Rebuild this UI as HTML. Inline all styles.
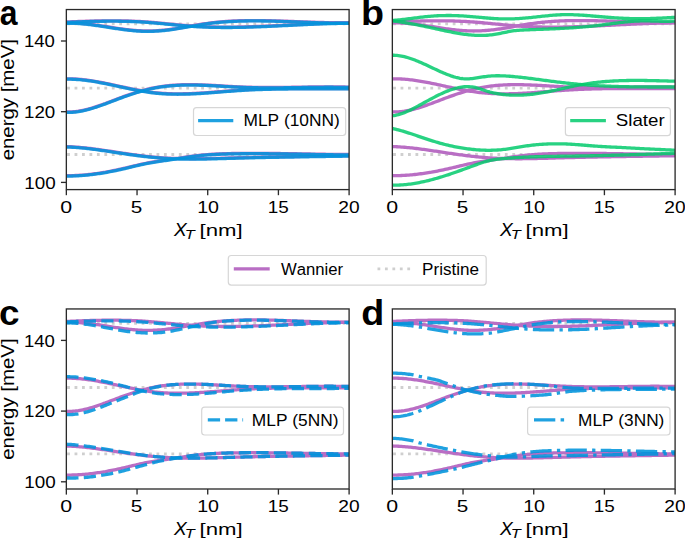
<!DOCTYPE html>
<html><head><meta charset="utf-8"><style>
html,body{margin:0;padding:0;background:#fff;}
svg{display:block;}
text{font-family:"Liberation Sans",sans-serif;fill:#000;font-kerning:none;}
.ax{stroke:#2a2a2a;stroke-width:1.33;fill:none;}
.tk{font-size:17px;}
.xl{font-size:17px;}
.lg{font-size:17px;}
.pl{font-size:35px;font-weight:bold;}
</style></head><body>
<svg width="685" height="539" viewBox="0 0 685 539">
<rect width="685" height="539" fill="#fff"/>

<defs>
<clipPath id="clipa"><rect x="66.35" y="9.55" width="282.75" height="180.05"/></clipPath>
<clipPath id="clipb"><rect x="392.35" y="9.55" width="282.75" height="180.05"/></clipPath>
<clipPath id="clipc"><rect x="66.35" y="308.95" width="282.75" height="180.05"/></clipPath>
<clipPath id="clipd"><rect x="392.35" y="308.95" width="282.75" height="180.05"/></clipPath>
</defs>
<g clip-path="url(#clipa)">
<line x1="66.35" y1="23.90" x2="349.10" y2="23.90" stroke="#cfcfcf" stroke-width="2.8" stroke-dasharray="2.8 4.65" stroke-dashoffset="-0.75"/>
<line x1="66.35" y1="88.10" x2="349.10" y2="88.10" stroke="#cfcfcf" stroke-width="2.8" stroke-dasharray="2.8 4.65" stroke-dashoffset="-0.75"/>
<line x1="66.35" y1="154.50" x2="349.10" y2="154.50" stroke="#cfcfcf" stroke-width="2.8" stroke-dasharray="2.8 4.65" stroke-dashoffset="-0.75"/>
<path d="M66.3,22.01 L67.9,21.94 L69.4,21.88 L70.9,21.82 L72.4,21.75 L73.9,21.69 L75.4,21.63 L76.9,21.58 L78.4,21.52 L79.9,21.46 L81.4,21.41 L82.9,21.36 L84.4,21.30 L85.9,21.26 L87.4,21.21 L88.9,21.16 L90.4,21.12 L91.9,21.08 L93.4,21.04 L94.9,21.01 L96.4,20.97 L97.9,20.94 L99.4,20.91 L100.9,20.89 L102.4,20.86 L103.9,20.84 L105.5,20.83 L107.0,20.81 L108.5,20.80 L110.0,20.80 L111.5,20.79 L113.0,20.80 L114.5,20.80 L116.0,20.81 L117.5,20.82 L119.0,20.83 L120.5,20.85 L122.0,20.88 L123.5,20.91 L125.0,20.94 L126.5,20.97 L128.0,21.02 L129.5,21.06 L131.0,21.11 L132.5,21.17 L134.0,21.23 L135.5,21.30 L137.0,21.37 L138.5,21.44 L140.0,21.52 L141.5,21.61 L143.1,21.70 L144.6,21.80 L146.1,21.90 L147.6,22.01 L149.1,22.13 L150.6,22.25 L152.1,22.37 L153.6,22.50 L155.1,22.63 L156.6,22.76 L158.1,22.90 L159.6,23.04 L161.1,23.18 L162.6,23.33 L164.1,23.47 L165.6,23.62 L167.1,23.77 L168.6,23.92 L170.1,24.06 L171.6,24.21 L173.1,24.36 L174.6,24.51 L176.1,24.65 L177.6,24.79 L179.1,24.93 L180.7,25.07 L182.2,25.21 L183.7,25.34 L185.2,25.47 L186.7,25.59 L188.2,25.71 L189.7,25.83 L191.2,25.94 L192.7,26.05 L194.2,26.15 L195.7,26.24 L197.2,26.33 L198.7,26.41 L200.2,26.49 L201.7,26.56 L203.2,26.63 L204.7,26.69 L206.2,26.75 L207.7,26.81 L209.2,26.85 L210.7,26.90 L212.2,26.94 L213.7,26.97 L215.2,27.00 L216.7,27.03 L218.3,27.05 L219.8,27.07 L221.3,27.09 L222.8,27.10 L224.3,27.10 L225.8,27.11 L227.3,27.11 L228.8,27.10 L230.3,27.09 L231.8,27.08 L233.3,27.07 L234.8,27.05 L236.3,27.03 L237.8,27.01 L239.3,26.98 L240.8,26.95 L242.3,26.92 L243.8,26.88 L245.3,26.84 L246.8,26.80 L248.3,26.76 L249.8,26.72 L251.3,26.67 L252.8,26.62 L254.3,26.57 L255.9,26.51 L257.4,26.46 L258.9,26.40 L260.4,26.34 L261.9,26.28 L263.4,26.22 L264.9,26.16 L266.4,26.09 L267.9,26.03 L269.4,25.96 L270.9,25.89 L272.4,25.82 L273.9,25.75 L275.4,25.68 L276.9,25.60 L278.4,25.53 L279.9,25.46 L281.4,25.38 L282.9,25.31 L284.4,25.23 L285.9,25.16 L287.4,25.08 L288.9,25.01 L290.4,24.93 L291.9,24.86 L293.5,24.78 L295.0,24.71 L296.5,24.63 L298.0,24.56 L299.5,24.48 L301.0,24.41 L302.5,24.34 L304.0,24.27 L305.5,24.20 L307.0,24.13 L308.5,24.06 L310.0,23.99 L311.5,23.92 L313.0,23.86 L314.5,23.80 L316.0,23.73 L317.5,23.67 L319.0,23.61 L320.5,23.56 L322.0,23.50 L323.5,23.45 L325.0,23.40 L326.5,23.35 L328.0,23.30 L329.5,23.26 L331.1,23.21 L332.6,23.17 L334.1,23.14 L335.6,23.10 L337.1,23.07 L338.6,23.04 L340.1,23.01 L341.6,22.99 L343.1,22.97 L344.6,22.95 L346.1,22.94 L347.6,22.93 L349.1,22.92" stroke="#b96ec4" stroke-width="3.3" fill="none" />
<path d="M66.3,22.94 L67.9,22.90 L69.4,22.89 L70.9,22.89 L72.4,22.91 L73.9,22.95 L75.4,23.00 L76.9,23.07 L78.4,23.16 L79.9,23.26 L81.4,23.37 L82.9,23.50 L84.4,23.64 L85.9,23.79 L87.4,23.96 L88.9,24.13 L90.4,24.31 L91.9,24.50 L93.4,24.70 L94.9,24.90 L96.4,25.12 L97.9,25.33 L99.4,25.55 L100.9,25.78 L102.4,26.01 L103.9,26.24 L105.5,26.48 L107.0,26.71 L108.5,26.95 L110.0,27.19 L111.5,27.42 L113.0,27.66 L114.5,27.89 L116.0,28.12 L117.5,28.34 L119.0,28.56 L120.5,28.77 L122.0,28.98 L123.5,29.18 L125.0,29.37 L126.5,29.56 L128.0,29.74 L129.5,29.91 L131.0,30.06 L132.5,30.21 L134.0,30.35 L135.5,30.47 L137.0,30.58 L138.5,30.68 L140.0,30.77 L141.5,30.84 L143.1,30.90 L144.6,30.94 L146.1,30.97 L147.6,30.98 L149.1,30.97 L150.6,30.95 L152.1,30.91 L153.6,30.86 L155.1,30.80 L156.6,30.72 L158.1,30.62 L159.6,30.52 L161.1,30.40 L162.6,30.26 L164.1,30.12 L165.6,29.96 L167.1,29.79 L168.6,29.61 L170.1,29.42 L171.6,29.21 L173.1,29.00 L174.6,28.78 L176.1,28.55 L177.6,28.31 L179.1,28.06 L180.7,27.81 L182.2,27.55 L183.7,27.29 L185.2,27.03 L186.7,26.77 L188.2,26.50 L189.7,26.23 L191.2,25.97 L192.7,25.70 L194.2,25.44 L195.7,25.18 L197.2,24.92 L198.7,24.67 L200.2,24.42 L201.7,24.18 L203.2,23.95 L204.7,23.72 L206.2,23.51 L207.7,23.30 L209.2,23.10 L210.7,22.91 L212.2,22.73 L213.7,22.56 L215.2,22.39 L216.7,22.24 L218.3,22.09 L219.8,21.95 L221.3,21.82 L222.8,21.69 L224.3,21.57 L225.8,21.46 L227.3,21.36 L228.8,21.26 L230.3,21.17 L231.8,21.09 L233.3,21.01 L234.8,20.94 L236.3,20.88 L237.8,20.82 L239.3,20.77 L240.8,20.72 L242.3,20.68 L243.8,20.65 L245.3,20.61 L246.8,20.59 L248.3,20.57 L249.8,20.55 L251.3,20.54 L252.8,20.53 L254.3,20.53 L255.9,20.53 L257.4,20.54 L258.9,20.55 L260.4,20.56 L261.9,20.58 L263.4,20.60 L264.9,20.62 L266.4,20.65 L267.9,20.68 L269.4,20.71 L270.9,20.74 L272.4,20.78 L273.9,20.82 L275.4,20.86 L276.9,20.91 L278.4,20.95 L279.9,21.00 L281.4,21.05 L282.9,21.10 L284.4,21.15 L285.9,21.21 L287.4,21.26 L288.9,21.32 L290.4,21.37 L291.9,21.43 L293.5,21.49 L295.0,21.54 L296.5,21.60 L298.0,21.66 L299.5,21.72 L301.0,21.78 L302.5,21.83 L304.0,21.89 L305.5,21.95 L307.0,22.00 L308.5,22.06 L310.0,22.11 L311.5,22.16 L313.0,22.21 L314.5,22.26 L316.0,22.31 L317.5,22.35 L319.0,22.40 L320.5,22.44 L322.0,22.48 L323.5,22.51 L325.0,22.55 L326.5,22.58 L328.0,22.61 L329.5,22.63 L331.1,22.66 L332.6,22.68 L334.1,22.69 L335.6,22.70 L337.1,22.71 L338.6,22.72 L340.1,22.72 L341.6,22.71 L343.1,22.71 L344.6,22.69 L346.1,22.68 L347.6,22.65 L349.1,22.63" stroke="#b96ec4" stroke-width="3.3" fill="none" />
<path d="M66.3,78.81 L67.9,78.79 L69.4,78.80 L70.9,78.82 L72.4,78.86 L73.9,78.92 L75.4,79.00 L76.9,79.09 L78.4,79.20 L79.9,79.33 L81.4,79.47 L82.9,79.62 L84.4,79.79 L85.9,79.97 L87.4,80.17 L88.9,80.37 L90.4,80.59 L91.9,80.82 L93.4,81.06 L94.9,81.31 L96.4,81.57 L97.9,81.84 L99.4,82.11 L100.9,82.40 L102.4,82.69 L103.9,82.98 L105.5,83.28 L107.0,83.59 L108.5,83.90 L110.0,84.22 L111.5,84.54 L113.0,84.86 L114.5,85.18 L116.0,85.51 L117.5,85.84 L119.0,86.16 L120.5,86.49 L122.0,86.82 L123.5,87.14 L125.0,87.47 L126.5,87.79 L128.0,88.11 L129.5,88.42 L131.0,88.74 L132.5,89.04 L134.0,89.34 L135.5,89.64 L137.0,89.93 L138.5,90.21 L140.0,90.48 L141.5,90.75 L143.1,91.01 L144.6,91.26 L146.1,91.49 L147.6,91.72 L149.1,91.94 L150.6,92.14 L152.1,92.34 L153.6,92.52 L155.1,92.68 L156.6,92.84 L158.1,92.98 L159.6,93.11 L161.1,93.23 L162.6,93.33 L164.1,93.43 L165.6,93.51 L167.1,93.59 L168.6,93.65 L170.1,93.70 L171.6,93.75 L173.1,93.78 L174.6,93.80 L176.1,93.82 L177.6,93.83 L179.1,93.82 L180.7,93.81 L182.2,93.80 L183.7,93.77 L185.2,93.74 L186.7,93.70 L188.2,93.65 L189.7,93.60 L191.2,93.54 L192.7,93.48 L194.2,93.41 L195.7,93.33 L197.2,93.25 L198.7,93.17 L200.2,93.08 L201.7,92.98 L203.2,92.89 L204.7,92.79 L206.2,92.68 L207.7,92.58 L209.2,92.47 L210.7,92.36 L212.2,92.24 L213.7,92.13 L215.2,92.01 L216.7,91.89 L218.3,91.77 L219.8,91.65 L221.3,91.53 L222.8,91.42 L224.3,91.30 L225.8,91.18 L227.3,91.06 L228.8,90.94 L230.3,90.83 L231.8,90.71 L233.3,90.60 L234.8,90.49 L236.3,90.38 L237.8,90.28 L239.3,90.18 L240.8,90.08 L242.3,89.99 L243.8,89.90 L245.3,89.81 L246.8,89.73 L248.3,89.65 L249.8,89.57 L251.3,89.50 L252.8,89.43 L254.3,89.37 L255.9,89.30 L257.4,89.24 L258.9,89.19 L260.4,89.13 L261.9,89.08 L263.4,89.03 L264.9,88.99 L266.4,88.95 L267.9,88.91 L269.4,88.87 L270.9,88.83 L272.4,88.80 L273.9,88.77 L275.4,88.74 L276.9,88.71 L278.4,88.69 L279.9,88.67 L281.4,88.65 L282.9,88.63 L284.4,88.61 L285.9,88.59 L287.4,88.58 L288.9,88.57 L290.4,88.56 L291.9,88.55 L293.5,88.54 L295.0,88.53 L296.5,88.53 L298.0,88.52 L299.5,88.52 L301.0,88.52 L302.5,88.52 L304.0,88.52 L305.5,88.52 L307.0,88.52 L308.5,88.52 L310.0,88.52 L311.5,88.52 L313.0,88.53 L314.5,88.53 L316.0,88.53 L317.5,88.54 L319.0,88.54 L320.5,88.54 L322.0,88.55 L323.5,88.55 L325.0,88.55 L326.5,88.56 L328.0,88.56 L329.5,88.56 L331.1,88.56 L332.6,88.56 L334.1,88.56 L335.6,88.56 L337.1,88.56 L338.6,88.56 L340.1,88.56 L341.6,88.56 L343.1,88.55 L344.6,88.55 L346.1,88.54 L347.6,88.53 L349.1,88.52" stroke="#b96ec4" stroke-width="3.3" fill="none" />
<path d="M66.3,111.88 L67.9,111.93 L69.4,111.94 L70.9,111.91 L72.4,111.85 L73.9,111.74 L75.4,111.60 L76.9,111.42 L78.4,111.22 L79.9,110.98 L81.4,110.71 L82.9,110.41 L84.4,110.08 L85.9,109.73 L87.4,109.35 L88.9,108.95 L90.4,108.53 L91.9,108.09 L93.4,107.63 L94.9,107.15 L96.4,106.66 L97.9,106.15 L99.4,105.63 L100.9,105.10 L102.4,104.56 L103.9,104.01 L105.5,103.45 L107.0,102.88 L108.5,102.31 L110.0,101.74 L111.5,101.17 L113.0,100.59 L114.5,100.02 L116.0,99.45 L117.5,98.88 L119.0,98.32 L120.5,97.76 L122.0,97.21 L123.5,96.66 L125.0,96.13 L126.5,95.59 L128.0,95.07 L129.5,94.56 L131.0,94.05 L132.5,93.55 L134.0,93.06 L135.5,92.59 L137.0,92.12 L138.5,91.67 L140.0,91.22 L141.5,90.79 L143.1,90.38 L144.6,89.97 L146.1,89.58 L147.6,89.21 L149.1,88.85 L150.6,88.51 L152.1,88.18 L153.6,87.87 L155.1,87.57 L156.6,87.30 L158.1,87.04 L159.6,86.79 L161.1,86.56 L162.6,86.35 L164.1,86.15 L165.6,85.96 L167.1,85.79 L168.6,85.63 L170.1,85.49 L171.6,85.36 L173.1,85.24 L174.6,85.13 L176.1,85.04 L177.6,84.95 L179.1,84.88 L180.7,84.82 L182.2,84.77 L183.7,84.73 L185.2,84.69 L186.7,84.67 L188.2,84.66 L189.7,84.65 L191.2,84.66 L192.7,84.67 L194.2,84.69 L195.7,84.71 L197.2,84.74 L198.7,84.78 L200.2,84.83 L201.7,84.87 L203.2,84.93 L204.7,84.99 L206.2,85.05 L207.7,85.12 L209.2,85.19 L210.7,85.27 L212.2,85.35 L213.7,85.43 L215.2,85.51 L216.7,85.60 L218.3,85.68 L219.8,85.77 L221.3,85.86 L222.8,85.95 L224.3,86.04 L225.8,86.13 L227.3,86.22 L228.8,86.30 L230.3,86.39 L231.8,86.47 L233.3,86.55 L234.8,86.63 L236.3,86.71 L237.8,86.78 L239.3,86.85 L240.8,86.92 L242.3,86.98 L243.8,87.04 L245.3,87.09 L246.8,87.14 L248.3,87.18 L249.8,87.22 L251.3,87.26 L252.8,87.29 L254.3,87.32 L255.9,87.35 L257.4,87.37 L258.9,87.39 L260.4,87.41 L261.9,87.42 L263.4,87.44 L264.9,87.44 L266.4,87.45 L267.9,87.45 L269.4,87.45 L270.9,87.45 L272.4,87.45 L273.9,87.44 L275.4,87.44 L276.9,87.43 L278.4,87.42 L279.9,87.41 L281.4,87.39 L282.9,87.38 L284.4,87.36 L285.9,87.34 L287.4,87.32 L288.9,87.30 L290.4,87.28 L291.9,87.26 L293.5,87.24 L295.0,87.22 L296.5,87.20 L298.0,87.18 L299.5,87.15 L301.0,87.13 L302.5,87.11 L304.0,87.09 L305.5,87.07 L307.0,87.04 L308.5,87.02 L310.0,87.00 L311.5,86.99 L313.0,86.97 L314.5,86.95 L316.0,86.93 L317.5,86.92 L319.0,86.91 L320.5,86.89 L322.0,86.88 L323.5,86.88 L325.0,86.87 L326.5,86.87 L328.0,86.86 L329.5,86.86 L331.1,86.86 L332.6,86.87 L334.1,86.88 L335.6,86.89 L337.1,86.90 L338.6,86.91 L340.1,86.93 L341.6,86.95 L343.1,86.98 L344.6,87.01 L346.1,87.04 L347.6,87.07 L349.1,87.11" stroke="#b96ec4" stroke-width="3.3" fill="none" />
<path d="M66.3,146.61 L67.9,146.65 L69.4,146.70 L70.9,146.77 L72.4,146.84 L73.9,146.93 L75.4,147.03 L76.9,147.14 L78.4,147.25 L79.9,147.38 L81.4,147.52 L82.9,147.66 L84.4,147.81 L85.9,147.97 L87.4,148.14 L88.9,148.31 L90.4,148.49 L91.9,148.68 L93.4,148.87 L94.9,149.07 L96.4,149.27 L97.9,149.47 L99.4,149.68 L100.9,149.90 L102.4,150.12 L103.9,150.34 L105.5,150.56 L107.0,150.78 L108.5,151.01 L110.0,151.23 L111.5,151.46 L113.0,151.69 L114.5,151.92 L116.0,152.15 L117.5,152.38 L119.0,152.60 L120.5,152.83 L122.0,153.05 L123.5,153.27 L125.0,153.49 L126.5,153.71 L128.0,153.93 L129.5,154.14 L131.0,154.35 L132.5,154.56 L134.0,154.77 L135.5,154.97 L137.0,155.17 L138.5,155.36 L140.0,155.55 L141.5,155.74 L143.1,155.92 L144.6,156.10 L146.1,156.27 L147.6,156.44 L149.1,156.60 L150.6,156.76 L152.1,156.91 L153.6,157.06 L155.1,157.20 L156.6,157.33 L158.1,157.46 L159.6,157.58 L161.1,157.70 L162.6,157.81 L164.1,157.91 L165.6,158.00 L167.1,158.09 L168.6,158.17 L170.1,158.25 L171.6,158.32 L173.1,158.38 L174.6,158.44 L176.1,158.49 L177.6,158.53 L179.1,158.58 L180.7,158.61 L182.2,158.64 L183.7,158.67 L185.2,158.69 L186.7,158.71 L188.2,158.72 L189.7,158.73 L191.2,158.74 L192.7,158.74 L194.2,158.74 L195.7,158.73 L197.2,158.72 L198.7,158.71 L200.2,158.69 L201.7,158.67 L203.2,158.65 L204.7,158.63 L206.2,158.60 L207.7,158.57 L209.2,158.54 L210.7,158.51 L212.2,158.47 L213.7,158.44 L215.2,158.40 L216.7,158.36 L218.3,158.32 L219.8,158.28 L221.3,158.24 L222.8,158.19 L224.3,158.15 L225.8,158.11 L227.3,158.06 L228.8,158.02 L230.3,157.97 L231.8,157.93 L233.3,157.88 L234.8,157.84 L236.3,157.80 L237.8,157.76 L239.3,157.71 L240.8,157.67 L242.3,157.63 L243.8,157.59 L245.3,157.56 L246.8,157.52 L248.3,157.48 L249.8,157.44 L251.3,157.41 L252.8,157.37 L254.3,157.34 L255.9,157.30 L257.4,157.27 L258.9,157.23 L260.4,157.20 L261.9,157.17 L263.4,157.14 L264.9,157.10 L266.4,157.07 L267.9,157.04 L269.4,157.01 L270.9,156.98 L272.4,156.95 L273.9,156.92 L275.4,156.90 L276.9,156.87 L278.4,156.84 L279.9,156.81 L281.4,156.78 L282.9,156.76 L284.4,156.73 L285.9,156.71 L287.4,156.68 L288.9,156.65 L290.4,156.63 L291.9,156.60 L293.5,156.58 L295.0,156.55 L296.5,156.53 L298.0,156.50 L299.5,156.48 L301.0,156.46 L302.5,156.43 L304.0,156.41 L305.5,156.39 L307.0,156.36 L308.5,156.34 L310.0,156.32 L311.5,156.29 L313.0,156.27 L314.5,156.25 L316.0,156.23 L317.5,156.20 L319.0,156.18 L320.5,156.16 L322.0,156.14 L323.5,156.12 L325.0,156.09 L326.5,156.07 L328.0,156.05 L329.5,156.03 L331.1,156.00 L332.6,155.98 L334.1,155.96 L335.6,155.94 L337.1,155.91 L338.6,155.89 L340.1,155.87 L341.6,155.84 L343.1,155.82 L344.6,155.80 L346.1,155.77 L347.6,155.75 L349.1,155.73" stroke="#b96ec4" stroke-width="3.3" fill="none" />
<path d="M66.3,175.65 L67.9,175.66 L69.4,175.66 L70.9,175.64 L72.4,175.61 L73.9,175.56 L75.4,175.51 L76.9,175.44 L78.4,175.36 L79.9,175.27 L81.4,175.17 L82.9,175.05 L84.4,174.93 L85.9,174.79 L87.4,174.65 L88.9,174.49 L90.4,174.32 L91.9,174.15 L93.4,173.96 L94.9,173.76 L96.4,173.56 L97.9,173.34 L99.4,173.12 L100.9,172.88 L102.4,172.64 L103.9,172.39 L105.5,172.14 L107.0,171.87 L108.5,171.59 L110.0,171.31 L111.5,171.02 L113.0,170.73 L114.5,170.42 L116.0,170.11 L117.5,169.80 L119.0,169.47 L120.5,169.14 L122.0,168.81 L123.5,168.46 L125.0,168.12 L126.5,167.76 L128.0,167.41 L129.5,167.04 L131.0,166.68 L132.5,166.31 L134.0,165.95 L135.5,165.59 L137.0,165.23 L138.5,164.88 L140.0,164.54 L141.5,164.20 L143.1,163.88 L144.6,163.56 L146.1,163.26 L147.6,162.96 L149.1,162.68 L150.6,162.41 L152.1,162.15 L153.6,161.90 L155.1,161.66 L156.6,161.43 L158.1,161.20 L159.6,160.97 L161.1,160.75 L162.6,160.54 L164.1,160.32 L165.6,160.10 L167.1,159.89 L168.6,159.67 L170.1,159.45 L171.6,159.22 L173.1,158.99 L174.6,158.76 L176.1,158.53 L177.6,158.30 L179.1,158.07 L180.7,157.84 L182.2,157.61 L183.7,157.38 L185.2,157.15 L186.7,156.93 L188.2,156.71 L189.7,156.49 L191.2,156.29 L192.7,156.08 L194.2,155.89 L195.7,155.71 L197.2,155.53 L198.7,155.37 L200.2,155.21 L201.7,155.06 L203.2,154.92 L204.7,154.79 L206.2,154.67 L207.7,154.55 L209.2,154.44 L210.7,154.34 L212.2,154.25 L213.7,154.16 L215.2,154.08 L216.7,154.00 L218.3,153.93 L219.8,153.87 L221.3,153.81 L222.8,153.75 L224.3,153.70 L225.8,153.65 L227.3,153.61 L228.8,153.57 L230.3,153.54 L231.8,153.51 L233.3,153.48 L234.8,153.45 L236.3,153.43 L237.8,153.40 L239.3,153.38 L240.8,153.37 L242.3,153.35 L243.8,153.34 L245.3,153.33 L246.8,153.32 L248.3,153.31 L249.8,153.30 L251.3,153.30 L252.8,153.30 L254.3,153.30 L255.9,153.30 L257.4,153.30 L258.9,153.31 L260.4,153.31 L261.9,153.32 L263.4,153.33 L264.9,153.34 L266.4,153.35 L267.9,153.36 L269.4,153.38 L270.9,153.39 L272.4,153.41 L273.9,153.43 L275.4,153.44 L276.9,153.46 L278.4,153.48 L279.9,153.50 L281.4,153.53 L282.9,153.55 L284.4,153.57 L285.9,153.59 L287.4,153.62 L288.9,153.64 L290.4,153.67 L291.9,153.70 L293.5,153.72 L295.0,153.75 L296.5,153.77 L298.0,153.80 L299.5,153.83 L301.0,153.86 L302.5,153.88 L304.0,153.91 L305.5,153.94 L307.0,153.97 L308.5,153.99 L310.0,154.02 L311.5,154.05 L313.0,154.07 L314.5,154.10 L316.0,154.13 L317.5,154.15 L319.0,154.18 L320.5,154.20 L322.0,154.22 L323.5,154.25 L325.0,154.27 L326.5,154.29 L328.0,154.31 L329.5,154.33 L331.1,154.35 L332.6,154.37 L334.1,154.39 L335.6,154.40 L337.1,154.42 L338.6,154.43 L340.1,154.45 L341.6,154.46 L343.1,154.47 L344.6,154.48 L346.1,154.49 L347.6,154.49 L349.1,154.50" stroke="#b96ec4" stroke-width="3.3" fill="none" />
<path d="M66.3,22.41 L67.9,22.34 L69.4,22.28 L70.9,22.22 L72.4,22.15 L73.9,22.09 L75.4,22.03 L76.9,21.98 L78.4,21.92 L79.9,21.86 L81.4,21.81 L82.9,21.76 L84.4,21.70 L85.9,21.66 L87.4,21.61 L88.9,21.56 L90.4,21.52 L91.9,21.48 L93.4,21.44 L94.9,21.41 L96.4,21.37 L97.9,21.34 L99.4,21.31 L100.9,21.29 L102.4,21.26 L103.9,21.24 L105.5,21.23 L107.0,21.21 L108.5,21.20 L110.0,21.20 L111.5,21.19 L113.0,21.20 L114.5,21.20 L116.0,21.21 L117.5,21.22 L119.0,21.23 L120.5,21.25 L122.0,21.28 L123.5,21.31 L125.0,21.34 L126.5,21.37 L128.0,21.42 L129.5,21.46 L131.0,21.51 L132.5,21.57 L134.0,21.63 L135.5,21.70 L137.0,21.77 L138.5,21.84 L140.0,21.92 L141.5,22.01 L143.1,22.10 L144.6,22.20 L146.1,22.30 L147.6,22.41 L149.1,22.53 L150.6,22.65 L152.1,22.77 L153.6,22.90 L155.1,23.03 L156.6,23.16 L158.1,23.30 L159.6,23.44 L161.1,23.58 L162.6,23.73 L164.1,23.87 L165.6,24.02 L167.1,24.17 L168.6,24.32 L170.1,24.46 L171.6,24.61 L173.1,24.76 L174.6,24.91 L176.1,25.05 L177.6,25.19 L179.1,25.33 L180.7,25.47 L182.2,25.61 L183.7,25.74 L185.2,25.87 L186.7,25.99 L188.2,26.11 L189.7,26.23 L191.2,26.34 L192.7,26.45 L194.2,26.55 L195.7,26.64 L197.2,26.73 L198.7,26.81 L200.2,26.89 L201.7,26.96 L203.2,27.03 L204.7,27.09 L206.2,27.15 L207.7,27.21 L209.2,27.25 L210.7,27.30 L212.2,27.34 L213.7,27.37 L215.2,27.40 L216.7,27.43 L218.3,27.45 L219.8,27.47 L221.3,27.49 L222.8,27.50 L224.3,27.50 L225.8,27.51 L227.3,27.51 L228.8,27.50 L230.3,27.49 L231.8,27.48 L233.3,27.47 L234.8,27.45 L236.3,27.43 L237.8,27.41 L239.3,27.38 L240.8,27.35 L242.3,27.32 L243.8,27.28 L245.3,27.24 L246.8,27.20 L248.3,27.16 L249.8,27.12 L251.3,27.07 L252.8,27.02 L254.3,26.97 L255.9,26.91 L257.4,26.86 L258.9,26.80 L260.4,26.74 L261.9,26.68 L263.4,26.62 L264.9,26.56 L266.4,26.49 L267.9,26.43 L269.4,26.36 L270.9,26.29 L272.4,26.22 L273.9,26.15 L275.4,26.08 L276.9,26.00 L278.4,25.93 L279.9,25.86 L281.4,25.78 L282.9,25.71 L284.4,25.63 L285.9,25.56 L287.4,25.48 L288.9,25.41 L290.4,25.33 L291.9,25.26 L293.5,25.18 L295.0,25.11 L296.5,25.03 L298.0,24.96 L299.5,24.88 L301.0,24.81 L302.5,24.74 L304.0,24.67 L305.5,24.60 L307.0,24.53 L308.5,24.46 L310.0,24.39 L311.5,24.32 L313.0,24.26 L314.5,24.20 L316.0,24.13 L317.5,24.07 L319.0,24.01 L320.5,23.96 L322.0,23.90 L323.5,23.85 L325.0,23.80 L326.5,23.75 L328.0,23.70 L329.5,23.66 L331.1,23.61 L332.6,23.57 L334.1,23.54 L335.6,23.50 L337.1,23.47 L338.6,23.44 L340.1,23.41 L341.6,23.39 L343.1,23.37 L344.6,23.35 L346.1,23.34 L347.6,23.33 L349.1,23.32" stroke="rgb(0,148,220)" stroke-width="3.3" fill="none" stroke-opacity="0.88"/>
<path d="M66.3,23.34 L67.9,23.30 L69.4,23.29 L70.9,23.29 L72.4,23.31 L73.9,23.35 L75.4,23.40 L76.9,23.47 L78.4,23.56 L79.9,23.66 L81.4,23.77 L82.9,23.90 L84.4,24.04 L85.9,24.19 L87.4,24.36 L88.9,24.53 L90.4,24.71 L91.9,24.90 L93.4,25.10 L94.9,25.30 L96.4,25.52 L97.9,25.73 L99.4,25.95 L100.9,26.18 L102.4,26.41 L103.9,26.64 L105.5,26.88 L107.0,27.11 L108.5,27.35 L110.0,27.59 L111.5,27.82 L113.0,28.06 L114.5,28.29 L116.0,28.52 L117.5,28.74 L119.0,28.96 L120.5,29.17 L122.0,29.38 L123.5,29.58 L125.0,29.77 L126.5,29.96 L128.0,30.14 L129.5,30.31 L131.0,30.46 L132.5,30.61 L134.0,30.75 L135.5,30.87 L137.0,30.98 L138.5,31.08 L140.0,31.17 L141.5,31.24 L143.1,31.30 L144.6,31.34 L146.1,31.37 L147.6,31.38 L149.1,31.37 L150.6,31.35 L152.1,31.31 L153.6,31.26 L155.1,31.20 L156.6,31.12 L158.1,31.02 L159.6,30.92 L161.1,30.80 L162.6,30.66 L164.1,30.52 L165.6,30.36 L167.1,30.19 L168.6,30.01 L170.1,29.82 L171.6,29.61 L173.1,29.40 L174.6,29.18 L176.1,28.95 L177.6,28.71 L179.1,28.46 L180.7,28.21 L182.2,27.95 L183.7,27.69 L185.2,27.43 L186.7,27.17 L188.2,26.90 L189.7,26.63 L191.2,26.37 L192.7,26.10 L194.2,25.84 L195.7,25.58 L197.2,25.32 L198.7,25.07 L200.2,24.82 L201.7,24.58 L203.2,24.35 L204.7,24.12 L206.2,23.91 L207.7,23.70 L209.2,23.50 L210.7,23.31 L212.2,23.13 L213.7,22.96 L215.2,22.79 L216.7,22.64 L218.3,22.49 L219.8,22.35 L221.3,22.22 L222.8,22.09 L224.3,21.97 L225.8,21.86 L227.3,21.76 L228.8,21.66 L230.3,21.57 L231.8,21.49 L233.3,21.41 L234.8,21.34 L236.3,21.28 L237.8,21.22 L239.3,21.17 L240.8,21.12 L242.3,21.08 L243.8,21.05 L245.3,21.01 L246.8,20.99 L248.3,20.97 L249.8,20.95 L251.3,20.94 L252.8,20.93 L254.3,20.93 L255.9,20.93 L257.4,20.94 L258.9,20.95 L260.4,20.96 L261.9,20.98 L263.4,21.00 L264.9,21.02 L266.4,21.05 L267.9,21.08 L269.4,21.11 L270.9,21.14 L272.4,21.18 L273.9,21.22 L275.4,21.26 L276.9,21.31 L278.4,21.35 L279.9,21.40 L281.4,21.45 L282.9,21.50 L284.4,21.55 L285.9,21.61 L287.4,21.66 L288.9,21.72 L290.4,21.77 L291.9,21.83 L293.5,21.89 L295.0,21.94 L296.5,22.00 L298.0,22.06 L299.5,22.12 L301.0,22.18 L302.5,22.23 L304.0,22.29 L305.5,22.35 L307.0,22.40 L308.5,22.46 L310.0,22.51 L311.5,22.56 L313.0,22.61 L314.5,22.66 L316.0,22.71 L317.5,22.75 L319.0,22.80 L320.5,22.84 L322.0,22.88 L323.5,22.91 L325.0,22.95 L326.5,22.98 L328.0,23.01 L329.5,23.03 L331.1,23.06 L332.6,23.08 L334.1,23.09 L335.6,23.10 L337.1,23.11 L338.6,23.12 L340.1,23.12 L341.6,23.11 L343.1,23.11 L344.6,23.09 L346.1,23.08 L347.6,23.05 L349.1,23.03" stroke="rgb(0,148,220)" stroke-width="3.3" fill="none" stroke-opacity="0.88"/>
<path d="M66.3,79.21 L67.9,79.19 L69.4,79.20 L70.9,79.22 L72.4,79.26 L73.9,79.32 L75.4,79.40 L76.9,79.49 L78.4,79.60 L79.9,79.73 L81.4,79.87 L82.9,80.02 L84.4,80.19 L85.9,80.37 L87.4,80.57 L88.9,80.77 L90.4,80.99 L91.9,81.22 L93.4,81.46 L94.9,81.71 L96.4,81.97 L97.9,82.24 L99.4,82.51 L100.9,82.80 L102.4,83.09 L103.9,83.38 L105.5,83.68 L107.0,83.99 L108.5,84.30 L110.0,84.62 L111.5,84.94 L113.0,85.26 L114.5,85.58 L116.0,85.91 L117.5,86.24 L119.0,86.56 L120.5,86.89 L122.0,87.22 L123.5,87.54 L125.0,87.87 L126.5,88.19 L128.0,88.51 L129.5,88.82 L131.0,89.14 L132.5,89.44 L134.0,89.74 L135.5,90.04 L137.0,90.33 L138.5,90.61 L140.0,90.88 L141.5,91.15 L143.1,91.41 L144.6,91.66 L146.1,91.89 L147.6,92.12 L149.1,92.34 L150.6,92.54 L152.1,92.74 L153.6,92.92 L155.1,93.08 L156.6,93.24 L158.1,93.38 L159.6,93.51 L161.1,93.63 L162.6,93.73 L164.1,93.83 L165.6,93.91 L167.1,93.99 L168.6,94.05 L170.1,94.10 L171.6,94.15 L173.1,94.18 L174.6,94.20 L176.1,94.22 L177.6,94.23 L179.1,94.22 L180.7,94.21 L182.2,94.20 L183.7,94.17 L185.2,94.14 L186.7,94.10 L188.2,94.05 L189.7,94.00 L191.2,93.94 L192.7,93.88 L194.2,93.81 L195.7,93.73 L197.2,93.65 L198.7,93.57 L200.2,93.48 L201.7,93.38 L203.2,93.29 L204.7,93.19 L206.2,93.08 L207.7,92.98 L209.2,92.87 L210.7,92.76 L212.2,92.64 L213.7,92.53 L215.2,92.41 L216.7,92.29 L218.3,92.17 L219.8,92.05 L221.3,91.93 L222.8,91.82 L224.3,91.70 L225.8,91.58 L227.3,91.46 L228.8,91.34 L230.3,91.23 L231.8,91.11 L233.3,91.00 L234.8,90.89 L236.3,90.78 L237.8,90.68 L239.3,90.58 L240.8,90.48 L242.3,90.39 L243.8,90.30 L245.3,90.21 L246.8,90.13 L248.3,90.05 L249.8,89.97 L251.3,89.90 L252.8,89.83 L254.3,89.77 L255.9,89.70 L257.4,89.64 L258.9,89.59 L260.4,89.53 L261.9,89.48 L263.4,89.43 L264.9,89.39 L266.4,89.35 L267.9,89.31 L269.4,89.27 L270.9,89.23 L272.4,89.20 L273.9,89.17 L275.4,89.14 L276.9,89.11 L278.4,89.09 L279.9,89.07 L281.4,89.05 L282.9,89.03 L284.4,89.01 L285.9,88.99 L287.4,88.98 L288.9,88.97 L290.4,88.96 L291.9,88.95 L293.5,88.94 L295.0,88.93 L296.5,88.93 L298.0,88.92 L299.5,88.92 L301.0,88.92 L302.5,88.92 L304.0,88.92 L305.5,88.92 L307.0,88.92 L308.5,88.92 L310.0,88.92 L311.5,88.92 L313.0,88.93 L314.5,88.93 L316.0,88.93 L317.5,88.94 L319.0,88.94 L320.5,88.94 L322.0,88.95 L323.5,88.95 L325.0,88.95 L326.5,88.96 L328.0,88.96 L329.5,88.96 L331.1,88.96 L332.6,88.96 L334.1,88.96 L335.6,88.96 L337.1,88.96 L338.6,88.96 L340.1,88.96 L341.6,88.96 L343.1,88.95 L344.6,88.95 L346.1,88.94 L347.6,88.93 L349.1,88.92" stroke="rgb(0,148,220)" stroke-width="3.3" fill="none" stroke-opacity="0.88"/>
<path d="M66.3,112.28 L67.9,112.33 L69.4,112.34 L70.9,112.31 L72.4,112.25 L73.9,112.14 L75.4,112.00 L76.9,111.82 L78.4,111.62 L79.9,111.38 L81.4,111.11 L82.9,110.81 L84.4,110.48 L85.9,110.13 L87.4,109.75 L88.9,109.35 L90.4,108.93 L91.9,108.49 L93.4,108.03 L94.9,107.55 L96.4,107.06 L97.9,106.55 L99.4,106.03 L100.9,105.50 L102.4,104.96 L103.9,104.41 L105.5,103.85 L107.0,103.28 L108.5,102.71 L110.0,102.14 L111.5,101.57 L113.0,100.99 L114.5,100.42 L116.0,99.85 L117.5,99.28 L119.0,98.72 L120.5,98.16 L122.0,97.61 L123.5,97.06 L125.0,96.53 L126.5,95.99 L128.0,95.47 L129.5,94.96 L131.0,94.45 L132.5,93.95 L134.0,93.46 L135.5,92.99 L137.0,92.52 L138.5,92.07 L140.0,91.62 L141.5,91.19 L143.1,90.78 L144.6,90.37 L146.1,89.98 L147.6,89.61 L149.1,89.25 L150.6,88.91 L152.1,88.58 L153.6,88.27 L155.1,87.97 L156.6,87.70 L158.1,87.44 L159.6,87.19 L161.1,86.96 L162.6,86.75 L164.1,86.55 L165.6,86.36 L167.1,86.19 L168.6,86.03 L170.1,85.89 L171.6,85.76 L173.1,85.64 L174.6,85.53 L176.1,85.44 L177.6,85.35 L179.1,85.28 L180.7,85.22 L182.2,85.17 L183.7,85.13 L185.2,85.09 L186.7,85.07 L188.2,85.06 L189.7,85.05 L191.2,85.06 L192.7,85.07 L194.2,85.09 L195.7,85.11 L197.2,85.14 L198.7,85.18 L200.2,85.23 L201.7,85.27 L203.2,85.33 L204.7,85.39 L206.2,85.45 L207.7,85.52 L209.2,85.59 L210.7,85.67 L212.2,85.75 L213.7,85.83 L215.2,85.91 L216.7,86.00 L218.3,86.08 L219.8,86.17 L221.3,86.26 L222.8,86.35 L224.3,86.44 L225.8,86.53 L227.3,86.62 L228.8,86.70 L230.3,86.79 L231.8,86.87 L233.3,86.95 L234.8,87.03 L236.3,87.11 L237.8,87.18 L239.3,87.25 L240.8,87.32 L242.3,87.38 L243.8,87.44 L245.3,87.49 L246.8,87.54 L248.3,87.58 L249.8,87.62 L251.3,87.66 L252.8,87.69 L254.3,87.72 L255.9,87.75 L257.4,87.77 L258.9,87.79 L260.4,87.81 L261.9,87.82 L263.4,87.84 L264.9,87.84 L266.4,87.85 L267.9,87.85 L269.4,87.85 L270.9,87.85 L272.4,87.85 L273.9,87.84 L275.4,87.84 L276.9,87.83 L278.4,87.82 L279.9,87.81 L281.4,87.79 L282.9,87.78 L284.4,87.76 L285.9,87.74 L287.4,87.72 L288.9,87.70 L290.4,87.68 L291.9,87.66 L293.5,87.64 L295.0,87.62 L296.5,87.60 L298.0,87.58 L299.5,87.55 L301.0,87.53 L302.5,87.51 L304.0,87.49 L305.5,87.47 L307.0,87.44 L308.5,87.42 L310.0,87.40 L311.5,87.39 L313.0,87.37 L314.5,87.35 L316.0,87.33 L317.5,87.32 L319.0,87.31 L320.5,87.29 L322.0,87.28 L323.5,87.28 L325.0,87.27 L326.5,87.27 L328.0,87.26 L329.5,87.26 L331.1,87.26 L332.6,87.27 L334.1,87.28 L335.6,87.29 L337.1,87.30 L338.6,87.31 L340.1,87.33 L341.6,87.35 L343.1,87.38 L344.6,87.41 L346.1,87.44 L347.6,87.47 L349.1,87.51" stroke="rgb(0,148,220)" stroke-width="3.3" fill="none" stroke-opacity="0.88"/>
<path d="M66.3,147.01 L67.9,147.05 L69.4,147.10 L70.9,147.17 L72.4,147.24 L73.9,147.33 L75.4,147.43 L76.9,147.54 L78.4,147.65 L79.9,147.78 L81.4,147.92 L82.9,148.06 L84.4,148.21 L85.9,148.37 L87.4,148.54 L88.9,148.71 L90.4,148.89 L91.9,149.08 L93.4,149.27 L94.9,149.47 L96.4,149.67 L97.9,149.87 L99.4,150.08 L100.9,150.30 L102.4,150.52 L103.9,150.74 L105.5,150.96 L107.0,151.18 L108.5,151.41 L110.0,151.63 L111.5,151.86 L113.0,152.09 L114.5,152.32 L116.0,152.55 L117.5,152.78 L119.0,153.00 L120.5,153.23 L122.0,153.45 L123.5,153.67 L125.0,153.89 L126.5,154.11 L128.0,154.33 L129.5,154.54 L131.0,154.75 L132.5,154.96 L134.0,155.17 L135.5,155.37 L137.0,155.57 L138.5,155.76 L140.0,155.95 L141.5,156.14 L143.1,156.32 L144.6,156.50 L146.1,156.67 L147.6,156.84 L149.1,157.00 L150.6,157.16 L152.1,157.31 L153.6,157.46 L155.1,157.60 L156.6,157.73 L158.1,157.86 L159.6,157.98 L161.1,158.10 L162.6,158.21 L164.1,158.31 L165.6,158.40 L167.1,158.49 L168.6,158.57 L170.1,158.65 L171.6,158.72 L173.1,158.78 L174.6,158.84 L176.1,158.89 L177.6,158.93 L179.1,158.98 L180.7,159.01 L182.2,159.04 L183.7,159.07 L185.2,159.09 L186.7,159.11 L188.2,159.12 L189.7,159.13 L191.2,159.14 L192.7,159.14 L194.2,159.14 L195.7,159.13 L197.2,159.12 L198.7,159.11 L200.2,159.09 L201.7,159.07 L203.2,159.05 L204.7,159.03 L206.2,159.00 L207.7,158.97 L209.2,158.94 L210.7,158.91 L212.2,158.87 L213.7,158.84 L215.2,158.80 L216.7,158.76 L218.3,158.72 L219.8,158.68 L221.3,158.64 L222.8,158.59 L224.3,158.55 L225.8,158.51 L227.3,158.46 L228.8,158.42 L230.3,158.37 L231.8,158.33 L233.3,158.28 L234.8,158.24 L236.3,158.20 L237.8,158.16 L239.3,158.11 L240.8,158.07 L242.3,158.03 L243.8,157.99 L245.3,157.96 L246.8,157.92 L248.3,157.88 L249.8,157.84 L251.3,157.81 L252.8,157.77 L254.3,157.74 L255.9,157.70 L257.4,157.67 L258.9,157.63 L260.4,157.60 L261.9,157.57 L263.4,157.54 L264.9,157.50 L266.4,157.47 L267.9,157.44 L269.4,157.41 L270.9,157.38 L272.4,157.35 L273.9,157.32 L275.4,157.30 L276.9,157.27 L278.4,157.24 L279.9,157.21 L281.4,157.18 L282.9,157.16 L284.4,157.13 L285.9,157.11 L287.4,157.08 L288.9,157.05 L290.4,157.03 L291.9,157.00 L293.5,156.98 L295.0,156.95 L296.5,156.93 L298.0,156.90 L299.5,156.88 L301.0,156.86 L302.5,156.83 L304.0,156.81 L305.5,156.79 L307.0,156.76 L308.5,156.74 L310.0,156.72 L311.5,156.69 L313.0,156.67 L314.5,156.65 L316.0,156.63 L317.5,156.60 L319.0,156.58 L320.5,156.56 L322.0,156.54 L323.5,156.52 L325.0,156.49 L326.5,156.47 L328.0,156.45 L329.5,156.43 L331.1,156.40 L332.6,156.38 L334.1,156.36 L335.6,156.34 L337.1,156.31 L338.6,156.29 L340.1,156.27 L341.6,156.24 L343.1,156.22 L344.6,156.20 L346.1,156.17 L347.6,156.15 L349.1,156.13" stroke="rgb(0,148,220)" stroke-width="3.3" fill="none" stroke-opacity="0.88"/>
<path d="M66.3,176.05 L67.9,176.06 L69.4,176.06 L70.9,176.04 L72.4,176.01 L73.9,175.96 L75.4,175.91 L76.9,175.84 L78.4,175.76 L79.9,175.67 L81.4,175.57 L82.9,175.45 L84.4,175.33 L85.9,175.19 L87.4,175.05 L88.9,174.89 L90.4,174.72 L91.9,174.55 L93.4,174.36 L94.9,174.16 L96.4,173.96 L97.9,173.74 L99.4,173.52 L100.9,173.28 L102.4,173.04 L103.9,172.79 L105.5,172.54 L107.0,172.27 L108.5,171.99 L110.0,171.71 L111.5,171.42 L113.0,171.13 L114.5,170.82 L116.0,170.51 L117.5,170.20 L119.0,169.87 L120.5,169.54 L122.0,169.21 L123.5,168.86 L125.0,168.52 L126.5,168.16 L128.0,167.81 L129.5,167.44 L131.0,167.08 L132.5,166.71 L134.0,166.35 L135.5,165.99 L137.0,165.63 L138.5,165.28 L140.0,164.94 L141.5,164.60 L143.1,164.28 L144.6,163.96 L146.1,163.66 L147.6,163.36 L149.1,163.08 L150.6,162.81 L152.1,162.55 L153.6,162.30 L155.1,162.06 L156.6,161.83 L158.1,161.60 L159.6,161.37 L161.1,161.15 L162.6,160.94 L164.1,160.72 L165.6,160.50 L167.1,160.29 L168.6,160.07 L170.1,159.85 L171.6,159.62 L173.1,159.39 L174.6,159.16 L176.1,158.93 L177.6,158.70 L179.1,158.47 L180.7,158.24 L182.2,158.01 L183.7,157.78 L185.2,157.55 L186.7,157.33 L188.2,157.11 L189.7,156.89 L191.2,156.69 L192.7,156.48 L194.2,156.29 L195.7,156.11 L197.2,155.93 L198.7,155.77 L200.2,155.61 L201.7,155.46 L203.2,155.32 L204.7,155.19 L206.2,155.07 L207.7,154.95 L209.2,154.84 L210.7,154.74 L212.2,154.65 L213.7,154.56 L215.2,154.48 L216.7,154.40 L218.3,154.33 L219.8,154.27 L221.3,154.21 L222.8,154.15 L224.3,154.10 L225.8,154.05 L227.3,154.01 L228.8,153.97 L230.3,153.94 L231.8,153.91 L233.3,153.88 L234.8,153.85 L236.3,153.83 L237.8,153.80 L239.3,153.78 L240.8,153.77 L242.3,153.75 L243.8,153.74 L245.3,153.73 L246.8,153.72 L248.3,153.71 L249.8,153.70 L251.3,153.70 L252.8,153.70 L254.3,153.70 L255.9,153.70 L257.4,153.70 L258.9,153.71 L260.4,153.71 L261.9,153.72 L263.4,153.73 L264.9,153.74 L266.4,153.75 L267.9,153.76 L269.4,153.78 L270.9,153.79 L272.4,153.81 L273.9,153.83 L275.4,153.84 L276.9,153.86 L278.4,153.88 L279.9,153.90 L281.4,153.93 L282.9,153.95 L284.4,153.97 L285.9,153.99 L287.4,154.02 L288.9,154.04 L290.4,154.07 L291.9,154.10 L293.5,154.12 L295.0,154.15 L296.5,154.17 L298.0,154.20 L299.5,154.23 L301.0,154.26 L302.5,154.28 L304.0,154.31 L305.5,154.34 L307.0,154.37 L308.5,154.39 L310.0,154.42 L311.5,154.45 L313.0,154.47 L314.5,154.50 L316.0,154.53 L317.5,154.55 L319.0,154.58 L320.5,154.60 L322.0,154.62 L323.5,154.65 L325.0,154.67 L326.5,154.69 L328.0,154.71 L329.5,154.73 L331.1,154.75 L332.6,154.77 L334.1,154.79 L335.6,154.80 L337.1,154.82 L338.6,154.83 L340.1,154.85 L341.6,154.86 L343.1,154.87 L344.6,154.88 L346.1,154.89 L347.6,154.89 L349.1,154.90" stroke="rgb(0,148,220)" stroke-width="3.3" fill="none" stroke-opacity="0.88"/>
</g>
<g clip-path="url(#clipb)">
<line x1="392.35" y1="23.90" x2="675.10" y2="23.90" stroke="#cfcfcf" stroke-width="2.8" stroke-dasharray="2.8 4.65" stroke-dashoffset="-0.75"/>
<line x1="392.35" y1="88.10" x2="675.10" y2="88.10" stroke="#cfcfcf" stroke-width="2.8" stroke-dasharray="2.8 4.65" stroke-dashoffset="-0.75"/>
<line x1="392.35" y1="154.50" x2="675.10" y2="154.50" stroke="#cfcfcf" stroke-width="2.8" stroke-dasharray="2.8 4.65" stroke-dashoffset="-0.75"/>
<path d="M392.4,22.01 L393.9,21.94 L395.4,21.88 L396.9,21.82 L398.4,21.75 L399.9,21.69 L401.4,21.63 L402.9,21.58 L404.4,21.52 L405.9,21.46 L407.4,21.41 L408.9,21.36 L410.4,21.30 L411.9,21.26 L413.4,21.21 L414.9,21.16 L416.4,21.12 L417.9,21.08 L419.4,21.04 L420.9,21.01 L422.4,20.97 L423.9,20.94 L425.4,20.91 L426.9,20.89 L428.4,20.86 L429.9,20.84 L431.5,20.83 L433.0,20.81 L434.5,20.80 L436.0,20.80 L437.5,20.79 L439.0,20.80 L440.5,20.80 L442.0,20.81 L443.5,20.82 L445.0,20.83 L446.5,20.85 L448.0,20.88 L449.5,20.91 L451.0,20.94 L452.5,20.97 L454.0,21.02 L455.5,21.06 L457.0,21.11 L458.5,21.17 L460.0,21.23 L461.5,21.30 L463.0,21.37 L464.5,21.44 L466.0,21.52 L467.5,21.61 L469.1,21.70 L470.6,21.80 L472.1,21.90 L473.6,22.01 L475.1,22.13 L476.6,22.25 L478.1,22.37 L479.6,22.50 L481.1,22.63 L482.6,22.76 L484.1,22.90 L485.6,23.04 L487.1,23.18 L488.6,23.33 L490.1,23.47 L491.6,23.62 L493.1,23.77 L494.6,23.92 L496.1,24.06 L497.6,24.21 L499.1,24.36 L500.6,24.51 L502.1,24.65 L503.6,24.79 L505.1,24.93 L506.7,25.07 L508.2,25.21 L509.7,25.34 L511.2,25.47 L512.7,25.59 L514.2,25.71 L515.7,25.83 L517.2,25.94 L518.7,26.05 L520.2,26.15 L521.7,26.24 L523.2,26.33 L524.7,26.41 L526.2,26.49 L527.7,26.56 L529.2,26.63 L530.7,26.69 L532.2,26.75 L533.7,26.81 L535.2,26.85 L536.7,26.90 L538.2,26.94 L539.7,26.97 L541.2,27.00 L542.7,27.03 L544.3,27.05 L545.8,27.07 L547.3,27.09 L548.8,27.10 L550.3,27.10 L551.8,27.11 L553.3,27.11 L554.8,27.10 L556.3,27.09 L557.8,27.08 L559.3,27.07 L560.8,27.05 L562.3,27.03 L563.8,27.01 L565.3,26.98 L566.8,26.95 L568.3,26.92 L569.8,26.88 L571.3,26.84 L572.8,26.80 L574.3,26.76 L575.8,26.72 L577.3,26.67 L578.8,26.62 L580.3,26.57 L581.9,26.51 L583.4,26.46 L584.9,26.40 L586.4,26.34 L587.9,26.28 L589.4,26.22 L590.9,26.16 L592.4,26.09 L593.9,26.03 L595.4,25.96 L596.9,25.89 L598.4,25.82 L599.9,25.75 L601.4,25.68 L602.9,25.60 L604.4,25.53 L605.9,25.46 L607.4,25.38 L608.9,25.31 L610.4,25.23 L611.9,25.16 L613.4,25.08 L614.9,25.01 L616.4,24.93 L617.9,24.86 L619.5,24.78 L621.0,24.71 L622.5,24.63 L624.0,24.56 L625.5,24.48 L627.0,24.41 L628.5,24.34 L630.0,24.27 L631.5,24.20 L633.0,24.13 L634.5,24.06 L636.0,23.99 L637.5,23.92 L639.0,23.86 L640.5,23.80 L642.0,23.73 L643.5,23.67 L645.0,23.61 L646.5,23.56 L648.0,23.50 L649.5,23.45 L651.0,23.40 L652.5,23.35 L654.0,23.30 L655.5,23.26 L657.1,23.21 L658.6,23.17 L660.1,23.14 L661.6,23.10 L663.1,23.07 L664.6,23.04 L666.1,23.01 L667.6,22.99 L669.1,22.97 L670.6,22.95 L672.1,22.94 L673.6,22.93 L675.1,22.92" stroke="#b96ec4" stroke-width="3.3" fill="none" />
<path d="M392.4,22.94 L393.9,22.90 L395.4,22.89 L396.9,22.89 L398.4,22.91 L399.9,22.95 L401.4,23.00 L402.9,23.07 L404.4,23.16 L405.9,23.26 L407.4,23.37 L408.9,23.50 L410.4,23.64 L411.9,23.79 L413.4,23.96 L414.9,24.13 L416.4,24.31 L417.9,24.50 L419.4,24.70 L420.9,24.90 L422.4,25.12 L423.9,25.33 L425.4,25.55 L426.9,25.78 L428.4,26.01 L429.9,26.24 L431.5,26.48 L433.0,26.71 L434.5,26.95 L436.0,27.19 L437.5,27.42 L439.0,27.66 L440.5,27.89 L442.0,28.12 L443.5,28.34 L445.0,28.56 L446.5,28.77 L448.0,28.98 L449.5,29.18 L451.0,29.37 L452.5,29.56 L454.0,29.74 L455.5,29.91 L457.0,30.06 L458.5,30.21 L460.0,30.35 L461.5,30.47 L463.0,30.58 L464.5,30.68 L466.0,30.77 L467.5,30.84 L469.1,30.90 L470.6,30.94 L472.1,30.97 L473.6,30.98 L475.1,30.97 L476.6,30.95 L478.1,30.91 L479.6,30.86 L481.1,30.80 L482.6,30.72 L484.1,30.62 L485.6,30.52 L487.1,30.40 L488.6,30.26 L490.1,30.12 L491.6,29.96 L493.1,29.79 L494.6,29.61 L496.1,29.42 L497.6,29.21 L499.1,29.00 L500.6,28.78 L502.1,28.55 L503.6,28.31 L505.1,28.06 L506.7,27.81 L508.2,27.55 L509.7,27.29 L511.2,27.03 L512.7,26.77 L514.2,26.50 L515.7,26.23 L517.2,25.97 L518.7,25.70 L520.2,25.44 L521.7,25.18 L523.2,24.92 L524.7,24.67 L526.2,24.42 L527.7,24.18 L529.2,23.95 L530.7,23.72 L532.2,23.51 L533.7,23.30 L535.2,23.10 L536.7,22.91 L538.2,22.73 L539.7,22.56 L541.2,22.39 L542.7,22.24 L544.3,22.09 L545.8,21.95 L547.3,21.82 L548.8,21.69 L550.3,21.57 L551.8,21.46 L553.3,21.36 L554.8,21.26 L556.3,21.17 L557.8,21.09 L559.3,21.01 L560.8,20.94 L562.3,20.88 L563.8,20.82 L565.3,20.77 L566.8,20.72 L568.3,20.68 L569.8,20.65 L571.3,20.61 L572.8,20.59 L574.3,20.57 L575.8,20.55 L577.3,20.54 L578.8,20.53 L580.3,20.53 L581.9,20.53 L583.4,20.54 L584.9,20.55 L586.4,20.56 L587.9,20.58 L589.4,20.60 L590.9,20.62 L592.4,20.65 L593.9,20.68 L595.4,20.71 L596.9,20.74 L598.4,20.78 L599.9,20.82 L601.4,20.86 L602.9,20.91 L604.4,20.95 L605.9,21.00 L607.4,21.05 L608.9,21.10 L610.4,21.15 L611.9,21.21 L613.4,21.26 L614.9,21.32 L616.4,21.37 L617.9,21.43 L619.5,21.49 L621.0,21.54 L622.5,21.60 L624.0,21.66 L625.5,21.72 L627.0,21.78 L628.5,21.83 L630.0,21.89 L631.5,21.95 L633.0,22.00 L634.5,22.06 L636.0,22.11 L637.5,22.16 L639.0,22.21 L640.5,22.26 L642.0,22.31 L643.5,22.35 L645.0,22.40 L646.5,22.44 L648.0,22.48 L649.5,22.51 L651.0,22.55 L652.5,22.58 L654.0,22.61 L655.5,22.63 L657.1,22.66 L658.6,22.68 L660.1,22.69 L661.6,22.70 L663.1,22.71 L664.6,22.72 L666.1,22.72 L667.6,22.71 L669.1,22.71 L670.6,22.69 L672.1,22.68 L673.6,22.65 L675.1,22.63" stroke="#b96ec4" stroke-width="3.3" fill="none" />
<path d="M392.4,78.81 L393.9,78.79 L395.4,78.80 L396.9,78.82 L398.4,78.86 L399.9,78.92 L401.4,79.00 L402.9,79.09 L404.4,79.20 L405.9,79.33 L407.4,79.47 L408.9,79.62 L410.4,79.79 L411.9,79.97 L413.4,80.17 L414.9,80.37 L416.4,80.59 L417.9,80.82 L419.4,81.06 L420.9,81.31 L422.4,81.57 L423.9,81.84 L425.4,82.11 L426.9,82.40 L428.4,82.69 L429.9,82.98 L431.5,83.28 L433.0,83.59 L434.5,83.90 L436.0,84.22 L437.5,84.54 L439.0,84.86 L440.5,85.18 L442.0,85.51 L443.5,85.84 L445.0,86.16 L446.5,86.49 L448.0,86.82 L449.5,87.14 L451.0,87.47 L452.5,87.79 L454.0,88.11 L455.5,88.42 L457.0,88.74 L458.5,89.04 L460.0,89.34 L461.5,89.64 L463.0,89.93 L464.5,90.21 L466.0,90.48 L467.5,90.75 L469.1,91.01 L470.6,91.26 L472.1,91.49 L473.6,91.72 L475.1,91.94 L476.6,92.14 L478.1,92.34 L479.6,92.52 L481.1,92.68 L482.6,92.84 L484.1,92.98 L485.6,93.11 L487.1,93.23 L488.6,93.33 L490.1,93.43 L491.6,93.51 L493.1,93.59 L494.6,93.65 L496.1,93.70 L497.6,93.75 L499.1,93.78 L500.6,93.80 L502.1,93.82 L503.6,93.83 L505.1,93.82 L506.7,93.81 L508.2,93.80 L509.7,93.77 L511.2,93.74 L512.7,93.70 L514.2,93.65 L515.7,93.60 L517.2,93.54 L518.7,93.48 L520.2,93.41 L521.7,93.33 L523.2,93.25 L524.7,93.17 L526.2,93.08 L527.7,92.98 L529.2,92.89 L530.7,92.79 L532.2,92.68 L533.7,92.58 L535.2,92.47 L536.7,92.36 L538.2,92.24 L539.7,92.13 L541.2,92.01 L542.7,91.89 L544.3,91.77 L545.8,91.65 L547.3,91.53 L548.8,91.42 L550.3,91.30 L551.8,91.18 L553.3,91.06 L554.8,90.94 L556.3,90.83 L557.8,90.71 L559.3,90.60 L560.8,90.49 L562.3,90.38 L563.8,90.28 L565.3,90.18 L566.8,90.08 L568.3,89.99 L569.8,89.90 L571.3,89.81 L572.8,89.73 L574.3,89.65 L575.8,89.57 L577.3,89.50 L578.8,89.43 L580.3,89.37 L581.9,89.30 L583.4,89.24 L584.9,89.19 L586.4,89.13 L587.9,89.08 L589.4,89.03 L590.9,88.99 L592.4,88.95 L593.9,88.91 L595.4,88.87 L596.9,88.83 L598.4,88.80 L599.9,88.77 L601.4,88.74 L602.9,88.71 L604.4,88.69 L605.9,88.67 L607.4,88.65 L608.9,88.63 L610.4,88.61 L611.9,88.59 L613.4,88.58 L614.9,88.57 L616.4,88.56 L617.9,88.55 L619.5,88.54 L621.0,88.53 L622.5,88.53 L624.0,88.52 L625.5,88.52 L627.0,88.52 L628.5,88.52 L630.0,88.52 L631.5,88.52 L633.0,88.52 L634.5,88.52 L636.0,88.52 L637.5,88.52 L639.0,88.53 L640.5,88.53 L642.0,88.53 L643.5,88.54 L645.0,88.54 L646.5,88.54 L648.0,88.55 L649.5,88.55 L651.0,88.55 L652.5,88.56 L654.0,88.56 L655.5,88.56 L657.1,88.56 L658.6,88.56 L660.1,88.56 L661.6,88.56 L663.1,88.56 L664.6,88.56 L666.1,88.56 L667.6,88.56 L669.1,88.55 L670.6,88.55 L672.1,88.54 L673.6,88.53 L675.1,88.52" stroke="#b96ec4" stroke-width="3.3" fill="none" />
<path d="M392.4,111.88 L393.9,111.93 L395.4,111.94 L396.9,111.91 L398.4,111.85 L399.9,111.74 L401.4,111.60 L402.9,111.42 L404.4,111.22 L405.9,110.98 L407.4,110.71 L408.9,110.41 L410.4,110.08 L411.9,109.73 L413.4,109.35 L414.9,108.95 L416.4,108.53 L417.9,108.09 L419.4,107.63 L420.9,107.15 L422.4,106.66 L423.9,106.15 L425.4,105.63 L426.9,105.10 L428.4,104.56 L429.9,104.01 L431.5,103.45 L433.0,102.88 L434.5,102.31 L436.0,101.74 L437.5,101.17 L439.0,100.59 L440.5,100.02 L442.0,99.45 L443.5,98.88 L445.0,98.32 L446.5,97.76 L448.0,97.21 L449.5,96.66 L451.0,96.13 L452.5,95.59 L454.0,95.07 L455.5,94.56 L457.0,94.05 L458.5,93.55 L460.0,93.06 L461.5,92.59 L463.0,92.12 L464.5,91.67 L466.0,91.22 L467.5,90.79 L469.1,90.38 L470.6,89.97 L472.1,89.58 L473.6,89.21 L475.1,88.85 L476.6,88.51 L478.1,88.18 L479.6,87.87 L481.1,87.57 L482.6,87.30 L484.1,87.04 L485.6,86.79 L487.1,86.56 L488.6,86.35 L490.1,86.15 L491.6,85.96 L493.1,85.79 L494.6,85.63 L496.1,85.49 L497.6,85.36 L499.1,85.24 L500.6,85.13 L502.1,85.04 L503.6,84.95 L505.1,84.88 L506.7,84.82 L508.2,84.77 L509.7,84.73 L511.2,84.69 L512.7,84.67 L514.2,84.66 L515.7,84.65 L517.2,84.66 L518.7,84.67 L520.2,84.69 L521.7,84.71 L523.2,84.74 L524.7,84.78 L526.2,84.83 L527.7,84.87 L529.2,84.93 L530.7,84.99 L532.2,85.05 L533.7,85.12 L535.2,85.19 L536.7,85.27 L538.2,85.35 L539.7,85.43 L541.2,85.51 L542.7,85.60 L544.3,85.68 L545.8,85.77 L547.3,85.86 L548.8,85.95 L550.3,86.04 L551.8,86.13 L553.3,86.22 L554.8,86.30 L556.3,86.39 L557.8,86.47 L559.3,86.55 L560.8,86.63 L562.3,86.71 L563.8,86.78 L565.3,86.85 L566.8,86.92 L568.3,86.98 L569.8,87.04 L571.3,87.09 L572.8,87.14 L574.3,87.18 L575.8,87.22 L577.3,87.26 L578.8,87.29 L580.3,87.32 L581.9,87.35 L583.4,87.37 L584.9,87.39 L586.4,87.41 L587.9,87.42 L589.4,87.44 L590.9,87.44 L592.4,87.45 L593.9,87.45 L595.4,87.45 L596.9,87.45 L598.4,87.45 L599.9,87.44 L601.4,87.44 L602.9,87.43 L604.4,87.42 L605.9,87.41 L607.4,87.39 L608.9,87.38 L610.4,87.36 L611.9,87.34 L613.4,87.32 L614.9,87.30 L616.4,87.28 L617.9,87.26 L619.5,87.24 L621.0,87.22 L622.5,87.20 L624.0,87.18 L625.5,87.15 L627.0,87.13 L628.5,87.11 L630.0,87.09 L631.5,87.07 L633.0,87.04 L634.5,87.02 L636.0,87.00 L637.5,86.99 L639.0,86.97 L640.5,86.95 L642.0,86.93 L643.5,86.92 L645.0,86.91 L646.5,86.89 L648.0,86.88 L649.5,86.88 L651.0,86.87 L652.5,86.87 L654.0,86.86 L655.5,86.86 L657.1,86.86 L658.6,86.87 L660.1,86.88 L661.6,86.89 L663.1,86.90 L664.6,86.91 L666.1,86.93 L667.6,86.95 L669.1,86.98 L670.6,87.01 L672.1,87.04 L673.6,87.07 L675.1,87.11" stroke="#b96ec4" stroke-width="3.3" fill="none" />
<path d="M392.4,146.61 L393.9,146.65 L395.4,146.70 L396.9,146.77 L398.4,146.84 L399.9,146.93 L401.4,147.03 L402.9,147.14 L404.4,147.25 L405.9,147.38 L407.4,147.52 L408.9,147.66 L410.4,147.81 L411.9,147.97 L413.4,148.14 L414.9,148.31 L416.4,148.49 L417.9,148.68 L419.4,148.87 L420.9,149.07 L422.4,149.27 L423.9,149.47 L425.4,149.68 L426.9,149.90 L428.4,150.12 L429.9,150.34 L431.5,150.56 L433.0,150.78 L434.5,151.01 L436.0,151.23 L437.5,151.46 L439.0,151.69 L440.5,151.92 L442.0,152.15 L443.5,152.38 L445.0,152.60 L446.5,152.83 L448.0,153.05 L449.5,153.27 L451.0,153.49 L452.5,153.71 L454.0,153.93 L455.5,154.14 L457.0,154.35 L458.5,154.56 L460.0,154.77 L461.5,154.97 L463.0,155.17 L464.5,155.36 L466.0,155.55 L467.5,155.74 L469.1,155.92 L470.6,156.10 L472.1,156.27 L473.6,156.44 L475.1,156.60 L476.6,156.76 L478.1,156.91 L479.6,157.06 L481.1,157.20 L482.6,157.33 L484.1,157.46 L485.6,157.58 L487.1,157.70 L488.6,157.81 L490.1,157.91 L491.6,158.00 L493.1,158.09 L494.6,158.17 L496.1,158.25 L497.6,158.32 L499.1,158.38 L500.6,158.44 L502.1,158.49 L503.6,158.53 L505.1,158.58 L506.7,158.61 L508.2,158.64 L509.7,158.67 L511.2,158.69 L512.7,158.71 L514.2,158.72 L515.7,158.73 L517.2,158.74 L518.7,158.74 L520.2,158.74 L521.7,158.73 L523.2,158.72 L524.7,158.71 L526.2,158.69 L527.7,158.67 L529.2,158.65 L530.7,158.63 L532.2,158.60 L533.7,158.57 L535.2,158.54 L536.7,158.51 L538.2,158.47 L539.7,158.44 L541.2,158.40 L542.7,158.36 L544.3,158.32 L545.8,158.28 L547.3,158.24 L548.8,158.19 L550.3,158.15 L551.8,158.11 L553.3,158.06 L554.8,158.02 L556.3,157.97 L557.8,157.93 L559.3,157.88 L560.8,157.84 L562.3,157.80 L563.8,157.76 L565.3,157.71 L566.8,157.67 L568.3,157.63 L569.8,157.59 L571.3,157.56 L572.8,157.52 L574.3,157.48 L575.8,157.44 L577.3,157.41 L578.8,157.37 L580.3,157.34 L581.9,157.30 L583.4,157.27 L584.9,157.23 L586.4,157.20 L587.9,157.17 L589.4,157.14 L590.9,157.10 L592.4,157.07 L593.9,157.04 L595.4,157.01 L596.9,156.98 L598.4,156.95 L599.9,156.92 L601.4,156.90 L602.9,156.87 L604.4,156.84 L605.9,156.81 L607.4,156.78 L608.9,156.76 L610.4,156.73 L611.9,156.71 L613.4,156.68 L614.9,156.65 L616.4,156.63 L617.9,156.60 L619.5,156.58 L621.0,156.55 L622.5,156.53 L624.0,156.50 L625.5,156.48 L627.0,156.46 L628.5,156.43 L630.0,156.41 L631.5,156.39 L633.0,156.36 L634.5,156.34 L636.0,156.32 L637.5,156.29 L639.0,156.27 L640.5,156.25 L642.0,156.23 L643.5,156.20 L645.0,156.18 L646.5,156.16 L648.0,156.14 L649.5,156.12 L651.0,156.09 L652.5,156.07 L654.0,156.05 L655.5,156.03 L657.1,156.00 L658.6,155.98 L660.1,155.96 L661.6,155.94 L663.1,155.91 L664.6,155.89 L666.1,155.87 L667.6,155.84 L669.1,155.82 L670.6,155.80 L672.1,155.77 L673.6,155.75 L675.1,155.73" stroke="#b96ec4" stroke-width="3.3" fill="none" />
<path d="M392.4,175.65 L393.9,175.66 L395.4,175.66 L396.9,175.64 L398.4,175.61 L399.9,175.56 L401.4,175.51 L402.9,175.44 L404.4,175.36 L405.9,175.27 L407.4,175.17 L408.9,175.05 L410.4,174.93 L411.9,174.79 L413.4,174.65 L414.9,174.49 L416.4,174.32 L417.9,174.15 L419.4,173.96 L420.9,173.76 L422.4,173.56 L423.9,173.34 L425.4,173.12 L426.9,172.88 L428.4,172.64 L429.9,172.39 L431.5,172.14 L433.0,171.87 L434.5,171.59 L436.0,171.31 L437.5,171.02 L439.0,170.73 L440.5,170.42 L442.0,170.11 L443.5,169.80 L445.0,169.47 L446.5,169.14 L448.0,168.81 L449.5,168.46 L451.0,168.12 L452.5,167.76 L454.0,167.41 L455.5,167.04 L457.0,166.68 L458.5,166.31 L460.0,165.95 L461.5,165.59 L463.0,165.23 L464.5,164.88 L466.0,164.54 L467.5,164.20 L469.1,163.88 L470.6,163.56 L472.1,163.26 L473.6,162.96 L475.1,162.68 L476.6,162.41 L478.1,162.15 L479.6,161.90 L481.1,161.66 L482.6,161.43 L484.1,161.20 L485.6,160.97 L487.1,160.75 L488.6,160.54 L490.1,160.32 L491.6,160.10 L493.1,159.89 L494.6,159.67 L496.1,159.45 L497.6,159.22 L499.1,158.99 L500.6,158.76 L502.1,158.53 L503.6,158.30 L505.1,158.07 L506.7,157.84 L508.2,157.61 L509.7,157.38 L511.2,157.15 L512.7,156.93 L514.2,156.71 L515.7,156.49 L517.2,156.29 L518.7,156.08 L520.2,155.89 L521.7,155.71 L523.2,155.53 L524.7,155.37 L526.2,155.21 L527.7,155.06 L529.2,154.92 L530.7,154.79 L532.2,154.67 L533.7,154.55 L535.2,154.44 L536.7,154.34 L538.2,154.25 L539.7,154.16 L541.2,154.08 L542.7,154.00 L544.3,153.93 L545.8,153.87 L547.3,153.81 L548.8,153.75 L550.3,153.70 L551.8,153.65 L553.3,153.61 L554.8,153.57 L556.3,153.54 L557.8,153.51 L559.3,153.48 L560.8,153.45 L562.3,153.43 L563.8,153.40 L565.3,153.38 L566.8,153.37 L568.3,153.35 L569.8,153.34 L571.3,153.33 L572.8,153.32 L574.3,153.31 L575.8,153.30 L577.3,153.30 L578.8,153.30 L580.3,153.30 L581.9,153.30 L583.4,153.30 L584.9,153.31 L586.4,153.31 L587.9,153.32 L589.4,153.33 L590.9,153.34 L592.4,153.35 L593.9,153.36 L595.4,153.38 L596.9,153.39 L598.4,153.41 L599.9,153.43 L601.4,153.44 L602.9,153.46 L604.4,153.48 L605.9,153.50 L607.4,153.53 L608.9,153.55 L610.4,153.57 L611.9,153.59 L613.4,153.62 L614.9,153.64 L616.4,153.67 L617.9,153.70 L619.5,153.72 L621.0,153.75 L622.5,153.77 L624.0,153.80 L625.5,153.83 L627.0,153.86 L628.5,153.88 L630.0,153.91 L631.5,153.94 L633.0,153.97 L634.5,153.99 L636.0,154.02 L637.5,154.05 L639.0,154.07 L640.5,154.10 L642.0,154.13 L643.5,154.15 L645.0,154.18 L646.5,154.20 L648.0,154.22 L649.5,154.25 L651.0,154.27 L652.5,154.29 L654.0,154.31 L655.5,154.33 L657.1,154.35 L658.6,154.37 L660.1,154.39 L661.6,154.40 L663.1,154.42 L664.6,154.43 L666.1,154.45 L667.6,154.46 L669.1,154.47 L670.6,154.48 L672.1,154.49 L673.6,154.49 L675.1,154.50" stroke="#b96ec4" stroke-width="3.3" fill="none" />
<path d="M392.4,20.40 L393.9,20.30 L395.4,20.18 L396.9,20.06 L398.4,19.92 L399.9,19.78 L401.4,19.62 L402.9,19.46 L404.4,19.29 L405.9,19.11 L407.4,18.93 L408.9,18.74 L410.4,18.55 L411.9,18.36 L413.4,18.17 L414.9,17.98 L416.4,17.79 L417.9,17.60 L419.4,17.41 L420.9,17.23 L422.4,17.05 L423.9,16.88 L425.4,16.72 L426.9,16.56 L428.4,16.41 L429.9,16.28 L431.5,16.15 L433.0,16.04 L434.5,15.93 L436.0,15.84 L437.5,15.76 L439.0,15.69 L440.5,15.64 L442.0,15.59 L443.5,15.55 L445.0,15.53 L446.5,15.51 L448.0,15.50 L449.5,15.51 L451.0,15.52 L452.5,15.55 L454.0,15.58 L455.5,15.62 L457.0,15.67 L458.5,15.73 L460.0,15.80 L461.5,15.88 L463.0,15.97 L464.5,16.06 L466.0,16.17 L467.5,16.28 L469.1,16.39 L470.6,16.52 L472.1,16.65 L473.6,16.78 L475.1,16.92 L476.6,17.05 L478.1,17.19 L479.6,17.33 L481.1,17.47 L482.6,17.61 L484.1,17.75 L485.6,17.88 L487.1,18.01 L488.6,18.14 L490.1,18.26 L491.6,18.37 L493.1,18.48 L494.6,18.58 L496.1,18.67 L497.6,18.75 L499.1,18.82 L500.6,18.87 L502.1,18.92 L503.6,18.95 L505.1,18.97 L506.7,18.97 L508.2,18.96 L509.7,18.94 L511.2,18.90 L512.7,18.85 L514.2,18.79 L515.7,18.72 L517.2,18.64 L518.7,18.55 L520.2,18.45 L521.7,18.34 L523.2,18.22 L524.7,18.09 L526.2,17.96 L527.7,17.82 L529.2,17.67 L530.7,17.52 L532.2,17.36 L533.7,17.20 L535.2,17.04 L536.7,16.88 L538.2,16.72 L539.7,16.55 L541.2,16.39 L542.7,16.23 L544.3,16.07 L545.8,15.92 L547.3,15.77 L548.8,15.62 L550.3,15.48 L551.8,15.35 L553.3,15.23 L554.8,15.12 L556.3,15.01 L557.8,14.92 L559.3,14.84 L560.8,14.77 L562.3,14.72 L563.8,14.68 L565.3,14.65 L566.8,14.64 L568.3,14.64 L569.8,14.66 L571.3,14.68 L572.8,14.72 L574.3,14.78 L575.8,14.84 L577.3,14.91 L578.8,14.99 L580.3,15.08 L581.9,15.17 L583.4,15.27 L584.9,15.38 L586.4,15.49 L587.9,15.61 L589.4,15.73 L590.9,15.86 L592.4,15.99 L593.9,16.11 L595.4,16.24 L596.9,16.37 L598.4,16.50 L599.9,16.63 L601.4,16.76 L602.9,16.89 L604.4,17.01 L605.9,17.13 L607.4,17.25 L608.9,17.37 L610.4,17.48 L611.9,17.59 L613.4,17.70 L614.9,17.80 L616.4,17.90 L617.9,18.00 L619.5,18.09 L621.0,18.17 L622.5,18.25 L624.0,18.33 L625.5,18.40 L627.0,18.46 L628.5,18.52 L630.0,18.57 L631.5,18.61 L633.0,18.65 L634.5,18.68 L636.0,18.70 L637.5,18.72 L639.0,18.72 L640.5,18.72 L642.0,18.71 L643.5,18.69 L645.0,18.67 L646.5,18.64 L648.0,18.60 L649.5,18.55 L651.0,18.50 L652.5,18.45 L654.0,18.39 L655.5,18.32 L657.1,18.26 L658.6,18.19 L660.1,18.11 L661.6,18.04 L663.1,17.96 L664.6,17.88 L666.1,17.80 L667.6,17.72 L669.1,17.64 L670.6,17.55 L672.1,17.47 L673.6,17.40 L675.1,17.32" stroke="rgb(2,202,108)" stroke-width="3.3" fill="none" stroke-opacity="0.85"/>
<path d="M392.4,20.92 L393.9,21.10 L395.4,21.28 L396.9,21.47 L398.4,21.67 L399.9,21.88 L401.4,22.10 L402.9,22.33 L404.4,22.57 L405.9,22.81 L407.4,23.06 L408.9,23.32 L410.4,23.58 L411.9,23.85 L413.4,24.13 L414.9,24.41 L416.4,24.70 L417.9,25.00 L419.4,25.29 L420.9,25.60 L422.4,25.90 L423.9,26.22 L425.4,26.53 L426.9,26.85 L428.4,27.17 L429.9,27.50 L431.5,27.82 L433.0,28.15 L434.5,28.48 L436.0,28.81 L437.5,29.14 L439.0,29.47 L440.5,29.80 L442.0,30.12 L443.5,30.45 L445.0,30.77 L446.5,31.08 L448.0,31.39 L449.5,31.69 L451.0,31.99 L452.5,32.28 L454.0,32.56 L455.5,32.84 L457.0,33.10 L458.5,33.36 L460.0,33.60 L461.5,33.83 L463.0,34.05 L464.5,34.26 L466.0,34.45 L467.5,34.63 L469.1,34.79 L470.6,34.94 L472.1,35.07 L473.6,35.19 L475.1,35.28 L476.6,35.35 L478.1,35.41 L479.6,35.44 L481.1,35.45 L482.6,35.43 L484.1,35.39 L485.6,35.33 L487.1,35.24 L488.6,35.12 L490.1,34.98 L491.6,34.81 L493.1,34.60 L494.6,34.38 L496.1,34.13 L497.6,33.86 L499.1,33.57 L500.6,33.28 L502.1,32.97 L503.6,32.65 L505.1,32.33 L506.7,32.01 L508.2,31.69 L509.7,31.40 L511.2,31.13 L512.7,30.90 L514.2,30.70 L515.7,30.53 L517.2,30.39 L518.7,30.27 L520.2,30.18 L521.7,30.09 L523.2,30.02 L524.7,29.95 L526.2,29.89 L527.7,29.83 L529.2,29.77 L530.7,29.71 L532.2,29.65 L533.7,29.59 L535.2,29.53 L536.7,29.47 L538.2,29.41 L539.7,29.35 L541.2,29.29 L542.7,29.24 L544.3,29.18 L545.8,29.12 L547.3,29.06 L548.8,28.99 L550.3,28.93 L551.8,28.87 L553.3,28.80 L554.8,28.73 L556.3,28.67 L557.8,28.60 L559.3,28.52 L560.8,28.45 L562.3,28.37 L563.8,28.29 L565.3,28.21 L566.8,28.12 L568.3,28.04 L569.8,27.95 L571.3,27.85 L572.8,27.75 L574.3,27.65 L575.8,27.55 L577.3,27.44 L578.8,27.33 L580.3,27.21 L581.9,27.09 L583.4,26.96 L584.9,26.83 L586.4,26.70 L587.9,26.56 L589.4,26.41 L590.9,26.26 L592.4,26.11 L593.9,25.94 L595.4,25.78 L596.9,25.60 L598.4,25.42 L599.9,25.24 L601.4,25.05 L602.9,24.86 L604.4,24.66 L605.9,24.46 L607.4,24.25 L608.9,24.05 L610.4,23.85 L611.9,23.64 L613.4,23.44 L614.9,23.24 L616.4,23.04 L617.9,22.85 L619.5,22.66 L621.0,22.48 L622.5,22.30 L624.0,22.13 L625.5,21.97 L627.0,21.81 L628.5,21.67 L630.0,21.53 L631.5,21.41 L633.0,21.30 L634.5,21.20 L636.0,21.11 L637.5,21.04 L639.0,20.98 L640.5,20.94 L642.0,20.91 L643.5,20.90 L645.0,20.90 L646.5,20.91 L648.0,20.93 L649.5,20.96 L651.0,21.00 L652.5,21.04 L654.0,21.08 L655.5,21.12 L657.1,21.16 L658.6,21.20 L660.1,21.24 L661.6,21.27 L663.1,21.30 L664.6,21.32 L666.1,21.32 L667.6,21.32 L669.1,21.30 L670.6,21.27 L672.1,21.22 L673.6,21.15 L675.1,21.07" stroke="rgb(2,202,108)" stroke-width="3.3" fill="none" stroke-opacity="0.85"/>
<path d="M392.4,55.26 L393.9,55.27 L395.4,55.32 L396.9,55.44 L398.4,55.60 L399.9,55.81 L401.4,56.07 L402.9,56.37 L404.4,56.71 L405.9,57.09 L407.4,57.51 L408.9,57.96 L410.4,58.45 L411.9,58.96 L413.4,59.51 L414.9,60.08 L416.4,60.67 L417.9,61.29 L419.4,61.93 L420.9,62.58 L422.4,63.25 L423.9,63.93 L425.4,64.62 L426.9,65.32 L428.4,66.02 L429.9,66.73 L431.5,67.45 L433.0,68.16 L434.5,68.87 L436.0,69.57 L437.5,70.27 L439.0,70.95 L440.5,71.63 L442.0,72.29 L443.5,72.94 L445.0,73.56 L446.5,74.17 L448.0,74.75 L449.5,75.31 L451.0,75.85 L452.5,76.35 L454.0,76.82 L455.5,77.25 L457.0,77.63 L458.5,77.98 L460.0,78.27 L461.5,78.51 L463.0,78.69 L464.5,78.81 L466.0,78.86 L467.5,78.85 L469.1,78.79 L470.6,78.68 L472.1,78.54 L473.6,78.36 L475.1,78.15 L476.6,77.93 L478.1,77.70 L479.6,77.46 L481.1,77.21 L482.6,76.98 L484.1,76.75 L485.6,76.54 L487.1,76.35 L488.6,76.19 L490.1,76.06 L491.6,75.95 L493.1,75.87 L494.6,75.81 L496.1,75.77 L497.6,75.75 L499.1,75.76 L500.6,75.78 L502.1,75.82 L503.6,75.88 L505.1,75.95 L506.7,76.04 L508.2,76.14 L509.7,76.24 L511.2,76.36 L512.7,76.49 L514.2,76.63 L515.7,76.77 L517.2,76.92 L518.7,77.08 L520.2,77.24 L521.7,77.40 L523.2,77.57 L524.7,77.75 L526.2,77.93 L527.7,78.11 L529.2,78.30 L530.7,78.49 L532.2,78.69 L533.7,78.88 L535.2,79.08 L536.7,79.28 L538.2,79.48 L539.7,79.68 L541.2,79.89 L542.7,80.09 L544.3,80.29 L545.8,80.49 L547.3,80.69 L548.8,80.89 L550.3,81.09 L551.8,81.29 L553.3,81.48 L554.8,81.67 L556.3,81.86 L557.8,82.04 L559.3,82.23 L560.8,82.40 L562.3,82.58 L563.8,82.75 L565.3,82.92 L566.8,83.09 L568.3,83.25 L569.8,83.41 L571.3,83.57 L572.8,83.72 L574.3,83.87 L575.8,84.01 L577.3,84.16 L578.8,84.29 L580.3,84.43 L581.9,84.55 L583.4,84.68 L584.9,84.80 L586.4,84.91 L587.9,85.03 L589.4,85.13 L590.9,85.24 L592.4,85.34 L593.9,85.43 L595.4,85.53 L596.9,85.62 L598.4,85.70 L599.9,85.78 L601.4,85.86 L602.9,85.94 L604.4,86.01 L605.9,86.08 L607.4,86.14 L608.9,86.21 L610.4,86.26 L611.9,86.32 L613.4,86.37 L614.9,86.43 L616.4,86.47 L617.9,86.52 L619.5,86.56 L621.0,86.60 L622.5,86.64 L624.0,86.68 L625.5,86.71 L627.0,86.74 L628.5,86.77 L630.0,86.80 L631.5,86.82 L633.0,86.84 L634.5,86.86 L636.0,86.88 L637.5,86.90 L639.0,86.92 L640.5,86.93 L642.0,86.94 L643.5,86.96 L645.0,86.97 L646.5,86.97 L648.0,86.98 L649.5,86.99 L651.0,86.99 L652.5,87.00 L654.0,87.00 L655.5,87.00 L657.1,87.01 L658.6,87.01 L660.1,87.01 L661.6,87.01 L663.1,87.01 L664.6,87.01 L666.1,87.01 L667.6,87.00 L669.1,87.00 L670.6,87.00 L672.1,87.00 L673.6,87.00 L675.1,86.99" stroke="rgb(2,202,108)" stroke-width="3.3" fill="none" stroke-opacity="0.85"/>
<path d="M392.4,115.73 L393.9,115.54 L395.4,115.28 L396.9,114.97 L398.4,114.60 L399.9,114.17 L401.4,113.69 L402.9,113.17 L404.4,112.60 L405.9,112.00 L407.4,111.35 L408.9,110.68 L410.4,109.97 L411.9,109.24 L413.4,108.48 L414.9,107.70 L416.4,106.91 L417.9,106.11 L419.4,105.29 L420.9,104.47 L422.4,103.64 L423.9,102.81 L425.4,101.98 L426.9,101.15 L428.4,100.32 L429.9,99.51 L431.5,98.70 L433.0,97.90 L434.5,97.11 L436.0,96.34 L437.5,95.58 L439.0,94.85 L440.5,94.13 L442.0,93.43 L443.5,92.76 L445.0,92.11 L446.5,91.49 L448.0,90.89 L449.5,90.32 L451.0,89.78 L452.5,89.28 L454.0,88.81 L455.5,88.39 L457.0,88.00 L458.5,87.66 L460.0,87.36 L461.5,87.11 L463.0,86.92 L464.5,86.77 L466.0,86.68 L467.5,86.65 L469.1,86.68 L470.6,86.77 L472.1,86.93 L473.6,87.15 L475.1,87.45 L476.6,87.81 L478.1,88.23 L479.6,88.70 L481.1,89.19 L482.6,89.71 L484.1,90.22 L485.6,90.73 L487.1,91.22 L488.6,91.67 L490.1,92.09 L491.6,92.47 L493.1,92.81 L494.6,93.13 L496.1,93.42 L497.6,93.68 L499.1,93.91 L500.6,94.13 L502.1,94.32 L503.6,94.49 L505.1,94.64 L506.7,94.78 L508.2,94.89 L509.7,94.98 L511.2,95.06 L512.7,95.11 L514.2,95.15 L515.7,95.17 L517.2,95.17 L518.7,95.15 L520.2,95.11 L521.7,95.06 L523.2,94.99 L524.7,94.91 L526.2,94.81 L527.7,94.69 L529.2,94.56 L530.7,94.41 L532.2,94.25 L533.7,94.07 L535.2,93.88 L536.7,93.68 L538.2,93.46 L539.7,93.22 L541.2,92.98 L542.7,92.72 L544.3,92.45 L545.8,92.17 L547.3,91.88 L548.8,91.59 L550.3,91.28 L551.8,90.97 L553.3,90.65 L554.8,90.32 L556.3,90.00 L557.8,89.66 L559.3,89.33 L560.8,88.99 L562.3,88.65 L563.8,88.31 L565.3,87.98 L566.8,87.64 L568.3,87.31 L569.8,86.98 L571.3,86.65 L572.8,86.33 L574.3,86.01 L575.8,85.70 L577.3,85.40 L578.8,85.11 L580.3,84.82 L581.9,84.55 L583.4,84.28 L584.9,84.03 L586.4,83.79 L587.9,83.56 L589.4,83.33 L590.9,83.12 L592.4,82.92 L593.9,82.72 L595.4,82.54 L596.9,82.37 L598.4,82.20 L599.9,82.04 L601.4,81.90 L602.9,81.76 L604.4,81.62 L605.9,81.50 L607.4,81.39 L608.9,81.28 L610.4,81.18 L611.9,81.08 L613.4,81.00 L614.9,80.92 L616.4,80.85 L617.9,80.78 L619.5,80.72 L621.0,80.67 L622.5,80.62 L624.0,80.58 L625.5,80.54 L627.0,80.51 L628.5,80.49 L630.0,80.46 L631.5,80.45 L633.0,80.44 L634.5,80.43 L636.0,80.43 L637.5,80.43 L639.0,80.43 L640.5,80.44 L642.0,80.45 L643.5,80.47 L645.0,80.49 L646.5,80.51 L648.0,80.53 L649.5,80.56 L651.0,80.59 L652.5,80.62 L654.0,80.65 L655.5,80.69 L657.1,80.73 L658.6,80.76 L660.1,80.80 L661.6,80.84 L663.1,80.88 L664.6,80.92 L666.1,80.96 L667.6,81.01 L669.1,81.05 L670.6,81.09 L672.1,81.13 L673.6,81.17 L675.1,81.21" stroke="rgb(2,202,108)" stroke-width="3.3" fill="none" stroke-opacity="0.85"/>
<path d="M392.4,128.46 L393.9,128.80 L395.4,129.15 L396.9,129.53 L398.4,129.93 L399.9,130.34 L401.4,130.76 L402.9,131.20 L404.4,131.65 L405.9,132.11 L407.4,132.58 L408.9,133.06 L410.4,133.55 L411.9,134.04 L413.4,134.55 L414.9,135.05 L416.4,135.56 L417.9,136.07 L419.4,136.59 L420.9,137.10 L422.4,137.61 L423.9,138.12 L425.4,138.63 L426.9,139.13 L428.4,139.63 L429.9,140.12 L431.5,140.61 L433.0,141.08 L434.5,141.55 L436.0,142.00 L437.5,142.45 L439.0,142.88 L440.5,143.30 L442.0,143.70 L443.5,144.10 L445.0,144.48 L446.5,144.85 L448.0,145.20 L449.5,145.55 L451.0,145.88 L452.5,146.21 L454.0,146.52 L455.5,146.81 L457.0,147.10 L458.5,147.38 L460.0,147.64 L461.5,147.90 L463.0,148.14 L464.5,148.37 L466.0,148.59 L467.5,148.80 L469.1,149.00 L470.6,149.18 L472.1,149.36 L473.6,149.51 L475.1,149.66 L476.6,149.79 L478.1,149.91 L479.6,150.01 L481.1,150.10 L482.6,150.17 L484.1,150.22 L485.6,150.27 L487.1,150.29 L488.6,150.30 L490.1,150.29 L491.6,150.27 L493.1,150.22 L494.6,150.17 L496.1,150.09 L497.6,150.00 L499.1,149.89 L500.6,149.77 L502.1,149.63 L503.6,149.47 L505.1,149.30 L506.7,149.10 L508.2,148.90 L509.7,148.68 L511.2,148.45 L512.7,148.20 L514.2,147.96 L515.7,147.70 L517.2,147.45 L518.7,147.19 L520.2,146.93 L521.7,146.68 L523.2,146.44 L524.7,146.20 L526.2,145.97 L527.7,145.75 L529.2,145.55 L530.7,145.36 L532.2,145.17 L533.7,145.00 L535.2,144.85 L536.7,144.70 L538.2,144.56 L539.7,144.44 L541.2,144.33 L542.7,144.23 L544.3,144.13 L545.8,144.05 L547.3,143.99 L548.8,143.93 L550.3,143.88 L551.8,143.84 L553.3,143.81 L554.8,143.80 L556.3,143.79 L557.8,143.79 L559.3,143.81 L560.8,143.83 L562.3,143.86 L563.8,143.90 L565.3,143.96 L566.8,144.02 L568.3,144.09 L569.8,144.17 L571.3,144.25 L572.8,144.35 L574.3,144.45 L575.8,144.55 L577.3,144.66 L578.8,144.77 L580.3,144.89 L581.9,145.01 L583.4,145.13 L584.9,145.25 L586.4,145.38 L587.9,145.50 L589.4,145.62 L590.9,145.75 L592.4,145.87 L593.9,145.99 L595.4,146.10 L596.9,146.21 L598.4,146.32 L599.9,146.42 L601.4,146.52 L602.9,146.60 L604.4,146.69 L605.9,146.77 L607.4,146.84 L608.9,146.92 L610.4,146.99 L611.9,147.05 L613.4,147.12 L614.9,147.19 L616.4,147.25 L617.9,147.32 L619.5,147.39 L621.0,147.46 L622.5,147.54 L624.0,147.62 L625.5,147.70 L627.0,147.78 L628.5,147.86 L630.0,147.95 L631.5,148.04 L633.0,148.12 L634.5,148.21 L636.0,148.29 L637.5,148.38 L639.0,148.46 L640.5,148.54 L642.0,148.62 L643.5,148.70 L645.0,148.78 L646.5,148.85 L648.0,148.92 L649.5,149.00 L651.0,149.07 L652.5,149.14 L654.0,149.21 L655.5,149.28 L657.1,149.35 L658.6,149.42 L660.1,149.49 L661.6,149.56 L663.1,149.64 L664.6,149.71 L666.1,149.79 L667.6,149.86 L669.1,149.94 L670.6,150.02 L672.1,150.11 L673.6,150.19 L675.1,150.28" stroke="rgb(2,202,108)" stroke-width="3.3" fill="none" stroke-opacity="0.85"/>
<path d="M392.4,185.20 L393.9,185.20 L395.4,185.19 L396.9,185.15 L398.4,185.10 L399.9,185.02 L401.4,184.93 L402.9,184.82 L404.4,184.70 L405.9,184.55 L407.4,184.39 L408.9,184.21 L410.4,184.02 L411.9,183.81 L413.4,183.58 L414.9,183.34 L416.4,183.08 L417.9,182.81 L419.4,182.52 L420.9,182.22 L422.4,181.91 L423.9,181.58 L425.4,181.24 L426.9,180.89 L428.4,180.53 L429.9,180.15 L431.5,179.76 L433.0,179.36 L434.5,178.95 L436.0,178.53 L437.5,178.10 L439.0,177.65 L440.5,177.20 L442.0,176.74 L443.5,176.27 L445.0,175.79 L446.5,175.30 L448.0,174.81 L449.5,174.31 L451.0,173.80 L452.5,173.28 L454.0,172.76 L455.5,172.23 L457.0,171.70 L458.5,171.16 L460.0,170.62 L461.5,170.08 L463.0,169.53 L464.5,168.98 L466.0,168.43 L467.5,167.88 L469.1,167.33 L470.6,166.78 L472.1,166.23 L473.6,165.68 L475.1,165.13 L476.6,164.59 L478.1,164.04 L479.6,163.51 L481.1,163.00 L482.6,162.50 L484.1,162.02 L485.6,161.58 L487.1,161.17 L488.6,160.79 L490.1,160.45 L491.6,160.15 L493.1,159.87 L494.6,159.62 L496.1,159.40 L497.6,159.20 L499.1,159.02 L500.6,158.85 L502.1,158.70 L503.6,158.57 L505.1,158.44 L506.7,158.31 L508.2,158.20 L509.7,158.08 L511.2,157.98 L512.7,157.87 L514.2,157.77 L515.7,157.68 L517.2,157.59 L518.7,157.50 L520.2,157.42 L521.7,157.34 L523.2,157.26 L524.7,157.19 L526.2,157.12 L527.7,157.06 L529.2,156.99 L530.7,156.93 L532.2,156.88 L533.7,156.82 L535.2,156.77 L536.7,156.73 L538.2,156.68 L539.7,156.64 L541.2,156.60 L542.7,156.56 L544.3,156.52 L545.8,156.49 L547.3,156.45 L548.8,156.42 L550.3,156.39 L551.8,156.37 L553.3,156.34 L554.8,156.31 L556.3,156.29 L557.8,156.27 L559.3,156.24 L560.8,156.22 L562.3,156.20 L563.8,156.18 L565.3,156.16 L566.8,156.14 L568.3,156.12 L569.8,156.10 L571.3,156.08 L572.8,156.06 L574.3,156.04 L575.8,156.02 L577.3,156.00 L578.8,155.98 L580.3,155.95 L581.9,155.93 L583.4,155.90 L584.9,155.88 L586.4,155.85 L587.9,155.82 L589.4,155.80 L590.9,155.77 L592.4,155.74 L593.9,155.71 L595.4,155.67 L596.9,155.64 L598.4,155.61 L599.9,155.57 L601.4,155.54 L602.9,155.50 L604.4,155.46 L605.9,155.43 L607.4,155.39 L608.9,155.35 L610.4,155.31 L611.9,155.27 L613.4,155.23 L614.9,155.19 L616.4,155.15 L617.9,155.11 L619.5,155.06 L621.0,155.02 L622.5,154.98 L624.0,154.93 L625.5,154.89 L627.0,154.85 L628.5,154.80 L630.0,154.76 L631.5,154.71 L633.0,154.66 L634.5,154.62 L636.0,154.57 L637.5,154.52 L639.0,154.48 L640.5,154.43 L642.0,154.38 L643.5,154.34 L645.0,154.29 L646.5,154.24 L648.0,154.19 L649.5,154.15 L651.0,154.10 L652.5,154.05 L654.0,154.00 L655.5,153.95 L657.1,153.91 L658.6,153.86 L660.1,153.81 L661.6,153.76 L663.1,153.72 L664.6,153.67 L666.1,153.62 L667.6,153.58 L669.1,153.53 L670.6,153.48 L672.1,153.44 L673.6,153.39 L675.1,153.35" stroke="rgb(2,202,108)" stroke-width="3.3" fill="none" stroke-opacity="0.85"/>
</g>
<g clip-path="url(#clipc)">
<line x1="66.35" y1="323.30" x2="349.10" y2="323.30" stroke="#cfcfcf" stroke-width="2.8" stroke-dasharray="2.8 4.65" stroke-dashoffset="-0.75"/>
<line x1="66.35" y1="387.50" x2="349.10" y2="387.50" stroke="#cfcfcf" stroke-width="2.8" stroke-dasharray="2.8 4.65" stroke-dashoffset="-0.75"/>
<line x1="66.35" y1="453.90" x2="349.10" y2="453.90" stroke="#cfcfcf" stroke-width="2.8" stroke-dasharray="2.8 4.65" stroke-dashoffset="-0.75"/>
<path d="M66.3,321.41 L67.9,321.34 L69.4,321.28 L70.9,321.22 L72.4,321.15 L73.9,321.09 L75.4,321.03 L76.9,320.98 L78.4,320.92 L79.9,320.86 L81.4,320.81 L82.9,320.76 L84.4,320.70 L85.9,320.66 L87.4,320.61 L88.9,320.56 L90.4,320.52 L91.9,320.48 L93.4,320.44 L94.9,320.41 L96.4,320.37 L97.9,320.34 L99.4,320.31 L100.9,320.29 L102.4,320.26 L103.9,320.24 L105.5,320.23 L107.0,320.21 L108.5,320.20 L110.0,320.20 L111.5,320.19 L113.0,320.20 L114.5,320.20 L116.0,320.21 L117.5,320.22 L119.0,320.23 L120.5,320.25 L122.0,320.28 L123.5,320.31 L125.0,320.34 L126.5,320.37 L128.0,320.42 L129.5,320.46 L131.0,320.51 L132.5,320.57 L134.0,320.63 L135.5,320.70 L137.0,320.77 L138.5,320.84 L140.0,320.92 L141.5,321.01 L143.1,321.10 L144.6,321.20 L146.1,321.30 L147.6,321.41 L149.1,321.53 L150.6,321.65 L152.1,321.77 L153.6,321.90 L155.1,322.03 L156.6,322.16 L158.1,322.30 L159.6,322.44 L161.1,322.58 L162.6,322.73 L164.1,322.87 L165.6,323.02 L167.1,323.17 L168.6,323.32 L170.1,323.46 L171.6,323.61 L173.1,323.76 L174.6,323.91 L176.1,324.05 L177.6,324.19 L179.1,324.33 L180.7,324.47 L182.2,324.61 L183.7,324.74 L185.2,324.87 L186.7,324.99 L188.2,325.11 L189.7,325.23 L191.2,325.34 L192.7,325.45 L194.2,325.55 L195.7,325.64 L197.2,325.73 L198.7,325.81 L200.2,325.89 L201.7,325.96 L203.2,326.03 L204.7,326.09 L206.2,326.15 L207.7,326.21 L209.2,326.25 L210.7,326.30 L212.2,326.34 L213.7,326.37 L215.2,326.40 L216.7,326.43 L218.3,326.45 L219.8,326.47 L221.3,326.49 L222.8,326.50 L224.3,326.50 L225.8,326.51 L227.3,326.51 L228.8,326.50 L230.3,326.49 L231.8,326.48 L233.3,326.47 L234.8,326.45 L236.3,326.43 L237.8,326.41 L239.3,326.38 L240.8,326.35 L242.3,326.32 L243.8,326.28 L245.3,326.24 L246.8,326.20 L248.3,326.16 L249.8,326.12 L251.3,326.07 L252.8,326.02 L254.3,325.97 L255.9,325.91 L257.4,325.86 L258.9,325.80 L260.4,325.74 L261.9,325.68 L263.4,325.62 L264.9,325.56 L266.4,325.49 L267.9,325.43 L269.4,325.36 L270.9,325.29 L272.4,325.22 L273.9,325.15 L275.4,325.08 L276.9,325.00 L278.4,324.93 L279.9,324.86 L281.4,324.78 L282.9,324.71 L284.4,324.63 L285.9,324.56 L287.4,324.48 L288.9,324.41 L290.4,324.33 L291.9,324.26 L293.5,324.18 L295.0,324.11 L296.5,324.03 L298.0,323.96 L299.5,323.88 L301.0,323.81 L302.5,323.74 L304.0,323.67 L305.5,323.60 L307.0,323.53 L308.5,323.46 L310.0,323.39 L311.5,323.32 L313.0,323.26 L314.5,323.20 L316.0,323.13 L317.5,323.07 L319.0,323.01 L320.5,322.96 L322.0,322.90 L323.5,322.85 L325.0,322.80 L326.5,322.75 L328.0,322.70 L329.5,322.66 L331.1,322.61 L332.6,322.57 L334.1,322.54 L335.6,322.50 L337.1,322.47 L338.6,322.44 L340.1,322.41 L341.6,322.39 L343.1,322.37 L344.6,322.35 L346.1,322.34 L347.6,322.33 L349.1,322.32" stroke="#b96ec4" stroke-width="3.3" fill="none" />
<path d="M66.3,322.34 L67.9,322.30 L69.4,322.29 L70.9,322.29 L72.4,322.31 L73.9,322.35 L75.4,322.40 L76.9,322.47 L78.4,322.56 L79.9,322.66 L81.4,322.77 L82.9,322.90 L84.4,323.04 L85.9,323.19 L87.4,323.36 L88.9,323.53 L90.4,323.71 L91.9,323.90 L93.4,324.10 L94.9,324.30 L96.4,324.52 L97.9,324.73 L99.4,324.95 L100.9,325.18 L102.4,325.41 L103.9,325.64 L105.5,325.88 L107.0,326.11 L108.5,326.35 L110.0,326.59 L111.5,326.82 L113.0,327.06 L114.5,327.29 L116.0,327.52 L117.5,327.74 L119.0,327.96 L120.5,328.17 L122.0,328.38 L123.5,328.58 L125.0,328.77 L126.5,328.96 L128.0,329.14 L129.5,329.31 L131.0,329.46 L132.5,329.61 L134.0,329.75 L135.5,329.87 L137.0,329.98 L138.5,330.08 L140.0,330.17 L141.5,330.24 L143.1,330.30 L144.6,330.34 L146.1,330.37 L147.6,330.38 L149.1,330.37 L150.6,330.35 L152.1,330.31 L153.6,330.26 L155.1,330.20 L156.6,330.12 L158.1,330.02 L159.6,329.92 L161.1,329.80 L162.6,329.66 L164.1,329.52 L165.6,329.36 L167.1,329.19 L168.6,329.01 L170.1,328.82 L171.6,328.61 L173.1,328.40 L174.6,328.18 L176.1,327.95 L177.6,327.71 L179.1,327.46 L180.7,327.21 L182.2,326.95 L183.7,326.69 L185.2,326.43 L186.7,326.17 L188.2,325.90 L189.7,325.63 L191.2,325.37 L192.7,325.10 L194.2,324.84 L195.7,324.58 L197.2,324.32 L198.7,324.07 L200.2,323.82 L201.7,323.58 L203.2,323.35 L204.7,323.12 L206.2,322.91 L207.7,322.70 L209.2,322.50 L210.7,322.31 L212.2,322.13 L213.7,321.96 L215.2,321.79 L216.7,321.64 L218.3,321.49 L219.8,321.35 L221.3,321.22 L222.8,321.09 L224.3,320.97 L225.8,320.86 L227.3,320.76 L228.8,320.66 L230.3,320.57 L231.8,320.49 L233.3,320.41 L234.8,320.34 L236.3,320.28 L237.8,320.22 L239.3,320.17 L240.8,320.12 L242.3,320.08 L243.8,320.05 L245.3,320.01 L246.8,319.99 L248.3,319.97 L249.8,319.95 L251.3,319.94 L252.8,319.93 L254.3,319.93 L255.9,319.93 L257.4,319.94 L258.9,319.95 L260.4,319.96 L261.9,319.98 L263.4,320.00 L264.9,320.02 L266.4,320.05 L267.9,320.08 L269.4,320.11 L270.9,320.14 L272.4,320.18 L273.9,320.22 L275.4,320.26 L276.9,320.31 L278.4,320.35 L279.9,320.40 L281.4,320.45 L282.9,320.50 L284.4,320.55 L285.9,320.61 L287.4,320.66 L288.9,320.72 L290.4,320.77 L291.9,320.83 L293.5,320.89 L295.0,320.94 L296.5,321.00 L298.0,321.06 L299.5,321.12 L301.0,321.18 L302.5,321.23 L304.0,321.29 L305.5,321.35 L307.0,321.40 L308.5,321.46 L310.0,321.51 L311.5,321.56 L313.0,321.61 L314.5,321.66 L316.0,321.71 L317.5,321.75 L319.0,321.80 L320.5,321.84 L322.0,321.88 L323.5,321.91 L325.0,321.95 L326.5,321.98 L328.0,322.01 L329.5,322.03 L331.1,322.06 L332.6,322.08 L334.1,322.09 L335.6,322.10 L337.1,322.11 L338.6,322.12 L340.1,322.12 L341.6,322.11 L343.1,322.11 L344.6,322.09 L346.1,322.08 L347.6,322.05 L349.1,322.03" stroke="#b96ec4" stroke-width="3.3" fill="none" />
<path d="M66.3,378.21 L67.9,378.19 L69.4,378.20 L70.9,378.22 L72.4,378.26 L73.9,378.32 L75.4,378.40 L76.9,378.49 L78.4,378.60 L79.9,378.73 L81.4,378.87 L82.9,379.02 L84.4,379.19 L85.9,379.37 L87.4,379.57 L88.9,379.77 L90.4,379.99 L91.9,380.22 L93.4,380.46 L94.9,380.71 L96.4,380.97 L97.9,381.24 L99.4,381.51 L100.9,381.80 L102.4,382.09 L103.9,382.38 L105.5,382.68 L107.0,382.99 L108.5,383.30 L110.0,383.62 L111.5,383.94 L113.0,384.26 L114.5,384.58 L116.0,384.91 L117.5,385.24 L119.0,385.56 L120.5,385.89 L122.0,386.22 L123.5,386.54 L125.0,386.87 L126.5,387.19 L128.0,387.51 L129.5,387.82 L131.0,388.14 L132.5,388.44 L134.0,388.74 L135.5,389.04 L137.0,389.33 L138.5,389.61 L140.0,389.88 L141.5,390.15 L143.1,390.41 L144.6,390.66 L146.1,390.89 L147.6,391.12 L149.1,391.34 L150.6,391.54 L152.1,391.74 L153.6,391.92 L155.1,392.08 L156.6,392.24 L158.1,392.38 L159.6,392.51 L161.1,392.63 L162.6,392.73 L164.1,392.83 L165.6,392.91 L167.1,392.99 L168.6,393.05 L170.1,393.10 L171.6,393.15 L173.1,393.18 L174.6,393.20 L176.1,393.22 L177.6,393.23 L179.1,393.22 L180.7,393.21 L182.2,393.20 L183.7,393.17 L185.2,393.14 L186.7,393.10 L188.2,393.05 L189.7,393.00 L191.2,392.94 L192.7,392.88 L194.2,392.81 L195.7,392.73 L197.2,392.65 L198.7,392.57 L200.2,392.48 L201.7,392.38 L203.2,392.29 L204.7,392.19 L206.2,392.08 L207.7,391.98 L209.2,391.87 L210.7,391.76 L212.2,391.64 L213.7,391.53 L215.2,391.41 L216.7,391.29 L218.3,391.17 L219.8,391.05 L221.3,390.93 L222.8,390.82 L224.3,390.70 L225.8,390.58 L227.3,390.46 L228.8,390.34 L230.3,390.23 L231.8,390.11 L233.3,390.00 L234.8,389.89 L236.3,389.78 L237.8,389.68 L239.3,389.58 L240.8,389.48 L242.3,389.39 L243.8,389.30 L245.3,389.21 L246.8,389.13 L248.3,389.05 L249.8,388.97 L251.3,388.90 L252.8,388.83 L254.3,388.77 L255.9,388.70 L257.4,388.64 L258.9,388.59 L260.4,388.53 L261.9,388.48 L263.4,388.43 L264.9,388.39 L266.4,388.35 L267.9,388.31 L269.4,388.27 L270.9,388.23 L272.4,388.20 L273.9,388.17 L275.4,388.14 L276.9,388.11 L278.4,388.09 L279.9,388.07 L281.4,388.05 L282.9,388.03 L284.4,388.01 L285.9,387.99 L287.4,387.98 L288.9,387.97 L290.4,387.96 L291.9,387.95 L293.5,387.94 L295.0,387.93 L296.5,387.93 L298.0,387.92 L299.5,387.92 L301.0,387.92 L302.5,387.92 L304.0,387.92 L305.5,387.92 L307.0,387.92 L308.5,387.92 L310.0,387.92 L311.5,387.92 L313.0,387.93 L314.5,387.93 L316.0,387.93 L317.5,387.94 L319.0,387.94 L320.5,387.94 L322.0,387.95 L323.5,387.95 L325.0,387.95 L326.5,387.96 L328.0,387.96 L329.5,387.96 L331.1,387.96 L332.6,387.96 L334.1,387.96 L335.6,387.96 L337.1,387.96 L338.6,387.96 L340.1,387.96 L341.6,387.96 L343.1,387.95 L344.6,387.95 L346.1,387.94 L347.6,387.93 L349.1,387.92" stroke="#b96ec4" stroke-width="3.3" fill="none" />
<path d="M66.3,411.28 L67.9,411.33 L69.4,411.34 L70.9,411.31 L72.4,411.25 L73.9,411.14 L75.4,411.00 L76.9,410.82 L78.4,410.62 L79.9,410.38 L81.4,410.11 L82.9,409.81 L84.4,409.48 L85.9,409.13 L87.4,408.75 L88.9,408.35 L90.4,407.93 L91.9,407.49 L93.4,407.03 L94.9,406.55 L96.4,406.06 L97.9,405.55 L99.4,405.03 L100.9,404.50 L102.4,403.96 L103.9,403.41 L105.5,402.85 L107.0,402.28 L108.5,401.71 L110.0,401.14 L111.5,400.57 L113.0,399.99 L114.5,399.42 L116.0,398.85 L117.5,398.28 L119.0,397.72 L120.5,397.16 L122.0,396.61 L123.5,396.06 L125.0,395.53 L126.5,394.99 L128.0,394.47 L129.5,393.96 L131.0,393.45 L132.5,392.95 L134.0,392.46 L135.5,391.99 L137.0,391.52 L138.5,391.07 L140.0,390.62 L141.5,390.19 L143.1,389.78 L144.6,389.37 L146.1,388.98 L147.6,388.61 L149.1,388.25 L150.6,387.91 L152.1,387.58 L153.6,387.27 L155.1,386.97 L156.6,386.70 L158.1,386.44 L159.6,386.19 L161.1,385.96 L162.6,385.75 L164.1,385.55 L165.6,385.36 L167.1,385.19 L168.6,385.03 L170.1,384.89 L171.6,384.76 L173.1,384.64 L174.6,384.53 L176.1,384.44 L177.6,384.35 L179.1,384.28 L180.7,384.22 L182.2,384.17 L183.7,384.13 L185.2,384.09 L186.7,384.07 L188.2,384.06 L189.7,384.05 L191.2,384.06 L192.7,384.07 L194.2,384.09 L195.7,384.11 L197.2,384.14 L198.7,384.18 L200.2,384.23 L201.7,384.27 L203.2,384.33 L204.7,384.39 L206.2,384.45 L207.7,384.52 L209.2,384.59 L210.7,384.67 L212.2,384.75 L213.7,384.83 L215.2,384.91 L216.7,385.00 L218.3,385.08 L219.8,385.17 L221.3,385.26 L222.8,385.35 L224.3,385.44 L225.8,385.53 L227.3,385.62 L228.8,385.70 L230.3,385.79 L231.8,385.87 L233.3,385.95 L234.8,386.03 L236.3,386.11 L237.8,386.18 L239.3,386.25 L240.8,386.32 L242.3,386.38 L243.8,386.44 L245.3,386.49 L246.8,386.54 L248.3,386.58 L249.8,386.62 L251.3,386.66 L252.8,386.69 L254.3,386.72 L255.9,386.75 L257.4,386.77 L258.9,386.79 L260.4,386.81 L261.9,386.82 L263.4,386.84 L264.9,386.84 L266.4,386.85 L267.9,386.85 L269.4,386.85 L270.9,386.85 L272.4,386.85 L273.9,386.84 L275.4,386.84 L276.9,386.83 L278.4,386.82 L279.9,386.81 L281.4,386.79 L282.9,386.78 L284.4,386.76 L285.9,386.74 L287.4,386.72 L288.9,386.70 L290.4,386.68 L291.9,386.66 L293.5,386.64 L295.0,386.62 L296.5,386.60 L298.0,386.58 L299.5,386.55 L301.0,386.53 L302.5,386.51 L304.0,386.49 L305.5,386.47 L307.0,386.44 L308.5,386.42 L310.0,386.40 L311.5,386.39 L313.0,386.37 L314.5,386.35 L316.0,386.33 L317.5,386.32 L319.0,386.31 L320.5,386.29 L322.0,386.28 L323.5,386.28 L325.0,386.27 L326.5,386.27 L328.0,386.26 L329.5,386.26 L331.1,386.26 L332.6,386.27 L334.1,386.28 L335.6,386.29 L337.1,386.30 L338.6,386.31 L340.1,386.33 L341.6,386.35 L343.1,386.38 L344.6,386.41 L346.1,386.44 L347.6,386.47 L349.1,386.51" stroke="#b96ec4" stroke-width="3.3" fill="none" />
<path d="M66.3,446.01 L67.9,446.05 L69.4,446.10 L70.9,446.17 L72.4,446.24 L73.9,446.33 L75.4,446.43 L76.9,446.54 L78.4,446.65 L79.9,446.78 L81.4,446.92 L82.9,447.06 L84.4,447.21 L85.9,447.37 L87.4,447.54 L88.9,447.71 L90.4,447.89 L91.9,448.08 L93.4,448.27 L94.9,448.47 L96.4,448.67 L97.9,448.87 L99.4,449.08 L100.9,449.30 L102.4,449.52 L103.9,449.74 L105.5,449.96 L107.0,450.18 L108.5,450.41 L110.0,450.63 L111.5,450.86 L113.0,451.09 L114.5,451.32 L116.0,451.55 L117.5,451.78 L119.0,452.00 L120.5,452.23 L122.0,452.45 L123.5,452.67 L125.0,452.89 L126.5,453.11 L128.0,453.33 L129.5,453.54 L131.0,453.75 L132.5,453.96 L134.0,454.17 L135.5,454.37 L137.0,454.57 L138.5,454.76 L140.0,454.95 L141.5,455.14 L143.1,455.32 L144.6,455.50 L146.1,455.67 L147.6,455.84 L149.1,456.00 L150.6,456.16 L152.1,456.31 L153.6,456.46 L155.1,456.60 L156.6,456.73 L158.1,456.86 L159.6,456.98 L161.1,457.10 L162.6,457.21 L164.1,457.31 L165.6,457.40 L167.1,457.49 L168.6,457.57 L170.1,457.65 L171.6,457.72 L173.1,457.78 L174.6,457.84 L176.1,457.89 L177.6,457.93 L179.1,457.98 L180.7,458.01 L182.2,458.04 L183.7,458.07 L185.2,458.09 L186.7,458.11 L188.2,458.12 L189.7,458.13 L191.2,458.14 L192.7,458.14 L194.2,458.14 L195.7,458.13 L197.2,458.12 L198.7,458.11 L200.2,458.09 L201.7,458.07 L203.2,458.05 L204.7,458.03 L206.2,458.00 L207.7,457.97 L209.2,457.94 L210.7,457.91 L212.2,457.87 L213.7,457.84 L215.2,457.80 L216.7,457.76 L218.3,457.72 L219.8,457.68 L221.3,457.64 L222.8,457.59 L224.3,457.55 L225.8,457.51 L227.3,457.46 L228.8,457.42 L230.3,457.37 L231.8,457.33 L233.3,457.28 L234.8,457.24 L236.3,457.20 L237.8,457.16 L239.3,457.11 L240.8,457.07 L242.3,457.03 L243.8,456.99 L245.3,456.96 L246.8,456.92 L248.3,456.88 L249.8,456.84 L251.3,456.81 L252.8,456.77 L254.3,456.74 L255.9,456.70 L257.4,456.67 L258.9,456.63 L260.4,456.60 L261.9,456.57 L263.4,456.54 L264.9,456.50 L266.4,456.47 L267.9,456.44 L269.4,456.41 L270.9,456.38 L272.4,456.35 L273.9,456.32 L275.4,456.30 L276.9,456.27 L278.4,456.24 L279.9,456.21 L281.4,456.18 L282.9,456.16 L284.4,456.13 L285.9,456.11 L287.4,456.08 L288.9,456.05 L290.4,456.03 L291.9,456.00 L293.5,455.98 L295.0,455.95 L296.5,455.93 L298.0,455.90 L299.5,455.88 L301.0,455.86 L302.5,455.83 L304.0,455.81 L305.5,455.79 L307.0,455.76 L308.5,455.74 L310.0,455.72 L311.5,455.69 L313.0,455.67 L314.5,455.65 L316.0,455.63 L317.5,455.60 L319.0,455.58 L320.5,455.56 L322.0,455.54 L323.5,455.52 L325.0,455.49 L326.5,455.47 L328.0,455.45 L329.5,455.43 L331.1,455.40 L332.6,455.38 L334.1,455.36 L335.6,455.34 L337.1,455.31 L338.6,455.29 L340.1,455.27 L341.6,455.24 L343.1,455.22 L344.6,455.20 L346.1,455.17 L347.6,455.15 L349.1,455.13" stroke="#b96ec4" stroke-width="3.3" fill="none" />
<path d="M66.3,475.05 L67.9,475.06 L69.4,475.06 L70.9,475.04 L72.4,475.01 L73.9,474.96 L75.4,474.91 L76.9,474.84 L78.4,474.76 L79.9,474.67 L81.4,474.57 L82.9,474.45 L84.4,474.33 L85.9,474.19 L87.4,474.05 L88.9,473.89 L90.4,473.72 L91.9,473.55 L93.4,473.36 L94.9,473.16 L96.4,472.96 L97.9,472.74 L99.4,472.52 L100.9,472.28 L102.4,472.04 L103.9,471.79 L105.5,471.54 L107.0,471.27 L108.5,470.99 L110.0,470.71 L111.5,470.42 L113.0,470.13 L114.5,469.82 L116.0,469.51 L117.5,469.20 L119.0,468.87 L120.5,468.54 L122.0,468.21 L123.5,467.86 L125.0,467.52 L126.5,467.16 L128.0,466.81 L129.5,466.44 L131.0,466.08 L132.5,465.71 L134.0,465.35 L135.5,464.99 L137.0,464.63 L138.5,464.28 L140.0,463.94 L141.5,463.60 L143.1,463.28 L144.6,462.96 L146.1,462.66 L147.6,462.36 L149.1,462.08 L150.6,461.81 L152.1,461.55 L153.6,461.30 L155.1,461.06 L156.6,460.83 L158.1,460.60 L159.6,460.37 L161.1,460.15 L162.6,459.94 L164.1,459.72 L165.6,459.50 L167.1,459.29 L168.6,459.07 L170.1,458.85 L171.6,458.62 L173.1,458.39 L174.6,458.16 L176.1,457.93 L177.6,457.70 L179.1,457.47 L180.7,457.24 L182.2,457.01 L183.7,456.78 L185.2,456.55 L186.7,456.33 L188.2,456.11 L189.7,455.89 L191.2,455.69 L192.7,455.48 L194.2,455.29 L195.7,455.11 L197.2,454.93 L198.7,454.77 L200.2,454.61 L201.7,454.46 L203.2,454.32 L204.7,454.19 L206.2,454.07 L207.7,453.95 L209.2,453.84 L210.7,453.74 L212.2,453.65 L213.7,453.56 L215.2,453.48 L216.7,453.40 L218.3,453.33 L219.8,453.27 L221.3,453.21 L222.8,453.15 L224.3,453.10 L225.8,453.05 L227.3,453.01 L228.8,452.97 L230.3,452.94 L231.8,452.91 L233.3,452.88 L234.8,452.85 L236.3,452.83 L237.8,452.80 L239.3,452.78 L240.8,452.77 L242.3,452.75 L243.8,452.74 L245.3,452.73 L246.8,452.72 L248.3,452.71 L249.8,452.70 L251.3,452.70 L252.8,452.70 L254.3,452.70 L255.9,452.70 L257.4,452.70 L258.9,452.71 L260.4,452.71 L261.9,452.72 L263.4,452.73 L264.9,452.74 L266.4,452.75 L267.9,452.76 L269.4,452.78 L270.9,452.79 L272.4,452.81 L273.9,452.83 L275.4,452.84 L276.9,452.86 L278.4,452.88 L279.9,452.90 L281.4,452.93 L282.9,452.95 L284.4,452.97 L285.9,452.99 L287.4,453.02 L288.9,453.04 L290.4,453.07 L291.9,453.10 L293.5,453.12 L295.0,453.15 L296.5,453.17 L298.0,453.20 L299.5,453.23 L301.0,453.26 L302.5,453.28 L304.0,453.31 L305.5,453.34 L307.0,453.37 L308.5,453.39 L310.0,453.42 L311.5,453.45 L313.0,453.47 L314.5,453.50 L316.0,453.53 L317.5,453.55 L319.0,453.58 L320.5,453.60 L322.0,453.62 L323.5,453.65 L325.0,453.67 L326.5,453.69 L328.0,453.71 L329.5,453.73 L331.1,453.75 L332.6,453.77 L334.1,453.79 L335.6,453.80 L337.1,453.82 L338.6,453.83 L340.1,453.85 L341.6,453.86 L343.1,453.87 L344.6,453.88 L346.1,453.89 L347.6,453.89 L349.1,453.90" stroke="#b96ec4" stroke-width="3.3" fill="none" />
<path d="M66.3,321.91 L67.9,321.84 L69.4,321.78 L70.9,321.72 L72.4,321.66 L73.9,321.61 L75.4,321.55 L76.9,321.50 L78.4,321.44 L79.9,321.39 L81.4,321.34 L82.9,321.30 L84.4,321.25 L85.9,321.21 L87.4,321.17 L88.9,321.13 L90.4,321.09 L91.9,321.06 L93.4,321.02 L94.9,321.00 L96.4,320.97 L97.9,320.95 L99.4,320.93 L100.9,320.91 L102.4,320.89 L103.9,320.88 L105.5,320.87 L107.0,320.87 L108.5,320.87 L110.0,320.87 L111.5,320.88 L113.0,320.88 L114.5,320.90 L116.0,320.92 L117.5,320.94 L119.0,320.96 L120.5,320.99 L122.0,321.02 L123.5,321.06 L125.0,321.10 L126.5,321.15 L128.0,321.20 L129.5,321.26 L131.0,321.32 L132.5,321.39 L134.0,321.46 L135.5,321.55 L137.0,321.64 L138.5,321.73 L140.0,321.83 L141.5,321.94 L143.1,322.05 L144.6,322.17 L146.1,322.29 L147.6,322.42 L149.1,322.55 L150.6,322.69 L152.1,322.83 L153.6,322.97 L155.1,323.11 L156.6,323.26 L158.1,323.40 L159.6,323.54 L161.1,323.68 L162.6,323.83 L164.1,323.97 L165.6,324.12 L167.1,324.26 L168.6,324.41 L170.1,324.55 L171.6,324.70 L173.1,324.84 L174.6,324.98 L176.1,325.12 L177.6,325.26 L179.1,325.39 L180.7,325.53 L182.2,325.66 L183.7,325.78 L185.2,325.90 L186.7,326.02 L188.2,326.13 L189.7,326.24 L191.2,326.34 L192.7,326.44 L194.2,326.53 L195.7,326.61 L197.2,326.68 L198.7,326.74 L200.2,326.79 L201.7,326.83 L203.2,326.87 L204.7,326.91 L206.2,326.94 L207.7,326.96 L209.2,326.98 L210.7,327.00 L212.2,327.01 L213.7,327.03 L215.2,327.04 L216.7,327.05 L218.3,327.06 L219.8,327.07 L221.3,327.08 L222.8,327.09 L224.3,327.10 L225.8,327.10 L227.3,327.09 L228.8,327.09 L230.3,327.08 L231.8,327.06 L233.3,327.05 L234.8,327.03 L236.3,327.00 L237.8,326.98 L239.3,326.95 L240.8,326.92 L242.3,326.88 L243.8,326.84 L245.3,326.80 L246.8,326.76 L248.3,326.72 L249.8,326.67 L251.3,326.62 L252.8,326.57 L254.3,326.52 L255.9,326.46 L257.4,326.40 L258.9,326.35 L260.4,326.29 L261.9,326.22 L263.4,326.16 L264.9,326.09 L266.4,326.03 L267.9,325.96 L269.4,325.89 L270.9,325.82 L272.4,325.75 L273.9,325.68 L275.4,325.60 L276.9,325.53 L278.4,325.46 L279.9,325.38 L281.4,325.31 L282.9,325.23 L284.4,325.15 L285.9,325.08 L287.4,325.00 L288.9,324.93 L290.4,324.85 L291.9,324.77 L293.5,324.70 L295.0,324.62 L296.5,324.55 L298.0,324.47 L299.5,324.40 L301.0,324.32 L302.5,324.25 L304.0,324.18 L305.5,324.11 L307.0,324.04 L308.5,323.97 L310.0,323.90 L311.5,323.83 L313.0,323.77 L314.5,323.70 L316.0,323.64 L317.5,323.58 L319.0,323.52 L320.5,323.46 L322.0,323.41 L323.5,323.35 L325.0,323.30 L326.5,323.25 L328.0,323.20 L329.5,323.16 L331.1,323.12 L332.6,323.07 L334.1,323.04 L335.6,323.00 L337.1,322.97 L338.6,322.94 L340.1,322.91 L341.6,322.89 L343.1,322.87 L344.6,322.85 L346.1,322.84 L347.6,322.83 L349.1,322.82" stroke="rgb(0,148,220)" stroke-width="3.3" fill="none" stroke-opacity="0.88" stroke-dasharray="12.2 5.3"/>
<path d="M66.3,322.85 L67.9,322.86 L69.4,322.88 L70.9,322.93 L72.4,323.00 L73.9,323.08 L75.4,323.18 L76.9,323.29 L78.4,323.42 L79.9,323.57 L81.4,323.72 L82.9,323.90 L84.4,324.08 L85.9,324.28 L87.4,324.48 L88.9,324.70 L90.4,324.93 L91.9,325.16 L93.4,325.40 L94.9,325.65 L96.4,325.91 L97.9,326.17 L99.4,326.44 L100.9,326.71 L102.4,326.99 L103.9,327.27 L105.5,327.55 L107.0,327.84 L108.5,328.13 L110.0,328.42 L111.5,328.71 L113.0,328.99 L114.5,329.27 L116.0,329.55 L117.5,329.83 L119.0,330.09 L120.5,330.35 L122.0,330.60 L123.5,330.85 L125.0,331.08 L126.5,331.30 L128.0,331.50 L129.5,331.70 L131.0,331.88 L132.5,332.05 L134.0,332.21 L135.5,332.35 L137.0,332.49 L138.5,332.61 L140.0,332.72 L141.5,332.81 L143.1,332.88 L144.6,332.94 L146.1,332.98 L147.6,333.01 L149.1,333.02 L150.6,333.01 L152.1,332.98 L153.6,332.94 L155.1,332.89 L156.6,332.81 L158.1,332.72 L159.6,332.62 L161.1,332.49 L162.6,332.35 L164.1,332.18 L165.6,332.00 L167.1,331.79 L168.6,331.57 L170.1,331.32 L171.6,331.06 L173.1,330.79 L174.6,330.50 L176.1,330.21 L177.6,329.90 L179.1,329.58 L180.7,329.25 L182.2,328.92 L183.7,328.59 L185.2,328.25 L186.7,327.91 L188.2,327.57 L189.7,327.23 L191.2,326.90 L192.7,326.57 L194.2,326.24 L195.7,325.90 L197.2,325.56 L198.7,325.22 L200.2,324.88 L201.7,324.55 L203.2,324.22 L204.7,323.90 L206.2,323.60 L207.7,323.30 L209.2,323.02 L210.7,322.76 L212.2,322.51 L213.7,322.28 L215.2,322.07 L216.7,321.87 L218.3,321.70 L219.8,321.55 L221.3,321.42 L222.8,321.29 L224.3,321.17 L225.8,321.06 L227.3,320.96 L228.8,320.86 L230.3,320.77 L231.8,320.69 L233.3,320.61 L234.8,320.54 L236.3,320.48 L237.8,320.42 L239.3,320.37 L240.8,320.32 L242.3,320.28 L243.8,320.25 L245.3,320.22 L246.8,320.19 L248.3,320.17 L249.8,320.15 L251.3,320.14 L252.8,320.14 L254.3,320.13 L255.9,320.14 L257.4,320.14 L258.9,320.15 L260.4,320.16 L261.9,320.18 L263.4,320.20 L264.9,320.23 L266.4,320.25 L267.9,320.28 L269.4,320.31 L270.9,320.35 L272.4,320.39 L273.9,320.43 L275.4,320.47 L276.9,320.52 L278.4,320.56 L279.9,320.61 L281.4,320.66 L282.9,320.71 L284.4,320.77 L285.9,320.82 L287.4,320.88 L288.9,320.93 L290.4,320.99 L291.9,321.05 L293.5,321.11 L295.0,321.16 L296.5,321.22 L298.0,321.28 L299.5,321.34 L301.0,321.40 L302.5,321.46 L304.0,321.52 L305.5,321.58 L307.0,321.63 L308.5,321.69 L310.0,321.74 L311.5,321.80 L313.0,321.85 L314.5,321.90 L316.0,321.95 L317.5,322.00 L319.0,322.04 L320.5,322.09 L322.0,322.13 L323.5,322.17 L325.0,322.20 L326.5,322.24 L328.0,322.27 L329.5,322.29 L331.1,322.32 L332.6,322.34 L334.1,322.36 L335.6,322.38 L337.1,322.39 L338.6,322.39 L340.1,322.40 L341.6,322.40 L343.1,322.39 L344.6,322.38 L346.1,322.37 L347.6,322.35 L349.1,322.33" stroke="rgb(0,148,220)" stroke-width="3.3" fill="none" stroke-opacity="0.88" stroke-dasharray="12.2 5.3"/>
<path d="M66.3,376.71 L67.9,376.72 L69.4,376.74 L70.9,376.79 L72.4,376.85 L73.9,376.93 L75.4,377.02 L76.9,377.14 L78.4,377.27 L79.9,377.41 L81.4,377.57 L82.9,377.74 L84.4,377.93 L85.9,378.13 L87.4,378.34 L88.9,378.56 L90.4,378.80 L91.9,379.04 L93.4,379.30 L94.9,379.56 L96.4,379.83 L97.9,380.11 L99.4,380.40 L100.9,380.69 L102.4,380.99 L103.9,381.31 L105.5,381.62 L107.0,381.95 L108.5,382.28 L110.0,382.62 L111.5,382.97 L113.0,383.32 L114.5,383.69 L116.0,384.07 L117.5,384.45 L119.0,384.84 L120.5,385.24 L122.0,385.63 L123.5,386.03 L125.0,386.42 L126.5,386.82 L128.0,387.22 L129.5,387.63 L131.0,388.05 L132.5,388.47 L134.0,388.88 L135.5,389.29 L137.0,389.67 L138.5,390.04 L140.0,390.39 L141.5,390.71 L143.1,391.03 L144.6,391.33 L146.1,391.62 L147.6,391.91 L149.1,392.18 L150.6,392.43 L152.1,392.67 L153.6,392.90 L155.1,393.11 L156.6,393.31 L158.1,393.49 L159.6,393.65 L161.1,393.80 L162.6,393.94 L164.1,394.06 L165.6,394.17 L167.1,394.26 L168.6,394.34 L170.1,394.40 L171.6,394.46 L173.1,394.50 L174.6,394.53 L176.1,394.56 L177.6,394.57 L179.1,394.58 L180.7,394.58 L182.2,394.57 L183.7,394.55 L185.2,394.52 L186.7,394.48 L188.2,394.44 L189.7,394.39 L191.2,394.34 L192.7,394.28 L194.2,394.21 L195.7,394.13 L197.2,394.05 L198.7,393.96 L200.2,393.86 L201.7,393.75 L203.2,393.64 L204.7,393.52 L206.2,393.40 L207.7,393.28 L209.2,393.15 L210.7,393.01 L212.2,392.88 L213.7,392.74 L215.2,392.60 L216.7,392.46 L218.3,392.31 L219.8,392.17 L221.3,392.03 L222.8,391.89 L224.3,391.75 L225.8,391.61 L227.3,391.48 L228.8,391.35 L230.3,391.22 L231.8,391.10 L233.3,390.98 L234.8,390.86 L236.3,390.74 L237.8,390.63 L239.3,390.52 L240.8,390.41 L242.3,390.31 L243.8,390.21 L245.3,390.11 L246.8,390.02 L248.3,389.93 L249.8,389.85 L251.3,389.76 L252.8,389.68 L254.3,389.61 L255.9,389.54 L257.4,389.47 L258.9,389.40 L260.4,389.34 L261.9,389.28 L263.4,389.22 L264.9,389.17 L266.4,389.12 L267.9,389.07 L269.4,389.02 L270.9,388.98 L272.4,388.94 L273.9,388.90 L275.4,388.86 L276.9,388.83 L278.4,388.79 L279.9,388.76 L281.4,388.74 L282.9,388.71 L284.4,388.68 L285.9,388.66 L287.4,388.64 L288.9,388.62 L290.4,388.60 L291.9,388.59 L293.5,388.57 L295.0,388.56 L296.5,388.55 L298.0,388.54 L299.5,388.53 L301.0,388.52 L302.5,388.51 L304.0,388.51 L305.5,388.50 L307.0,388.50 L308.5,388.49 L310.0,388.49 L311.5,388.49 L313.0,388.48 L314.5,388.48 L316.0,388.48 L317.5,388.48 L319.0,388.48 L320.5,388.48 L322.0,388.48 L323.5,388.48 L325.0,388.48 L326.5,388.48 L328.0,388.48 L329.5,388.48 L331.1,388.48 L332.6,388.48 L334.1,388.48 L335.6,388.47 L337.1,388.47 L338.6,388.47 L340.1,388.46 L341.6,388.46 L343.1,388.45 L344.6,388.45 L346.1,388.44 L347.6,388.43 L349.1,388.42" stroke="rgb(0,148,220)" stroke-width="3.3" fill="none" stroke-opacity="0.88" stroke-dasharray="12.2 5.3"/>
<path d="M66.3,414.58 L67.9,414.62 L69.4,414.63 L70.9,414.59 L72.4,414.51 L73.9,414.39 L75.4,414.23 L76.9,414.03 L78.4,413.81 L79.9,413.54 L81.4,413.25 L82.9,412.93 L84.4,412.58 L85.9,412.20 L87.4,411.80 L88.9,411.37 L90.4,410.93 L91.9,410.45 L93.4,409.96 L94.9,409.44 L96.4,408.90 L97.9,408.34 L99.4,407.77 L100.9,407.19 L102.4,406.60 L103.9,405.99 L105.5,405.39 L107.0,404.77 L108.5,404.16 L110.0,403.54 L111.5,402.93 L113.0,402.32 L114.5,401.71 L116.0,401.11 L117.5,400.51 L119.0,399.92 L120.5,399.33 L122.0,398.74 L123.5,398.15 L125.0,397.56 L126.5,396.97 L128.0,396.37 L129.5,395.76 L131.0,395.13 L132.5,394.51 L134.0,393.89 L135.5,393.29 L137.0,392.71 L138.5,392.15 L140.0,391.62 L141.5,391.12 L143.1,390.63 L144.6,390.16 L146.1,389.69 L147.6,389.25 L149.1,388.82 L150.6,388.41 L152.1,388.02 L153.6,387.65 L155.1,387.29 L156.6,386.96 L158.1,386.65 L159.6,386.36 L161.1,386.08 L162.6,385.83 L164.1,385.60 L165.6,385.39 L167.1,385.20 L168.6,385.04 L170.1,384.89 L171.6,384.76 L173.1,384.64 L174.6,384.53 L176.1,384.44 L177.6,384.35 L179.1,384.28 L180.7,384.22 L182.2,384.17 L183.7,384.13 L185.2,384.09 L186.7,384.07 L188.2,384.06 L189.7,384.05 L191.2,384.06 L192.7,384.07 L194.2,384.09 L195.7,384.11 L197.2,384.14 L198.7,384.18 L200.2,384.23 L201.7,384.27 L203.2,384.33 L204.7,384.39 L206.2,384.45 L207.7,384.52 L209.2,384.59 L210.7,384.67 L212.2,384.75 L213.7,384.83 L215.2,384.91 L216.7,385.00 L218.3,385.08 L219.8,385.17 L221.3,385.26 L222.8,385.35 L224.3,385.44 L225.8,385.53 L227.3,385.62 L228.8,385.70 L230.3,385.79 L231.8,385.87 L233.3,385.95 L234.8,386.03 L236.3,386.11 L237.8,386.18 L239.3,386.25 L240.8,386.32 L242.3,386.38 L243.8,386.44 L245.3,386.49 L246.8,386.54 L248.3,386.58 L249.8,386.62 L251.3,386.66 L252.8,386.69 L254.3,386.72 L255.9,386.75 L257.4,386.77 L258.9,386.79 L260.4,386.81 L261.9,386.82 L263.4,386.84 L264.9,386.84 L266.4,386.85 L267.9,386.85 L269.4,386.85 L270.9,386.85 L272.4,386.85 L273.9,386.84 L275.4,386.84 L276.9,386.83 L278.4,386.82 L279.9,386.81 L281.4,386.79 L282.9,386.78 L284.4,386.76 L285.9,386.74 L287.4,386.72 L288.9,386.70 L290.4,386.68 L291.9,386.66 L293.5,386.64 L295.0,386.62 L296.5,386.60 L298.0,386.58 L299.5,386.55 L301.0,386.53 L302.5,386.51 L304.0,386.49 L305.5,386.47 L307.0,386.44 L308.5,386.42 L310.0,386.40 L311.5,386.39 L313.0,386.37 L314.5,386.35 L316.0,386.33 L317.5,386.32 L319.0,386.31 L320.5,386.29 L322.0,386.28 L323.5,386.28 L325.0,386.27 L326.5,386.27 L328.0,386.26 L329.5,386.26 L331.1,386.26 L332.6,386.27 L334.1,386.28 L335.6,386.29 L337.1,386.30 L338.6,386.31 L340.1,386.33 L341.6,386.35 L343.1,386.38 L344.6,386.41 L346.1,386.44 L347.6,386.47 L349.1,386.51" stroke="rgb(0,148,220)" stroke-width="3.3" fill="none" stroke-opacity="0.88" stroke-dasharray="12.2 5.3"/>
<path d="M66.3,444.22 L67.9,444.30 L69.4,444.39 L70.9,444.50 L72.4,444.61 L73.9,444.74 L75.4,444.88 L76.9,445.02 L78.4,445.18 L79.9,445.34 L81.4,445.51 L82.9,445.69 L84.4,445.88 L85.9,446.08 L87.4,446.28 L88.9,446.49 L90.4,446.70 L91.9,446.92 L93.4,447.14 L94.9,447.37 L96.4,447.61 L97.9,447.85 L99.4,448.09 L100.9,448.33 L102.4,448.58 L103.9,448.83 L105.5,449.09 L107.0,449.34 L108.5,449.60 L110.0,449.85 L111.5,450.11 L113.0,450.37 L114.5,450.62 L116.0,450.88 L117.5,451.13 L119.0,451.38 L120.5,451.64 L122.0,451.89 L123.5,452.14 L125.0,452.39 L126.5,452.63 L128.0,452.88 L129.5,453.12 L131.0,453.36 L132.5,453.60 L134.0,453.84 L135.5,454.07 L137.0,454.30 L138.5,454.52 L140.0,454.74 L141.5,454.95 L143.1,455.16 L144.6,455.36 L146.1,455.56 L147.6,455.75 L149.1,455.93 L150.6,456.11 L152.1,456.27 L153.6,456.43 L155.1,456.58 L156.6,456.73 L158.1,456.86 L159.6,456.98 L161.1,457.10 L162.6,457.21 L164.1,457.31 L165.6,457.40 L167.1,457.49 L168.6,457.57 L170.1,457.65 L171.6,457.72 L173.1,457.78 L174.6,457.84 L176.1,457.89 L177.6,457.93 L179.1,457.98 L180.7,458.01 L182.2,458.04 L183.7,458.07 L185.2,458.09 L186.7,458.11 L188.2,458.12 L189.7,458.13 L191.2,458.14 L192.7,458.14 L194.2,458.14 L195.7,458.13 L197.2,458.12 L198.7,458.11 L200.2,458.09 L201.7,458.07 L203.2,458.05 L204.7,458.03 L206.2,458.00 L207.7,457.97 L209.2,457.94 L210.7,457.91 L212.2,457.87 L213.7,457.84 L215.2,457.80 L216.7,457.76 L218.3,457.72 L219.8,457.68 L221.3,457.64 L222.8,457.59 L224.3,457.55 L225.8,457.51 L227.3,457.46 L228.8,457.42 L230.3,457.37 L231.8,457.33 L233.3,457.28 L234.8,457.24 L236.3,457.20 L237.8,457.16 L239.3,457.11 L240.8,457.07 L242.3,457.03 L243.8,456.99 L245.3,456.96 L246.8,456.92 L248.3,456.88 L249.8,456.84 L251.3,456.81 L252.8,456.77 L254.3,456.74 L255.9,456.70 L257.4,456.67 L258.9,456.63 L260.4,456.60 L261.9,456.57 L263.4,456.54 L264.9,456.50 L266.4,456.47 L267.9,456.44 L269.4,456.41 L270.9,456.38 L272.4,456.35 L273.9,456.32 L275.4,456.30 L276.9,456.27 L278.4,456.24 L279.9,456.21 L281.4,456.18 L282.9,456.16 L284.4,456.13 L285.9,456.11 L287.4,456.08 L288.9,456.05 L290.4,456.03 L291.9,456.00 L293.5,455.98 L295.0,455.95 L296.5,455.93 L298.0,455.90 L299.5,455.88 L301.0,455.86 L302.5,455.83 L304.0,455.81 L305.5,455.79 L307.0,455.76 L308.5,455.74 L310.0,455.72 L311.5,455.69 L313.0,455.67 L314.5,455.65 L316.0,455.63 L317.5,455.60 L319.0,455.58 L320.5,455.56 L322.0,455.54 L323.5,455.52 L325.0,455.49 L326.5,455.47 L328.0,455.45 L329.5,455.43 L331.1,455.40 L332.6,455.38 L334.1,455.36 L335.6,455.34 L337.1,455.31 L338.6,455.29 L340.1,455.27 L341.6,455.24 L343.1,455.22 L344.6,455.20 L346.1,455.17 L347.6,455.15 L349.1,455.13" stroke="rgb(0,148,220)" stroke-width="3.3" fill="none" stroke-opacity="0.88" stroke-dasharray="12.2 5.3"/>
<path d="M66.3,477.96 L67.9,478.00 L69.4,478.02 L70.9,478.03 L72.4,478.03 L73.9,478.01 L75.4,477.98 L76.9,477.94 L78.4,477.88 L79.9,477.81 L81.4,477.72 L82.9,477.62 L84.4,477.51 L85.9,477.38 L87.4,477.24 L88.9,477.09 L90.4,476.92 L91.9,476.74 L93.4,476.56 L94.9,476.36 L96.4,476.15 L97.9,475.93 L99.4,475.69 L100.9,475.45 L102.4,475.20 L103.9,474.94 L105.5,474.68 L107.0,474.40 L108.5,474.11 L110.0,473.82 L111.5,473.51 L113.0,473.20 L114.5,472.88 L116.0,472.56 L117.5,472.23 L119.0,471.88 L120.5,471.54 L122.0,471.18 L123.5,470.80 L125.0,470.42 L126.5,470.02 L128.0,469.61 L129.5,469.20 L131.0,468.78 L132.5,468.35 L134.0,467.92 L135.5,467.49 L137.0,467.07 L138.5,466.65 L140.0,466.24 L141.5,465.82 L143.1,465.40 L144.6,464.98 L146.1,464.56 L147.6,464.14 L149.1,463.72 L150.6,463.32 L152.1,462.92 L153.6,462.54 L155.1,462.16 L156.6,461.80 L158.1,461.46 L159.6,461.13 L161.1,460.82 L162.6,460.52 L164.1,460.25 L165.6,459.99 L167.1,459.73 L168.6,459.48 L170.1,459.22 L171.6,458.97 L173.1,458.71 L174.6,458.45 L176.1,458.19 L177.6,457.92 L179.1,457.67 L180.7,457.41 L182.2,457.15 L183.7,456.90 L185.2,456.65 L186.7,456.41 L188.2,456.18 L189.7,455.95 L191.2,455.72 L192.7,455.51 L194.2,455.31 L195.7,455.12 L197.2,454.94 L198.7,454.77 L200.2,454.61 L201.7,454.46 L203.2,454.32 L204.7,454.19 L206.2,454.07 L207.7,453.95 L209.2,453.84 L210.7,453.74 L212.2,453.65 L213.7,453.56 L215.2,453.48 L216.7,453.40 L218.3,453.33 L219.8,453.27 L221.3,453.21 L222.8,453.15 L224.3,453.10 L225.8,453.05 L227.3,453.01 L228.8,452.97 L230.3,452.94 L231.8,452.91 L233.3,452.88 L234.8,452.85 L236.3,452.83 L237.8,452.80 L239.3,452.78 L240.8,452.77 L242.3,452.75 L243.8,452.74 L245.3,452.73 L246.8,452.72 L248.3,452.71 L249.8,452.70 L251.3,452.70 L252.8,452.70 L254.3,452.70 L255.9,452.70 L257.4,452.70 L258.9,452.71 L260.4,452.71 L261.9,452.72 L263.4,452.73 L264.9,452.74 L266.4,452.75 L267.9,452.76 L269.4,452.78 L270.9,452.79 L272.4,452.81 L273.9,452.83 L275.4,452.84 L276.9,452.86 L278.4,452.88 L279.9,452.90 L281.4,452.93 L282.9,452.95 L284.4,452.97 L285.9,452.99 L287.4,453.02 L288.9,453.04 L290.4,453.07 L291.9,453.10 L293.5,453.12 L295.0,453.15 L296.5,453.17 L298.0,453.20 L299.5,453.23 L301.0,453.26 L302.5,453.28 L304.0,453.31 L305.5,453.34 L307.0,453.37 L308.5,453.39 L310.0,453.42 L311.5,453.45 L313.0,453.47 L314.5,453.50 L316.0,453.53 L317.5,453.55 L319.0,453.58 L320.5,453.60 L322.0,453.62 L323.5,453.65 L325.0,453.67 L326.5,453.69 L328.0,453.71 L329.5,453.73 L331.1,453.75 L332.6,453.77 L334.1,453.79 L335.6,453.80 L337.1,453.82 L338.6,453.83 L340.1,453.85 L341.6,453.86 L343.1,453.87 L344.6,453.88 L346.1,453.89 L347.6,453.89 L349.1,453.90" stroke="rgb(0,148,220)" stroke-width="3.3" fill="none" stroke-opacity="0.88" stroke-dasharray="12.2 5.3"/>
</g>
<g clip-path="url(#clipd)">
<line x1="392.35" y1="323.30" x2="675.10" y2="323.30" stroke="#cfcfcf" stroke-width="2.8" stroke-dasharray="2.8 4.65" stroke-dashoffset="-0.75"/>
<line x1="392.35" y1="387.50" x2="675.10" y2="387.50" stroke="#cfcfcf" stroke-width="2.8" stroke-dasharray="2.8 4.65" stroke-dashoffset="-0.75"/>
<line x1="392.35" y1="453.90" x2="675.10" y2="453.90" stroke="#cfcfcf" stroke-width="2.8" stroke-dasharray="2.8 4.65" stroke-dashoffset="-0.75"/>
<path d="M392.4,321.41 L393.9,321.34 L395.4,321.28 L396.9,321.22 L398.4,321.15 L399.9,321.09 L401.4,321.03 L402.9,320.98 L404.4,320.92 L405.9,320.86 L407.4,320.81 L408.9,320.76 L410.4,320.70 L411.9,320.66 L413.4,320.61 L414.9,320.56 L416.4,320.52 L417.9,320.48 L419.4,320.44 L420.9,320.41 L422.4,320.37 L423.9,320.34 L425.4,320.31 L426.9,320.29 L428.4,320.26 L429.9,320.24 L431.5,320.23 L433.0,320.21 L434.5,320.20 L436.0,320.20 L437.5,320.19 L439.0,320.20 L440.5,320.20 L442.0,320.21 L443.5,320.22 L445.0,320.23 L446.5,320.25 L448.0,320.28 L449.5,320.31 L451.0,320.34 L452.5,320.37 L454.0,320.42 L455.5,320.46 L457.0,320.51 L458.5,320.57 L460.0,320.63 L461.5,320.70 L463.0,320.77 L464.5,320.84 L466.0,320.92 L467.5,321.01 L469.1,321.10 L470.6,321.20 L472.1,321.30 L473.6,321.41 L475.1,321.53 L476.6,321.65 L478.1,321.77 L479.6,321.90 L481.1,322.03 L482.6,322.16 L484.1,322.30 L485.6,322.44 L487.1,322.58 L488.6,322.73 L490.1,322.87 L491.6,323.02 L493.1,323.17 L494.6,323.32 L496.1,323.46 L497.6,323.61 L499.1,323.76 L500.6,323.91 L502.1,324.05 L503.6,324.19 L505.1,324.33 L506.7,324.47 L508.2,324.61 L509.7,324.74 L511.2,324.87 L512.7,324.99 L514.2,325.11 L515.7,325.23 L517.2,325.34 L518.7,325.45 L520.2,325.55 L521.7,325.64 L523.2,325.73 L524.7,325.81 L526.2,325.89 L527.7,325.96 L529.2,326.03 L530.7,326.09 L532.2,326.15 L533.7,326.21 L535.2,326.25 L536.7,326.30 L538.2,326.34 L539.7,326.37 L541.2,326.40 L542.7,326.43 L544.3,326.45 L545.8,326.47 L547.3,326.49 L548.8,326.50 L550.3,326.50 L551.8,326.51 L553.3,326.51 L554.8,326.50 L556.3,326.49 L557.8,326.48 L559.3,326.47 L560.8,326.45 L562.3,326.43 L563.8,326.41 L565.3,326.38 L566.8,326.35 L568.3,326.32 L569.8,326.28 L571.3,326.24 L572.8,326.20 L574.3,326.16 L575.8,326.12 L577.3,326.07 L578.8,326.02 L580.3,325.97 L581.9,325.91 L583.4,325.86 L584.9,325.80 L586.4,325.74 L587.9,325.68 L589.4,325.62 L590.9,325.56 L592.4,325.49 L593.9,325.43 L595.4,325.36 L596.9,325.29 L598.4,325.22 L599.9,325.15 L601.4,325.08 L602.9,325.00 L604.4,324.93 L605.9,324.86 L607.4,324.78 L608.9,324.71 L610.4,324.63 L611.9,324.56 L613.4,324.48 L614.9,324.41 L616.4,324.33 L617.9,324.26 L619.5,324.18 L621.0,324.11 L622.5,324.03 L624.0,323.96 L625.5,323.88 L627.0,323.81 L628.5,323.74 L630.0,323.67 L631.5,323.60 L633.0,323.53 L634.5,323.46 L636.0,323.39 L637.5,323.32 L639.0,323.26 L640.5,323.20 L642.0,323.13 L643.5,323.07 L645.0,323.01 L646.5,322.96 L648.0,322.90 L649.5,322.85 L651.0,322.80 L652.5,322.75 L654.0,322.70 L655.5,322.66 L657.1,322.61 L658.6,322.57 L660.1,322.54 L661.6,322.50 L663.1,322.47 L664.6,322.44 L666.1,322.41 L667.6,322.39 L669.1,322.37 L670.6,322.35 L672.1,322.34 L673.6,322.33 L675.1,322.32" stroke="#b96ec4" stroke-width="3.3" fill="none" />
<path d="M392.4,322.34 L393.9,322.30 L395.4,322.29 L396.9,322.29 L398.4,322.31 L399.9,322.35 L401.4,322.40 L402.9,322.47 L404.4,322.56 L405.9,322.66 L407.4,322.77 L408.9,322.90 L410.4,323.04 L411.9,323.19 L413.4,323.36 L414.9,323.53 L416.4,323.71 L417.9,323.90 L419.4,324.10 L420.9,324.30 L422.4,324.52 L423.9,324.73 L425.4,324.95 L426.9,325.18 L428.4,325.41 L429.9,325.64 L431.5,325.88 L433.0,326.11 L434.5,326.35 L436.0,326.59 L437.5,326.82 L439.0,327.06 L440.5,327.29 L442.0,327.52 L443.5,327.74 L445.0,327.96 L446.5,328.17 L448.0,328.38 L449.5,328.58 L451.0,328.77 L452.5,328.96 L454.0,329.14 L455.5,329.31 L457.0,329.46 L458.5,329.61 L460.0,329.75 L461.5,329.87 L463.0,329.98 L464.5,330.08 L466.0,330.17 L467.5,330.24 L469.1,330.30 L470.6,330.34 L472.1,330.37 L473.6,330.38 L475.1,330.37 L476.6,330.35 L478.1,330.31 L479.6,330.26 L481.1,330.20 L482.6,330.12 L484.1,330.02 L485.6,329.92 L487.1,329.80 L488.6,329.66 L490.1,329.52 L491.6,329.36 L493.1,329.19 L494.6,329.01 L496.1,328.82 L497.6,328.61 L499.1,328.40 L500.6,328.18 L502.1,327.95 L503.6,327.71 L505.1,327.46 L506.7,327.21 L508.2,326.95 L509.7,326.69 L511.2,326.43 L512.7,326.17 L514.2,325.90 L515.7,325.63 L517.2,325.37 L518.7,325.10 L520.2,324.84 L521.7,324.58 L523.2,324.32 L524.7,324.07 L526.2,323.82 L527.7,323.58 L529.2,323.35 L530.7,323.12 L532.2,322.91 L533.7,322.70 L535.2,322.50 L536.7,322.31 L538.2,322.13 L539.7,321.96 L541.2,321.79 L542.7,321.64 L544.3,321.49 L545.8,321.35 L547.3,321.22 L548.8,321.09 L550.3,320.97 L551.8,320.86 L553.3,320.76 L554.8,320.66 L556.3,320.57 L557.8,320.49 L559.3,320.41 L560.8,320.34 L562.3,320.28 L563.8,320.22 L565.3,320.17 L566.8,320.12 L568.3,320.08 L569.8,320.05 L571.3,320.01 L572.8,319.99 L574.3,319.97 L575.8,319.95 L577.3,319.94 L578.8,319.93 L580.3,319.93 L581.9,319.93 L583.4,319.94 L584.9,319.95 L586.4,319.96 L587.9,319.98 L589.4,320.00 L590.9,320.02 L592.4,320.05 L593.9,320.08 L595.4,320.11 L596.9,320.14 L598.4,320.18 L599.9,320.22 L601.4,320.26 L602.9,320.31 L604.4,320.35 L605.9,320.40 L607.4,320.45 L608.9,320.50 L610.4,320.55 L611.9,320.61 L613.4,320.66 L614.9,320.72 L616.4,320.77 L617.9,320.83 L619.5,320.89 L621.0,320.94 L622.5,321.00 L624.0,321.06 L625.5,321.12 L627.0,321.18 L628.5,321.23 L630.0,321.29 L631.5,321.35 L633.0,321.40 L634.5,321.46 L636.0,321.51 L637.5,321.56 L639.0,321.61 L640.5,321.66 L642.0,321.71 L643.5,321.75 L645.0,321.80 L646.5,321.84 L648.0,321.88 L649.5,321.91 L651.0,321.95 L652.5,321.98 L654.0,322.01 L655.5,322.03 L657.1,322.06 L658.6,322.08 L660.1,322.09 L661.6,322.10 L663.1,322.11 L664.6,322.12 L666.1,322.12 L667.6,322.11 L669.1,322.11 L670.6,322.09 L672.1,322.08 L673.6,322.05 L675.1,322.03" stroke="#b96ec4" stroke-width="3.3" fill="none" />
<path d="M392.4,378.21 L393.9,378.19 L395.4,378.20 L396.9,378.22 L398.4,378.26 L399.9,378.32 L401.4,378.40 L402.9,378.49 L404.4,378.60 L405.9,378.73 L407.4,378.87 L408.9,379.02 L410.4,379.19 L411.9,379.37 L413.4,379.57 L414.9,379.77 L416.4,379.99 L417.9,380.22 L419.4,380.46 L420.9,380.71 L422.4,380.97 L423.9,381.24 L425.4,381.51 L426.9,381.80 L428.4,382.09 L429.9,382.38 L431.5,382.68 L433.0,382.99 L434.5,383.30 L436.0,383.62 L437.5,383.94 L439.0,384.26 L440.5,384.58 L442.0,384.91 L443.5,385.24 L445.0,385.56 L446.5,385.89 L448.0,386.22 L449.5,386.54 L451.0,386.87 L452.5,387.19 L454.0,387.51 L455.5,387.82 L457.0,388.14 L458.5,388.44 L460.0,388.74 L461.5,389.04 L463.0,389.33 L464.5,389.61 L466.0,389.88 L467.5,390.15 L469.1,390.41 L470.6,390.66 L472.1,390.89 L473.6,391.12 L475.1,391.34 L476.6,391.54 L478.1,391.74 L479.6,391.92 L481.1,392.08 L482.6,392.24 L484.1,392.38 L485.6,392.51 L487.1,392.63 L488.6,392.73 L490.1,392.83 L491.6,392.91 L493.1,392.99 L494.6,393.05 L496.1,393.10 L497.6,393.15 L499.1,393.18 L500.6,393.20 L502.1,393.22 L503.6,393.23 L505.1,393.22 L506.7,393.21 L508.2,393.20 L509.7,393.17 L511.2,393.14 L512.7,393.10 L514.2,393.05 L515.7,393.00 L517.2,392.94 L518.7,392.88 L520.2,392.81 L521.7,392.73 L523.2,392.65 L524.7,392.57 L526.2,392.48 L527.7,392.38 L529.2,392.29 L530.7,392.19 L532.2,392.08 L533.7,391.98 L535.2,391.87 L536.7,391.76 L538.2,391.64 L539.7,391.53 L541.2,391.41 L542.7,391.29 L544.3,391.17 L545.8,391.05 L547.3,390.93 L548.8,390.82 L550.3,390.70 L551.8,390.58 L553.3,390.46 L554.8,390.34 L556.3,390.23 L557.8,390.11 L559.3,390.00 L560.8,389.89 L562.3,389.78 L563.8,389.68 L565.3,389.58 L566.8,389.48 L568.3,389.39 L569.8,389.30 L571.3,389.21 L572.8,389.13 L574.3,389.05 L575.8,388.97 L577.3,388.90 L578.8,388.83 L580.3,388.77 L581.9,388.70 L583.4,388.64 L584.9,388.59 L586.4,388.53 L587.9,388.48 L589.4,388.43 L590.9,388.39 L592.4,388.35 L593.9,388.31 L595.4,388.27 L596.9,388.23 L598.4,388.20 L599.9,388.17 L601.4,388.14 L602.9,388.11 L604.4,388.09 L605.9,388.07 L607.4,388.05 L608.9,388.03 L610.4,388.01 L611.9,387.99 L613.4,387.98 L614.9,387.97 L616.4,387.96 L617.9,387.95 L619.5,387.94 L621.0,387.93 L622.5,387.93 L624.0,387.92 L625.5,387.92 L627.0,387.92 L628.5,387.92 L630.0,387.92 L631.5,387.92 L633.0,387.92 L634.5,387.92 L636.0,387.92 L637.5,387.92 L639.0,387.93 L640.5,387.93 L642.0,387.93 L643.5,387.94 L645.0,387.94 L646.5,387.94 L648.0,387.95 L649.5,387.95 L651.0,387.95 L652.5,387.96 L654.0,387.96 L655.5,387.96 L657.1,387.96 L658.6,387.96 L660.1,387.96 L661.6,387.96 L663.1,387.96 L664.6,387.96 L666.1,387.96 L667.6,387.96 L669.1,387.95 L670.6,387.95 L672.1,387.94 L673.6,387.93 L675.1,387.92" stroke="#b96ec4" stroke-width="3.3" fill="none" />
<path d="M392.4,411.28 L393.9,411.33 L395.4,411.34 L396.9,411.31 L398.4,411.25 L399.9,411.14 L401.4,411.00 L402.9,410.82 L404.4,410.62 L405.9,410.38 L407.4,410.11 L408.9,409.81 L410.4,409.48 L411.9,409.13 L413.4,408.75 L414.9,408.35 L416.4,407.93 L417.9,407.49 L419.4,407.03 L420.9,406.55 L422.4,406.06 L423.9,405.55 L425.4,405.03 L426.9,404.50 L428.4,403.96 L429.9,403.41 L431.5,402.85 L433.0,402.28 L434.5,401.71 L436.0,401.14 L437.5,400.57 L439.0,399.99 L440.5,399.42 L442.0,398.85 L443.5,398.28 L445.0,397.72 L446.5,397.16 L448.0,396.61 L449.5,396.06 L451.0,395.53 L452.5,394.99 L454.0,394.47 L455.5,393.96 L457.0,393.45 L458.5,392.95 L460.0,392.46 L461.5,391.99 L463.0,391.52 L464.5,391.07 L466.0,390.62 L467.5,390.19 L469.1,389.78 L470.6,389.37 L472.1,388.98 L473.6,388.61 L475.1,388.25 L476.6,387.91 L478.1,387.58 L479.6,387.27 L481.1,386.97 L482.6,386.70 L484.1,386.44 L485.6,386.19 L487.1,385.96 L488.6,385.75 L490.1,385.55 L491.6,385.36 L493.1,385.19 L494.6,385.03 L496.1,384.89 L497.6,384.76 L499.1,384.64 L500.6,384.53 L502.1,384.44 L503.6,384.35 L505.1,384.28 L506.7,384.22 L508.2,384.17 L509.7,384.13 L511.2,384.09 L512.7,384.07 L514.2,384.06 L515.7,384.05 L517.2,384.06 L518.7,384.07 L520.2,384.09 L521.7,384.11 L523.2,384.14 L524.7,384.18 L526.2,384.23 L527.7,384.27 L529.2,384.33 L530.7,384.39 L532.2,384.45 L533.7,384.52 L535.2,384.59 L536.7,384.67 L538.2,384.75 L539.7,384.83 L541.2,384.91 L542.7,385.00 L544.3,385.08 L545.8,385.17 L547.3,385.26 L548.8,385.35 L550.3,385.44 L551.8,385.53 L553.3,385.62 L554.8,385.70 L556.3,385.79 L557.8,385.87 L559.3,385.95 L560.8,386.03 L562.3,386.11 L563.8,386.18 L565.3,386.25 L566.8,386.32 L568.3,386.38 L569.8,386.44 L571.3,386.49 L572.8,386.54 L574.3,386.58 L575.8,386.62 L577.3,386.66 L578.8,386.69 L580.3,386.72 L581.9,386.75 L583.4,386.77 L584.9,386.79 L586.4,386.81 L587.9,386.82 L589.4,386.84 L590.9,386.84 L592.4,386.85 L593.9,386.85 L595.4,386.85 L596.9,386.85 L598.4,386.85 L599.9,386.84 L601.4,386.84 L602.9,386.83 L604.4,386.82 L605.9,386.81 L607.4,386.79 L608.9,386.78 L610.4,386.76 L611.9,386.74 L613.4,386.72 L614.9,386.70 L616.4,386.68 L617.9,386.66 L619.5,386.64 L621.0,386.62 L622.5,386.60 L624.0,386.58 L625.5,386.55 L627.0,386.53 L628.5,386.51 L630.0,386.49 L631.5,386.47 L633.0,386.44 L634.5,386.42 L636.0,386.40 L637.5,386.39 L639.0,386.37 L640.5,386.35 L642.0,386.33 L643.5,386.32 L645.0,386.31 L646.5,386.29 L648.0,386.28 L649.5,386.28 L651.0,386.27 L652.5,386.27 L654.0,386.26 L655.5,386.26 L657.1,386.26 L658.6,386.27 L660.1,386.28 L661.6,386.29 L663.1,386.30 L664.6,386.31 L666.1,386.33 L667.6,386.35 L669.1,386.38 L670.6,386.41 L672.1,386.44 L673.6,386.47 L675.1,386.51" stroke="#b96ec4" stroke-width="3.3" fill="none" />
<path d="M392.4,446.01 L393.9,446.05 L395.4,446.10 L396.9,446.17 L398.4,446.24 L399.9,446.33 L401.4,446.43 L402.9,446.54 L404.4,446.65 L405.9,446.78 L407.4,446.92 L408.9,447.06 L410.4,447.21 L411.9,447.37 L413.4,447.54 L414.9,447.71 L416.4,447.89 L417.9,448.08 L419.4,448.27 L420.9,448.47 L422.4,448.67 L423.9,448.87 L425.4,449.08 L426.9,449.30 L428.4,449.52 L429.9,449.74 L431.5,449.96 L433.0,450.18 L434.5,450.41 L436.0,450.63 L437.5,450.86 L439.0,451.09 L440.5,451.32 L442.0,451.55 L443.5,451.78 L445.0,452.00 L446.5,452.23 L448.0,452.45 L449.5,452.67 L451.0,452.89 L452.5,453.11 L454.0,453.33 L455.5,453.54 L457.0,453.75 L458.5,453.96 L460.0,454.17 L461.5,454.37 L463.0,454.57 L464.5,454.76 L466.0,454.95 L467.5,455.14 L469.1,455.32 L470.6,455.50 L472.1,455.67 L473.6,455.84 L475.1,456.00 L476.6,456.16 L478.1,456.31 L479.6,456.46 L481.1,456.60 L482.6,456.73 L484.1,456.86 L485.6,456.98 L487.1,457.10 L488.6,457.21 L490.1,457.31 L491.6,457.40 L493.1,457.49 L494.6,457.57 L496.1,457.65 L497.6,457.72 L499.1,457.78 L500.6,457.84 L502.1,457.89 L503.6,457.93 L505.1,457.98 L506.7,458.01 L508.2,458.04 L509.7,458.07 L511.2,458.09 L512.7,458.11 L514.2,458.12 L515.7,458.13 L517.2,458.14 L518.7,458.14 L520.2,458.14 L521.7,458.13 L523.2,458.12 L524.7,458.11 L526.2,458.09 L527.7,458.07 L529.2,458.05 L530.7,458.03 L532.2,458.00 L533.7,457.97 L535.2,457.94 L536.7,457.91 L538.2,457.87 L539.7,457.84 L541.2,457.80 L542.7,457.76 L544.3,457.72 L545.8,457.68 L547.3,457.64 L548.8,457.59 L550.3,457.55 L551.8,457.51 L553.3,457.46 L554.8,457.42 L556.3,457.37 L557.8,457.33 L559.3,457.28 L560.8,457.24 L562.3,457.20 L563.8,457.16 L565.3,457.11 L566.8,457.07 L568.3,457.03 L569.8,456.99 L571.3,456.96 L572.8,456.92 L574.3,456.88 L575.8,456.84 L577.3,456.81 L578.8,456.77 L580.3,456.74 L581.9,456.70 L583.4,456.67 L584.9,456.63 L586.4,456.60 L587.9,456.57 L589.4,456.54 L590.9,456.50 L592.4,456.47 L593.9,456.44 L595.4,456.41 L596.9,456.38 L598.4,456.35 L599.9,456.32 L601.4,456.30 L602.9,456.27 L604.4,456.24 L605.9,456.21 L607.4,456.18 L608.9,456.16 L610.4,456.13 L611.9,456.11 L613.4,456.08 L614.9,456.05 L616.4,456.03 L617.9,456.00 L619.5,455.98 L621.0,455.95 L622.5,455.93 L624.0,455.90 L625.5,455.88 L627.0,455.86 L628.5,455.83 L630.0,455.81 L631.5,455.79 L633.0,455.76 L634.5,455.74 L636.0,455.72 L637.5,455.69 L639.0,455.67 L640.5,455.65 L642.0,455.63 L643.5,455.60 L645.0,455.58 L646.5,455.56 L648.0,455.54 L649.5,455.52 L651.0,455.49 L652.5,455.47 L654.0,455.45 L655.5,455.43 L657.1,455.40 L658.6,455.38 L660.1,455.36 L661.6,455.34 L663.1,455.31 L664.6,455.29 L666.1,455.27 L667.6,455.24 L669.1,455.22 L670.6,455.20 L672.1,455.17 L673.6,455.15 L675.1,455.13" stroke="#b96ec4" stroke-width="3.3" fill="none" />
<path d="M392.4,475.05 L393.9,475.06 L395.4,475.06 L396.9,475.04 L398.4,475.01 L399.9,474.96 L401.4,474.91 L402.9,474.84 L404.4,474.76 L405.9,474.67 L407.4,474.57 L408.9,474.45 L410.4,474.33 L411.9,474.19 L413.4,474.05 L414.9,473.89 L416.4,473.72 L417.9,473.55 L419.4,473.36 L420.9,473.16 L422.4,472.96 L423.9,472.74 L425.4,472.52 L426.9,472.28 L428.4,472.04 L429.9,471.79 L431.5,471.54 L433.0,471.27 L434.5,470.99 L436.0,470.71 L437.5,470.42 L439.0,470.13 L440.5,469.82 L442.0,469.51 L443.5,469.20 L445.0,468.87 L446.5,468.54 L448.0,468.21 L449.5,467.86 L451.0,467.52 L452.5,467.16 L454.0,466.81 L455.5,466.44 L457.0,466.08 L458.5,465.71 L460.0,465.35 L461.5,464.99 L463.0,464.63 L464.5,464.28 L466.0,463.94 L467.5,463.60 L469.1,463.28 L470.6,462.96 L472.1,462.66 L473.6,462.36 L475.1,462.08 L476.6,461.81 L478.1,461.55 L479.6,461.30 L481.1,461.06 L482.6,460.83 L484.1,460.60 L485.6,460.37 L487.1,460.15 L488.6,459.94 L490.1,459.72 L491.6,459.50 L493.1,459.29 L494.6,459.07 L496.1,458.85 L497.6,458.62 L499.1,458.39 L500.6,458.16 L502.1,457.93 L503.6,457.70 L505.1,457.47 L506.7,457.24 L508.2,457.01 L509.7,456.78 L511.2,456.55 L512.7,456.33 L514.2,456.11 L515.7,455.89 L517.2,455.69 L518.7,455.48 L520.2,455.29 L521.7,455.11 L523.2,454.93 L524.7,454.77 L526.2,454.61 L527.7,454.46 L529.2,454.32 L530.7,454.19 L532.2,454.07 L533.7,453.95 L535.2,453.84 L536.7,453.74 L538.2,453.65 L539.7,453.56 L541.2,453.48 L542.7,453.40 L544.3,453.33 L545.8,453.27 L547.3,453.21 L548.8,453.15 L550.3,453.10 L551.8,453.05 L553.3,453.01 L554.8,452.97 L556.3,452.94 L557.8,452.91 L559.3,452.88 L560.8,452.85 L562.3,452.83 L563.8,452.80 L565.3,452.78 L566.8,452.77 L568.3,452.75 L569.8,452.74 L571.3,452.73 L572.8,452.72 L574.3,452.71 L575.8,452.70 L577.3,452.70 L578.8,452.70 L580.3,452.70 L581.9,452.70 L583.4,452.70 L584.9,452.71 L586.4,452.71 L587.9,452.72 L589.4,452.73 L590.9,452.74 L592.4,452.75 L593.9,452.76 L595.4,452.78 L596.9,452.79 L598.4,452.81 L599.9,452.83 L601.4,452.84 L602.9,452.86 L604.4,452.88 L605.9,452.90 L607.4,452.93 L608.9,452.95 L610.4,452.97 L611.9,452.99 L613.4,453.02 L614.9,453.04 L616.4,453.07 L617.9,453.10 L619.5,453.12 L621.0,453.15 L622.5,453.17 L624.0,453.20 L625.5,453.23 L627.0,453.26 L628.5,453.28 L630.0,453.31 L631.5,453.34 L633.0,453.37 L634.5,453.39 L636.0,453.42 L637.5,453.45 L639.0,453.47 L640.5,453.50 L642.0,453.53 L643.5,453.55 L645.0,453.58 L646.5,453.60 L648.0,453.62 L649.5,453.65 L651.0,453.67 L652.5,453.69 L654.0,453.71 L655.5,453.73 L657.1,453.75 L658.6,453.77 L660.1,453.79 L661.6,453.80 L663.1,453.82 L664.6,453.83 L666.1,453.85 L667.6,453.86 L669.1,453.87 L670.6,453.88 L672.1,453.89 L673.6,453.89 L675.1,453.90" stroke="#b96ec4" stroke-width="3.3" fill="none" />
<path d="M392.4,323.91 L393.9,323.84 L395.4,323.78 L396.9,323.72 L398.4,323.65 L399.9,323.59 L401.4,323.53 L402.9,323.48 L404.4,323.42 L405.9,323.36 L407.4,323.31 L408.9,323.26 L410.4,323.20 L411.9,323.16 L413.4,323.11 L414.9,323.06 L416.4,323.02 L417.9,322.98 L419.4,322.94 L420.9,322.91 L422.4,322.87 L423.9,322.84 L425.4,322.81 L426.9,322.79 L428.4,322.76 L429.9,322.74 L431.5,322.73 L433.0,322.71 L434.5,322.70 L436.0,322.70 L437.5,322.69 L439.0,322.70 L440.5,322.70 L442.0,322.71 L443.5,322.72 L445.0,322.73 L446.5,322.75 L448.0,322.78 L449.5,322.81 L451.0,322.84 L452.5,322.87 L454.0,322.92 L455.5,322.96 L457.0,323.01 L458.5,323.07 L460.0,323.13 L461.5,323.20 L463.0,323.27 L464.5,323.34 L466.0,323.42 L467.5,323.51 L469.1,323.60 L470.6,323.70 L472.1,323.80 L473.6,323.91 L475.1,324.03 L476.6,324.15 L478.1,324.27 L479.6,324.40 L481.1,324.53 L482.6,324.66 L484.1,324.80 L485.6,324.94 L487.1,325.08 L488.6,325.23 L490.1,325.37 L491.6,325.52 L493.1,325.68 L494.6,325.84 L496.1,326.01 L497.6,326.18 L499.1,326.35 L500.6,326.53 L502.1,326.70 L503.6,326.88 L505.1,327.05 L506.7,327.23 L508.2,327.40 L509.7,327.57 L511.2,327.73 L512.7,327.89 L514.2,328.04 L515.7,328.19 L517.2,328.33 L518.7,328.46 L520.2,328.58 L521.7,328.70 L523.2,328.82 L524.7,328.93 L526.2,329.03 L527.7,329.13 L529.2,329.23 L530.7,329.32 L532.2,329.40 L533.7,329.48 L535.2,329.55 L536.7,329.62 L538.2,329.68 L539.7,329.73 L541.2,329.78 L542.7,329.82 L544.3,329.85 L545.8,329.88 L547.3,329.90 L548.8,329.91 L550.3,329.93 L551.8,329.94 L553.3,329.94 L554.8,329.94 L556.3,329.94 L557.8,329.94 L559.3,329.93 L560.8,329.91 L562.3,329.90 L563.8,329.88 L565.3,329.86 L566.8,329.83 L568.3,329.80 L569.8,329.77 L571.3,329.73 L572.8,329.70 L574.3,329.66 L575.8,329.61 L577.3,329.57 L578.8,329.52 L580.3,329.47 L581.9,329.41 L583.4,329.36 L584.9,329.30 L586.4,329.23 L587.9,329.16 L589.4,329.08 L590.9,329.00 L592.4,328.92 L593.9,328.83 L595.4,328.75 L596.9,328.66 L598.4,328.56 L599.9,328.47 L601.4,328.37 L602.9,328.27 L604.4,328.18 L605.9,328.08 L607.4,327.98 L608.9,327.89 L610.4,327.79 L611.9,327.69 L613.4,327.60 L614.9,327.51 L616.4,327.42 L617.9,327.33 L619.5,327.24 L621.0,327.15 L622.5,327.06 L624.0,326.97 L625.5,326.88 L627.0,326.79 L628.5,326.71 L630.0,326.62 L631.5,326.54 L633.0,326.45 L634.5,326.37 L636.0,326.29 L637.5,326.21 L639.0,326.13 L640.5,326.05 L642.0,325.98 L643.5,325.91 L645.0,325.83 L646.5,325.76 L648.0,325.70 L649.5,325.63 L651.0,325.57 L652.5,325.50 L654.0,325.45 L655.5,325.39 L657.1,325.34 L658.6,325.28 L660.1,325.24 L661.6,325.19 L663.1,325.15 L664.6,325.11 L666.1,325.07 L667.6,325.04 L669.1,325.01 L670.6,324.98 L672.1,324.95 L673.6,324.93 L675.1,324.92" stroke="rgb(0,148,220)" stroke-width="3.3" fill="none" stroke-opacity="0.88" stroke-dasharray="21.3 5.3 3.3 5.3"/>
<path d="M392.4,324.35 L393.9,324.37 L395.4,324.41 L396.9,324.47 L398.4,324.54 L399.9,324.63 L401.4,324.74 L402.9,324.86 L404.4,325.00 L405.9,325.15 L407.4,325.31 L408.9,325.49 L410.4,325.68 L411.9,325.87 L413.4,326.08 L414.9,326.30 L416.4,326.52 L417.9,326.76 L419.4,327.00 L420.9,327.24 L422.4,327.49 L423.9,327.75 L425.4,328.01 L426.9,328.27 L428.4,328.54 L429.9,328.80 L431.5,329.07 L433.0,329.34 L434.5,329.60 L436.0,329.87 L437.5,330.13 L439.0,330.39 L440.5,330.64 L442.0,330.89 L443.5,331.13 L445.0,331.37 L446.5,331.60 L448.0,331.83 L449.5,332.04 L451.0,332.25 L452.5,332.45 L454.0,332.63 L455.5,332.81 L457.0,332.97 L458.5,333.13 L460.0,333.27 L461.5,333.40 L463.0,333.52 L464.5,333.63 L466.0,333.72 L467.5,333.80 L469.1,333.86 L470.6,333.91 L472.1,333.94 L473.6,333.95 L475.1,333.95 L476.6,333.93 L478.1,333.90 L479.6,333.85 L481.1,333.79 L482.6,333.71 L484.1,333.62 L485.6,333.51 L487.1,333.40 L488.6,333.26 L490.1,333.12 L491.6,332.95 L493.1,332.74 L494.6,332.51 L496.1,332.26 L497.6,331.98 L499.1,331.69 L500.6,331.39 L502.1,331.08 L503.6,330.76 L505.1,330.46 L506.7,330.15 L508.2,329.83 L509.7,329.51 L511.2,329.19 L512.7,328.86 L514.2,328.54 L515.7,328.21 L517.2,327.89 L518.7,327.58 L520.2,327.26 L521.7,326.95 L523.2,326.64 L524.7,326.33 L526.2,326.03 L527.7,325.74 L529.2,325.46 L530.7,325.18 L532.2,324.92 L533.7,324.66 L535.2,324.42 L536.7,324.19 L538.2,323.97 L539.7,323.76 L541.2,323.56 L542.7,323.38 L544.3,323.20 L545.8,323.04 L547.3,322.88 L548.8,322.74 L550.3,322.60 L551.8,322.47 L553.3,322.34 L554.8,322.23 L556.3,322.12 L557.8,322.03 L559.3,321.94 L560.8,321.86 L562.3,321.79 L563.8,321.72 L565.3,321.67 L566.8,321.62 L568.3,321.59 L569.8,321.56 L571.3,321.54 L572.8,321.52 L574.3,321.51 L575.8,321.51 L577.3,321.51 L578.8,321.51 L580.3,321.52 L581.9,321.53 L583.4,321.55 L584.9,321.57 L586.4,321.59 L587.9,321.62 L589.4,321.65 L590.9,321.69 L592.4,321.73 L593.9,321.77 L595.4,321.82 L596.9,321.87 L598.4,321.92 L599.9,321.97 L601.4,322.03 L602.9,322.09 L604.4,322.15 L605.9,322.21 L607.4,322.27 L608.9,322.34 L610.4,322.41 L611.9,322.48 L613.4,322.55 L614.9,322.62 L616.4,322.69 L617.9,322.76 L619.5,322.83 L621.0,322.91 L622.5,322.98 L624.0,323.05 L625.5,323.13 L627.0,323.20 L628.5,323.27 L630.0,323.35 L631.5,323.42 L633.0,323.49 L634.5,323.56 L636.0,323.63 L637.5,323.70 L639.0,323.77 L640.5,323.83 L642.0,323.90 L643.5,323.96 L645.0,324.02 L646.5,324.08 L648.0,324.14 L649.5,324.19 L651.0,324.25 L652.5,324.29 L654.0,324.34 L655.5,324.39 L657.1,324.43 L658.6,324.46 L660.1,324.50 L661.6,324.53 L663.1,324.56 L664.6,324.58 L666.1,324.60 L667.6,324.62 L669.1,324.63 L670.6,324.63 L672.1,324.64 L673.6,324.64 L675.1,324.63" stroke="rgb(0,148,220)" stroke-width="3.3" fill="none" stroke-opacity="0.88" stroke-dasharray="21.3 5.3 3.3 5.3"/>
<path d="M392.4,373.21 L393.9,373.20 L395.4,373.21 L396.9,373.24 L398.4,373.30 L399.9,373.37 L401.4,373.47 L402.9,373.59 L404.4,373.72 L405.9,373.88 L407.4,374.05 L408.9,374.24 L410.4,374.45 L411.9,374.67 L413.4,374.94 L414.9,375.26 L416.4,375.62 L417.9,375.99 L419.4,376.34 L420.9,376.64 L422.4,376.95 L423.9,377.25 L425.4,377.55 L426.9,377.85 L428.4,378.16 L429.9,378.48 L431.5,378.81 L433.0,379.14 L434.5,379.48 L436.0,379.84 L437.5,380.22 L439.0,380.63 L440.5,381.14 L442.0,381.71 L443.5,382.30 L445.0,382.86 L446.5,383.40 L448.0,383.93 L449.5,384.47 L451.0,385.01 L452.5,385.54 L454.0,386.06 L455.5,386.58 L457.0,387.10 L458.5,387.60 L460.0,388.09 L461.5,388.56 L463.0,389.02 L464.5,389.46 L466.0,389.89 L467.5,390.29 L469.1,390.69 L470.6,391.07 L472.1,391.43 L473.6,391.78 L475.1,392.12 L476.6,392.44 L478.1,392.75 L479.6,393.04 L481.1,393.31 L482.6,393.57 L484.1,393.82 L485.6,394.05 L487.1,394.27 L488.6,394.47 L490.1,394.67 L491.6,394.85 L493.1,395.02 L494.6,395.19 L496.1,395.34 L497.6,395.48 L499.1,395.62 L500.6,395.75 L502.1,395.88 L503.6,396.01 L505.1,396.13 L506.7,396.23 L508.2,396.32 L509.7,396.38 L511.2,396.41 L512.7,396.41 L514.2,396.40 L515.7,396.38 L517.2,396.35 L518.7,396.32 L520.2,396.27 L521.7,396.23 L523.2,396.17 L524.7,396.11 L526.2,396.04 L527.7,395.97 L529.2,395.89 L530.7,395.81 L532.2,395.72 L533.7,395.63 L535.2,395.53 L536.7,395.43 L538.2,395.32 L539.7,395.22 L541.2,395.10 L542.7,394.99 L544.3,394.87 L545.8,394.75 L547.3,394.61 L548.8,394.44 L550.3,394.25 L551.8,394.05 L553.3,393.84 L554.8,393.61 L556.3,393.38 L557.8,393.14 L559.3,392.90 L560.8,392.67 L562.3,392.44 L563.8,392.21 L565.3,392.00 L566.8,391.81 L568.3,391.63 L569.8,391.47 L571.3,391.33 L572.8,391.21 L574.3,391.10 L575.8,391.00 L577.3,390.90 L578.8,390.81 L580.3,390.72 L581.9,390.63 L583.4,390.55 L584.9,390.47 L586.4,390.39 L587.9,390.32 L589.4,390.26 L590.9,390.19 L592.4,390.13 L593.9,390.07 L595.4,390.02 L596.9,389.97 L598.4,389.92 L599.9,389.88 L601.4,389.83 L602.9,389.79 L604.4,389.76 L605.9,389.72 L607.4,389.69 L608.9,389.66 L610.4,389.63 L611.9,389.60 L613.4,389.58 L614.9,389.55 L616.4,389.53 L617.9,389.51 L619.5,389.49 L621.0,389.47 L622.5,389.46 L624.0,389.44 L625.5,389.43 L627.0,389.41 L628.5,389.40 L630.0,389.39 L631.5,389.37 L633.0,389.36 L634.5,389.35 L636.0,389.34 L637.5,389.34 L639.0,389.33 L640.5,389.32 L642.0,389.31 L643.5,389.31 L645.0,389.30 L646.5,389.29 L648.0,389.29 L649.5,389.28 L651.0,389.27 L652.5,389.27 L654.0,389.26 L655.5,389.26 L657.1,389.25 L658.6,389.24 L660.1,389.23 L661.6,389.23 L663.1,389.22 L664.6,389.21 L666.1,389.20 L667.6,389.19 L669.1,389.18 L670.6,389.16 L672.1,389.15 L673.6,389.14 L675.1,389.12" stroke="rgb(0,148,220)" stroke-width="3.3" fill="none" stroke-opacity="0.88" stroke-dasharray="21.3 5.3 3.3 5.3"/>
<path d="M392.4,416.77 L393.9,416.80 L395.4,416.77 L396.9,416.69 L398.4,416.57 L399.9,416.41 L401.4,416.20 L402.9,415.95 L404.4,415.66 L405.9,415.34 L407.4,414.99 L408.9,414.60 L410.4,414.18 L411.9,413.74 L413.4,413.25 L414.9,412.73 L416.4,412.17 L417.9,411.59 L419.4,410.98 L420.9,410.37 L422.4,409.74 L423.9,409.09 L425.4,408.42 L426.9,407.74 L428.4,407.05 L429.9,406.36 L431.5,405.65 L433.0,404.95 L434.5,404.24 L436.0,403.53 L437.5,402.83 L439.0,402.12 L440.5,401.43 L442.0,400.73 L443.5,400.05 L445.0,399.37 L446.5,398.69 L448.0,398.02 L449.5,397.36 L451.0,396.70 L452.5,396.05 L454.0,395.40 L455.5,394.74 L457.0,394.08 L458.5,393.44 L460.0,392.81 L461.5,392.21 L463.0,391.64 L464.5,391.11 L466.0,390.62 L467.5,390.17 L469.1,389.72 L470.6,389.30 L472.1,388.89 L473.6,388.49 L475.1,388.11 L476.6,387.75 L478.1,387.40 L479.6,387.08 L481.1,386.77 L482.6,386.47 L484.1,386.20 L485.6,385.94 L487.1,385.70 L488.6,385.48 L490.1,385.27 L491.6,385.08 L493.1,384.90 L494.6,384.74 L496.1,384.59 L497.6,384.46 L499.1,384.34 L500.6,384.23 L502.1,384.14 L503.6,384.05 L505.1,383.98 L506.7,383.92 L508.2,383.87 L509.7,383.83 L511.2,383.79 L512.7,383.77 L514.2,383.76 L515.7,383.76 L517.2,383.77 L518.7,383.80 L520.2,383.83 L521.7,383.87 L523.2,383.92 L524.7,383.98 L526.2,384.04 L527.7,384.11 L529.2,384.20 L530.7,384.28 L532.2,384.37 L533.7,384.47 L535.2,384.58 L536.7,384.68 L538.2,384.79 L539.7,384.91 L541.2,385.03 L542.7,385.15 L544.3,385.27 L545.8,385.39 L547.3,385.53 L548.8,385.68 L550.3,385.84 L551.8,386.01 L553.3,386.19 L554.8,386.37 L556.3,386.55 L557.8,386.73 L559.3,386.91 L560.8,387.08 L562.3,387.25 L563.8,387.41 L565.3,387.55 L566.8,387.69 L568.3,387.80 L569.8,387.90 L571.3,387.98 L572.8,388.04 L574.3,388.10 L575.8,388.15 L577.3,388.20 L578.8,388.24 L580.3,388.28 L581.9,388.31 L583.4,388.34 L584.9,388.37 L586.4,388.40 L587.9,388.42 L589.4,388.43 L590.9,388.45 L592.4,388.46 L593.9,388.47 L595.4,388.48 L596.9,388.48 L598.4,388.48 L599.9,388.48 L601.4,388.48 L602.9,388.47 L604.4,388.47 L605.9,388.46 L607.4,388.45 L608.9,388.44 L610.4,388.42 L611.9,388.41 L613.4,388.39 L614.9,388.38 L616.4,388.36 L617.9,388.34 L619.5,388.33 L621.0,388.31 L622.5,388.29 L624.0,388.27 L625.5,388.25 L627.0,388.23 L628.5,388.22 L630.0,388.20 L631.5,388.18 L633.0,388.16 L634.5,388.15 L636.0,388.13 L637.5,388.11 L639.0,388.10 L640.5,388.09 L642.0,388.07 L643.5,388.06 L645.0,388.05 L646.5,388.04 L648.0,388.04 L649.5,388.03 L651.0,388.03 L652.5,388.03 L654.0,388.03 L655.5,388.03 L657.1,388.04 L658.6,388.04 L660.1,388.05 L661.6,388.07 L663.1,388.08 L664.6,388.10 L666.1,388.12 L667.6,388.14 L669.1,388.17 L670.6,388.20 L672.1,388.23 L673.6,388.27 L675.1,388.31" stroke="rgb(0,148,220)" stroke-width="3.3" fill="none" stroke-opacity="0.88" stroke-dasharray="21.3 5.3 3.3 5.3"/>
<path d="M392.4,438.31 L393.9,438.36 L395.4,438.43 L396.9,438.53 L398.4,438.65 L399.9,438.79 L401.4,438.95 L402.9,439.13 L404.4,439.33 L405.9,439.55 L407.4,439.78 L408.9,440.03 L410.4,440.29 L411.9,440.56 L413.4,440.91 L414.9,441.38 L416.4,441.90 L417.9,442.42 L419.4,442.89 L420.9,443.27 L422.4,443.64 L423.9,444.00 L425.4,444.35 L426.9,444.69 L428.4,445.03 L429.9,445.36 L431.5,445.69 L433.0,446.02 L434.5,446.35 L436.0,446.67 L437.5,447.00 L439.0,447.32 L440.5,447.65 L442.0,447.98 L443.5,448.30 L445.0,448.62 L446.5,448.93 L448.0,449.24 L449.5,449.54 L451.0,449.84 L452.5,450.14 L454.0,450.43 L455.5,450.72 L457.0,451.00 L458.5,451.28 L460.0,451.56 L461.5,451.83 L463.0,452.10 L464.5,452.36 L466.0,452.62 L467.5,452.87 L469.1,453.12 L470.6,453.36 L472.1,453.59 L473.6,453.81 L475.1,454.03 L476.6,454.25 L478.1,454.45 L479.6,454.65 L481.1,454.83 L482.6,455.02 L484.1,455.20 L485.6,455.37 L487.1,455.54 L488.6,455.69 L490.1,455.85 L491.6,455.99 L493.1,456.13 L494.6,456.26 L496.1,456.38 L497.6,456.49 L499.1,456.59 L500.6,456.69 L502.1,456.77 L503.6,456.85 L505.1,456.92 L506.7,456.98 L508.2,457.02 L509.7,457.06 L511.2,457.09 L512.7,457.11 L514.2,457.11 L515.7,457.11 L517.2,457.09 L518.7,457.06 L520.2,457.03 L521.7,456.98 L523.2,456.93 L524.7,456.88 L526.2,456.81 L527.7,456.75 L529.2,456.68 L530.7,456.61 L532.2,456.53 L533.7,456.46 L535.2,456.39 L536.7,456.32 L538.2,456.25 L539.7,456.18 L541.2,456.12 L542.7,456.07 L544.3,456.02 L545.8,455.98 L547.3,455.94 L548.8,455.90 L550.3,455.87 L551.8,455.84 L553.3,455.81 L554.8,455.78 L556.3,455.75 L557.8,455.72 L559.3,455.70 L560.8,455.68 L562.3,455.66 L563.8,455.64 L565.3,455.62 L566.8,455.60 L568.3,455.58 L569.8,455.57 L571.3,455.55 L572.8,455.53 L574.3,455.51 L575.8,455.49 L577.3,455.47 L578.8,455.45 L580.3,455.42 L581.9,455.39 L583.4,455.37 L584.9,455.33 L586.4,455.30 L587.9,455.27 L589.4,455.24 L590.9,455.20 L592.4,455.17 L593.9,455.14 L595.4,455.11 L596.9,455.08 L598.4,455.05 L599.9,455.02 L601.4,454.99 L602.9,454.97 L604.4,454.94 L605.9,454.91 L607.4,454.88 L608.9,454.85 L610.4,454.83 L611.9,454.80 L613.4,454.77 L614.9,454.75 L616.4,454.72 L617.9,454.69 L619.5,454.67 L621.0,454.64 L622.5,454.61 L624.0,454.59 L625.5,454.56 L627.0,454.54 L628.5,454.51 L630.0,454.49 L631.5,454.46 L633.0,454.43 L634.5,454.41 L636.0,454.38 L637.5,454.36 L639.0,454.33 L640.5,454.30 L642.0,454.28 L643.5,454.25 L645.0,454.22 L646.5,454.20 L648.0,454.17 L649.5,454.14 L651.0,454.11 L652.5,454.09 L654.0,454.06 L655.5,454.03 L657.1,454.00 L658.6,453.97 L660.1,453.94 L661.6,453.91 L663.1,453.88 L664.6,453.85 L666.1,453.82 L667.6,453.79 L669.1,453.76 L670.6,453.73 L672.1,453.69 L673.6,453.66 L675.1,453.63" stroke="rgb(0,148,220)" stroke-width="3.3" fill="none" stroke-opacity="0.88" stroke-dasharray="21.3 5.3 3.3 5.3"/>
<path d="M392.4,478.55 L393.9,478.56 L395.4,478.55 L396.9,478.52 L398.4,478.47 L399.9,478.41 L401.4,478.33 L402.9,478.24 L404.4,478.13 L405.9,478.01 L407.4,477.88 L408.9,477.73 L410.4,477.57 L411.9,477.39 L413.4,477.19 L414.9,476.93 L416.4,476.65 L417.9,476.36 L419.4,476.08 L420.9,475.83 L422.4,475.56 L423.9,475.29 L425.4,475.02 L426.9,474.73 L428.4,474.44 L429.9,474.15 L431.5,473.85 L433.0,473.55 L434.5,473.25 L436.0,472.94 L437.5,472.64 L439.0,472.33 L440.5,472.02 L442.0,471.72 L443.5,471.41 L445.0,471.10 L446.5,470.78 L448.0,470.47 L449.5,470.14 L451.0,469.82 L452.5,469.48 L454.0,469.15 L455.5,468.80 L457.0,468.45 L458.5,468.10 L460.0,467.75 L461.5,467.39 L463.0,467.03 L464.5,466.65 L466.0,466.27 L467.5,465.88 L469.1,465.48 L470.6,465.09 L472.1,464.69 L473.6,464.30 L475.1,463.92 L476.6,463.54 L478.1,463.18 L479.6,462.83 L481.1,462.48 L482.6,462.13 L484.1,461.78 L485.6,461.42 L487.1,461.06 L488.6,460.69 L490.1,460.32 L491.6,459.95 L493.1,459.57 L494.6,459.20 L496.1,458.83 L497.6,458.45 L499.1,458.06 L500.6,457.65 L502.1,457.24 L503.6,456.83 L505.1,456.43 L506.7,456.04 L508.2,455.66 L509.7,455.31 L511.2,454.99 L512.7,454.70 L514.2,454.42 L515.7,454.15 L517.2,453.88 L518.7,453.63 L520.2,453.38 L521.7,453.15 L523.2,452.93 L524.7,452.72 L526.2,452.52 L527.7,452.33 L529.2,452.15 L530.7,451.99 L532.2,451.83 L533.7,451.69 L535.2,451.55 L536.7,451.42 L538.2,451.31 L539.7,451.20 L541.2,451.10 L542.7,451.02 L544.3,450.93 L545.8,450.86 L547.3,450.80 L548.8,450.73 L550.3,450.68 L551.8,450.62 L553.3,450.58 L554.8,450.53 L556.3,450.49 L557.8,450.45 L559.3,450.42 L560.8,450.39 L562.3,450.36 L563.8,450.33 L565.3,450.31 L566.8,450.29 L568.3,450.27 L569.8,450.25 L571.3,450.24 L572.8,450.23 L574.3,450.22 L575.8,450.21 L577.3,450.20 L578.8,450.20 L580.3,450.20 L581.9,450.20 L583.4,450.20 L584.9,450.21 L586.4,450.21 L587.9,450.22 L589.4,450.23 L590.9,450.24 L592.4,450.25 L593.9,450.27 L595.4,450.28 L596.9,450.30 L598.4,450.32 L599.9,450.34 L601.4,450.36 L602.9,450.38 L604.4,450.41 L605.9,450.43 L607.4,450.46 L608.9,450.48 L610.4,450.51 L611.9,450.54 L613.4,450.57 L614.9,450.60 L616.4,450.63 L617.9,450.66 L619.5,450.69 L621.0,450.73 L622.5,450.76 L624.0,450.80 L625.5,450.83 L627.0,450.86 L628.5,450.90 L630.0,450.94 L631.5,450.97 L633.0,451.01 L634.5,451.04 L636.0,451.08 L637.5,451.12 L639.0,451.15 L640.5,451.19 L642.0,451.23 L643.5,451.26 L645.0,451.30 L646.5,451.33 L648.0,451.37 L649.5,451.40 L651.0,451.44 L652.5,451.47 L654.0,451.51 L655.5,451.54 L657.1,451.57 L658.6,451.60 L660.1,451.64 L661.6,451.67 L663.1,451.70 L664.6,451.72 L666.1,451.75 L667.6,451.78 L669.1,451.80 L670.6,451.83 L672.1,451.85 L673.6,451.88 L675.1,451.90" stroke="rgb(0,148,220)" stroke-width="3.3" fill="none" stroke-opacity="0.88" stroke-dasharray="21.3 5.3 3.3 5.3"/>
</g>
<line x1="66.35" y1="189.60" x2="66.35" y2="195.20" class="ax"/>
<text x="60.27" y="212.90" font-size="17.2" textLength="11.87" lengthAdjust="spacingAndGlyphs">0</text>
<line x1="137.04" y1="189.60" x2="137.04" y2="195.20" class="ax"/>
<text x="130.67" y="212.90" font-size="17.2" textLength="11.50" lengthAdjust="spacingAndGlyphs">5</text>
<line x1="207.72" y1="189.60" x2="207.72" y2="195.20" class="ax"/>
<text x="197.20" y="212.90" font-size="17.2" textLength="21.87" lengthAdjust="spacingAndGlyphs">10</text>
<line x1="278.41" y1="189.60" x2="278.41" y2="195.20" class="ax"/>
<text x="267.66" y="212.90" font-size="17.2" textLength="21.03" lengthAdjust="spacingAndGlyphs">15</text>
<line x1="349.10" y1="189.60" x2="349.10" y2="195.20" class="ax"/>
<text x="338.34" y="212.90" font-size="17.2" textLength="21.31" lengthAdjust="spacingAndGlyphs">20</text>
<line x1="60.95" y1="182.40" x2="66.35" y2="182.40" class="ax"/>
<text x="24.16" y="188.50" font-size="17.2" textLength="31.47" lengthAdjust="spacingAndGlyphs">100</text>
<line x1="60.95" y1="111.70" x2="66.35" y2="111.70" class="ax"/>
<text x="23.97" y="117.80" font-size="17.2" textLength="31.26" lengthAdjust="spacingAndGlyphs">120</text>
<line x1="60.95" y1="41.00" x2="66.35" y2="41.00" class="ax"/>
<text x="23.99" y="47.10" font-size="17.2" textLength="30.94" lengthAdjust="spacingAndGlyphs">140</text>
<rect x="66.35" y="9.55" width="282.75" height="180.05" class="ax" fill="none"/>
<text x="174.06" y="235.50" font-size="17.9" font-style="italic" textLength="12.74" lengthAdjust="spacingAndGlyphs">X</text>
<text x="184.83" y="238.50" font-size="12.8" font-style="italic" textLength="10.00" lengthAdjust="spacingAndGlyphs">T</text>
<text x="199.52" y="235.50" font-size="17.3" textLength="43.16" lengthAdjust="spacingAndGlyphs">[nm]</text>
<line x1="392.35" y1="189.60" x2="392.35" y2="195.20" class="ax"/>
<text x="386.27" y="212.90" font-size="17.2" textLength="11.87" lengthAdjust="spacingAndGlyphs">0</text>
<line x1="463.04" y1="189.60" x2="463.04" y2="195.20" class="ax"/>
<text x="456.67" y="212.90" font-size="17.2" textLength="11.50" lengthAdjust="spacingAndGlyphs">5</text>
<line x1="533.73" y1="189.60" x2="533.73" y2="195.20" class="ax"/>
<text x="523.20" y="212.90" font-size="17.2" textLength="21.87" lengthAdjust="spacingAndGlyphs">10</text>
<line x1="604.41" y1="189.60" x2="604.41" y2="195.20" class="ax"/>
<text x="593.66" y="212.90" font-size="17.2" textLength="21.03" lengthAdjust="spacingAndGlyphs">15</text>
<line x1="675.10" y1="189.60" x2="675.10" y2="195.20" class="ax"/>
<text x="664.34" y="212.90" font-size="17.2" textLength="21.31" lengthAdjust="spacingAndGlyphs">20</text>
<rect x="392.35" y="9.55" width="282.75" height="180.05" class="ax" fill="none"/>
<text x="500.06" y="235.50" font-size="17.9" font-style="italic" textLength="12.74" lengthAdjust="spacingAndGlyphs">X</text>
<text x="510.83" y="238.50" font-size="12.8" font-style="italic" textLength="10.00" lengthAdjust="spacingAndGlyphs">T</text>
<text x="525.52" y="235.50" font-size="17.3" textLength="43.16" lengthAdjust="spacingAndGlyphs">[nm]</text>
<line x1="66.35" y1="489.00" x2="66.35" y2="494.60" class="ax"/>
<text x="60.27" y="512.30" font-size="17.2" textLength="11.87" lengthAdjust="spacingAndGlyphs">0</text>
<line x1="137.04" y1="489.00" x2="137.04" y2="494.60" class="ax"/>
<text x="130.67" y="512.30" font-size="17.2" textLength="11.50" lengthAdjust="spacingAndGlyphs">5</text>
<line x1="207.72" y1="489.00" x2="207.72" y2="494.60" class="ax"/>
<text x="197.20" y="512.30" font-size="17.2" textLength="21.87" lengthAdjust="spacingAndGlyphs">10</text>
<line x1="278.41" y1="489.00" x2="278.41" y2="494.60" class="ax"/>
<text x="267.66" y="512.30" font-size="17.2" textLength="21.03" lengthAdjust="spacingAndGlyphs">15</text>
<line x1="349.10" y1="489.00" x2="349.10" y2="494.60" class="ax"/>
<text x="338.34" y="512.30" font-size="17.2" textLength="21.31" lengthAdjust="spacingAndGlyphs">20</text>
<line x1="60.95" y1="481.80" x2="66.35" y2="481.80" class="ax"/>
<text x="24.16" y="487.90" font-size="17.2" textLength="31.47" lengthAdjust="spacingAndGlyphs">100</text>
<line x1="60.95" y1="411.10" x2="66.35" y2="411.10" class="ax"/>
<text x="23.97" y="417.20" font-size="17.2" textLength="31.26" lengthAdjust="spacingAndGlyphs">120</text>
<line x1="60.95" y1="340.40" x2="66.35" y2="340.40" class="ax"/>
<text x="23.99" y="346.50" font-size="17.2" textLength="30.94" lengthAdjust="spacingAndGlyphs">140</text>
<rect x="66.35" y="308.95" width="282.75" height="180.05" class="ax" fill="none"/>
<text x="174.06" y="534.90" font-size="17.9" font-style="italic" textLength="12.74" lengthAdjust="spacingAndGlyphs">X</text>
<text x="184.83" y="537.90" font-size="12.8" font-style="italic" textLength="10.00" lengthAdjust="spacingAndGlyphs">T</text>
<text x="199.52" y="534.90" font-size="17.3" textLength="43.16" lengthAdjust="spacingAndGlyphs">[nm]</text>
<line x1="392.35" y1="489.00" x2="392.35" y2="494.60" class="ax"/>
<text x="386.27" y="512.30" font-size="17.2" textLength="11.87" lengthAdjust="spacingAndGlyphs">0</text>
<line x1="463.04" y1="489.00" x2="463.04" y2="494.60" class="ax"/>
<text x="456.67" y="512.30" font-size="17.2" textLength="11.50" lengthAdjust="spacingAndGlyphs">5</text>
<line x1="533.73" y1="489.00" x2="533.73" y2="494.60" class="ax"/>
<text x="523.20" y="512.30" font-size="17.2" textLength="21.87" lengthAdjust="spacingAndGlyphs">10</text>
<line x1="604.41" y1="489.00" x2="604.41" y2="494.60" class="ax"/>
<text x="593.66" y="512.30" font-size="17.2" textLength="21.03" lengthAdjust="spacingAndGlyphs">15</text>
<line x1="675.10" y1="489.00" x2="675.10" y2="494.60" class="ax"/>
<text x="664.34" y="512.30" font-size="17.2" textLength="21.31" lengthAdjust="spacingAndGlyphs">20</text>
<rect x="392.35" y="308.95" width="282.75" height="180.05" class="ax" fill="none"/>
<text x="500.06" y="534.90" font-size="17.9" font-style="italic" textLength="12.74" lengthAdjust="spacingAndGlyphs">X</text>
<text x="510.83" y="537.90" font-size="12.8" font-style="italic" textLength="10.00" lengthAdjust="spacingAndGlyphs">T</text>
<text x="525.52" y="534.90" font-size="17.3" textLength="43.16" lengthAdjust="spacingAndGlyphs">[nm]</text>
<text transform="translate(14.20,0) rotate(-90)" x="-160.37" y="0" font-size="17.8" textLength="121.32" lengthAdjust="spacingAndGlyphs">energy [meV]</text>
<text transform="translate(14.20,0) rotate(-90)" x="-459.77" y="0" font-size="17.8" textLength="121.32" lengthAdjust="spacingAndGlyphs">energy [meV]</text>
<text x="-0.23" y="24.90" font-size="35" font-weight="bold" textLength="17.73" lengthAdjust="spacingAndGlyphs">a</text>
<text x="361.01" y="25.20" font-size="35" font-weight="bold" textLength="23.03" lengthAdjust="spacingAndGlyphs">b</text>
<text x="-0.94" y="325.00" font-size="35" font-weight="bold" textLength="20.52" lengthAdjust="spacingAndGlyphs">c</text>
<text x="361.35" y="324.90" font-size="35" font-weight="bold" textLength="23.03" lengthAdjust="spacingAndGlyphs">d</text>
<rect x="193.50" y="107.70" width="152.20" height="27.80" rx="3" ry="3" fill="#fff" fill-opacity="0.8" stroke="#d6d6d6" stroke-width="1.2"/>
<line x1="198.1" y1="120.6" x2="233.3" y2="120.6" stroke="rgb(0,148,220)" stroke-width="3.3" stroke-opacity="0.88"/>
<text x="243.48" y="125.80" font-size="17" textLength="96.30" lengthAdjust="spacingAndGlyphs">MLP (10NN)</text>
<rect x="565.40" y="107.60" width="105.00" height="28.10" rx="3" ry="3" fill="#fff" fill-opacity="0.8" stroke="#d6d6d6" stroke-width="1.2"/>
<line x1="570.2" y1="120.6" x2="605.9" y2="120.6" stroke="rgb(2,202,108)" stroke-width="3.3" stroke-opacity="0.85"/>
<text x="615.85" y="125.70" font-size="17" textLength="48.86" lengthAdjust="spacingAndGlyphs">Slater</text>
<rect x="201.70" y="407.20" width="141.80" height="27.80" rx="3" ry="3" fill="#fff" fill-opacity="0.8" stroke="#d6d6d6" stroke-width="1.2"/>
<line x1="207.8" y1="419.9" x2="243.1" y2="419.9" stroke="rgb(0,148,220)" stroke-width="3.3" stroke-opacity="0.88" stroke-dasharray="12.3 5.0"/>
<text x="251.88" y="425.50" font-size="17" textLength="86.70" lengthAdjust="spacingAndGlyphs">MLP (5NN)</text>
<rect x="527.60" y="407.20" width="142.40" height="27.80" rx="3" ry="3" fill="#fff" fill-opacity="0.8" stroke="#d6d6d6" stroke-width="1.2"/>
<line x1="534" y1="419.9" x2="569.3" y2="419.9" stroke="rgb(0,148,220)" stroke-width="3.3" stroke-opacity="0.88" stroke-dasharray="21.3 5.3 3.5 5.3"/>
<text x="578.08" y="425.50" font-size="17" textLength="86.29" lengthAdjust="spacingAndGlyphs">MLP (3NN)</text>
<rect x="228.30" y="255.50" width="257.90" height="29.60" rx="3" ry="3" fill="#fff" fill-opacity="0.8" stroke="#d6d6d6" stroke-width="1.2"/>
<line x1="233.8" y1="268.9" x2="269.7" y2="268.9" stroke="#b96ec4" stroke-width="3.3"/>
<text x="281.03" y="274.50" font-size="17.2" textLength="62.15" lengthAdjust="spacingAndGlyphs">Wannier</text>
<line x1="377.5" y1="268.9" x2="412" y2="268.9" stroke="#cfcfcf" stroke-width="2.8" stroke-dasharray="2.8 4.65"/>
<text x="422.10" y="274.50" font-size="17.2" textLength="56.96" lengthAdjust="spacingAndGlyphs">Pristine</text>
</svg></body></html>
